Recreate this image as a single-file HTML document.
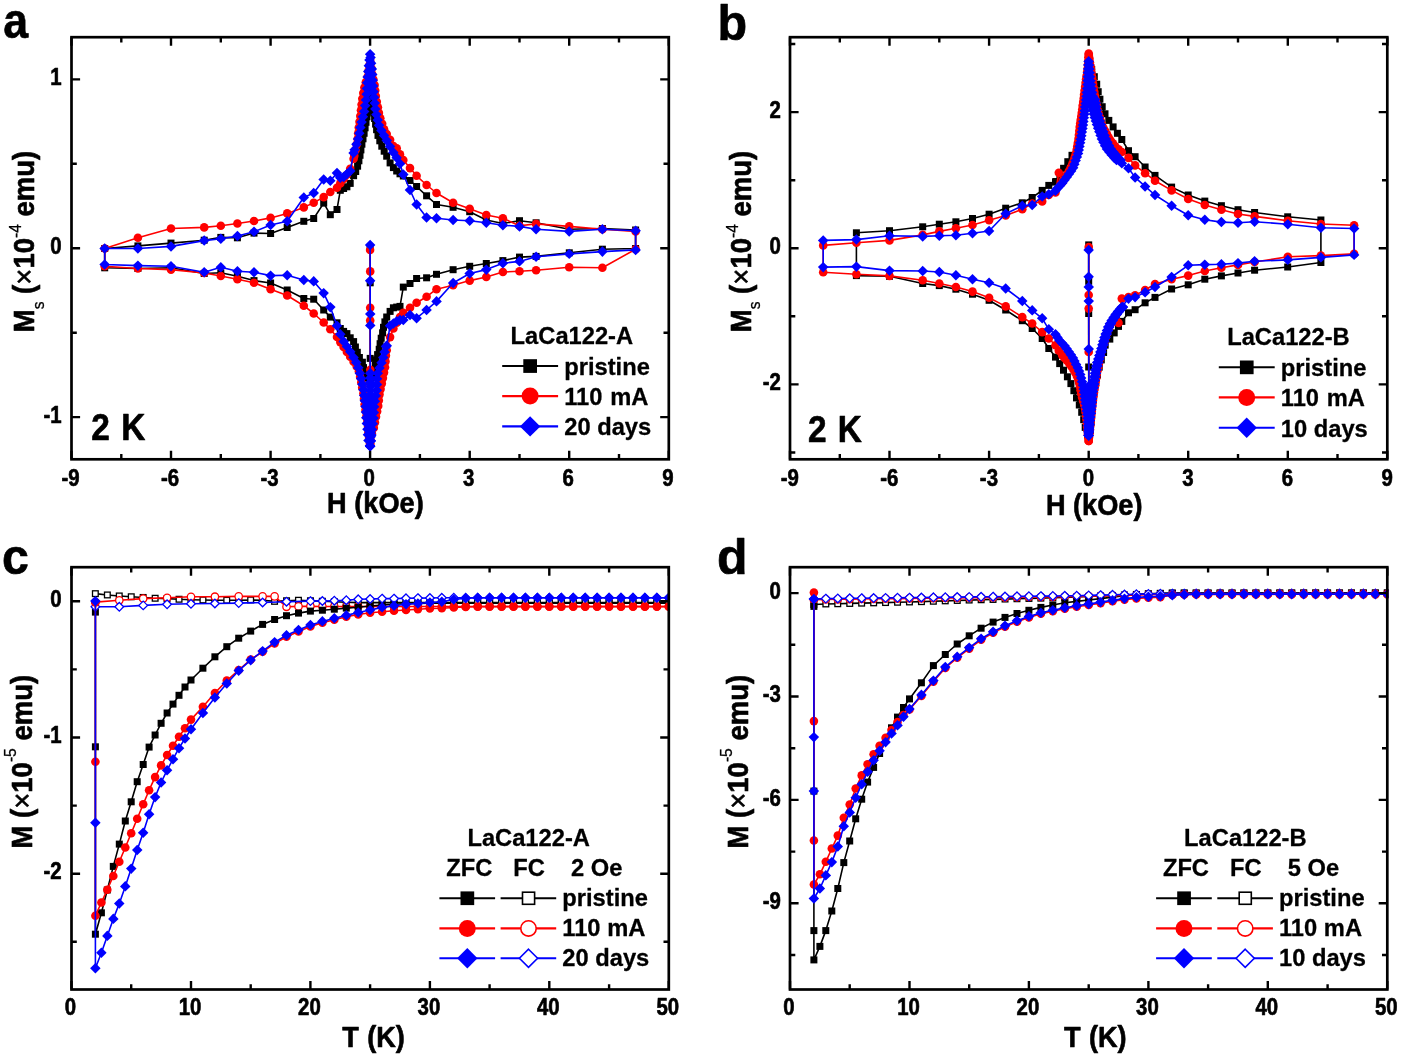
<!DOCTYPE html>
<html lang="en"><head><meta charset="utf-8"><title>Magnetization of LaCa122 samples</title>
<style>html,body{margin:0;padding:0;background:#fff}body{width:1401px;height:1056px;overflow:hidden}svg{display:block}text{font-family:'Liberation Sans', Arial, Helvetica, sans-serif;font-weight:bold;fill:#000;stroke:#000;stroke-width:0.65px;stroke-linejoin:round}tspan.n{font-weight:normal;stroke-width:0.3px}text.lt{stroke-width:0.3px}</style>
</head><body>
<svg width="1401" height="1056" viewBox="0 0 1401 1056" role="img" aria-label="Magnetization loops and temperature dependence for LaCa122-A and LaCa122-B">
<rect width="1401" height="1056" fill="#fff"/>
<g id="panel-a">
<clipPath id="clip-a"><rect x="71.5" y="37.2" width="598.5" height="422.1"/></clipPath>
<g clip-path="url(#clip-a)">
<polyline fill="none" stroke="#000000" stroke-width="1.6" stroke-linejoin="round" points="370.1,248 370.2,282.8 370.2,358.4 370.1,381.5 372.3,376.3 373.9,370.8 375.3,365.4 376.1,359.9 377.6,354.6 379.2,349.3 380.1,343.7 381.2,338.2 382.6,332.8 383.5,327.3 384.9,321.9 386.7,317 390.1,311.4 393.4,307.8 396.7,307.1 400,306.4 403.3,287.1 410,283.5 416.6,278.5 426.6,277.8 436.5,274.3 453.1,269.7 469.7,266.3 486.3,263.5 502.9,260.6 519.5,257.1 536.1,256.4 569.2,252.8 602.4,249.2 635.6,248.5 635.6,230 602.4,228.5 569.2,229.2 536.1,222.8 519.5,220.7 502.9,223.5 486.3,220 469.7,211.7 453.1,207.3 436.5,204.5 426.6,195.8 416.6,186.5 410,180.5 403.3,176 400,173.8 396.7,171 393.4,167.6 390.1,162.9 386.7,156.2 384.2,151.2 381.8,146.2 379.8,140.8 378,135.4 376.6,129.7 375.6,124.1 374.6,118.5 373.7,113 372.7,107.5 372,102 371.3,96.5 370.5,91 370.1,88 369.2,93.5 368.4,99.3 368,105.2 367.5,111 367,116.8 366,122.3 365.1,127.8 364.1,133.3 363,138.8 361.9,144.2 360.9,149.9 360,155.3 358.9,160.8 357.6,166.2 355.7,171.5 353.6,175.7 350.2,183.4 346.9,186.8 343.6,188.5 340.3,190.3 337,209.5 330.3,214.7 323.7,203.1 313.7,218.5 303.8,221.3 287.2,227.5 270.6,233.5 254,233.1 237.4,237.8 220.8,237.4 204.2,240.2 171,243.1 137.9,245.9 104.7,248.5 104.7,267.8 137.9,268.5 171,267.8 204.2,273.5 220.8,272.8 237.4,276.3 254,280.6 270.6,283 287.2,290 303.8,298.5 313.7,299.2 323.7,310 330.3,317.1 337,322.8 340.3,328.5 343.6,331.4 346.9,333.6 350.2,337.8 353.6,341.6 355.4,347 357.3,352.3 359.4,357.5 362.4,362.2 363.5,367.6 365,372.9 367,378.1 370.1,381.5"/>
<rect x="366.6" y="244.5" width="7" height="7" fill="#000000"/><rect x="366.7" y="279.3" width="7" height="7" fill="#000000"/><rect x="366.7" y="354.9" width="7" height="7" fill="#000000"/><rect x="366.6" y="378" width="7" height="7" fill="#000000"/><rect x="368.8" y="372.8" width="7" height="7" fill="#000000"/><rect x="370.4" y="367.3" width="7" height="7" fill="#000000"/><rect x="371.8" y="361.9" width="7" height="7" fill="#000000"/><rect x="372.6" y="356.4" width="7" height="7" fill="#000000"/><rect x="374.1" y="351.1" width="7" height="7" fill="#000000"/><rect x="375.7" y="345.8" width="7" height="7" fill="#000000"/><rect x="376.6" y="340.2" width="7" height="7" fill="#000000"/><rect x="377.7" y="334.7" width="7" height="7" fill="#000000"/><rect x="379.1" y="329.3" width="7" height="7" fill="#000000"/><rect x="380" y="323.8" width="7" height="7" fill="#000000"/><rect x="381.4" y="318.4" width="7" height="7" fill="#000000"/><rect x="383.2" y="313.5" width="7" height="7" fill="#000000"/><rect x="386.6" y="307.9" width="7" height="7" fill="#000000"/><rect x="389.9" y="304.3" width="7" height="7" fill="#000000"/><rect x="393.2" y="303.6" width="7" height="7" fill="#000000"/><rect x="396.5" y="302.9" width="7" height="7" fill="#000000"/><rect x="399.8" y="283.6" width="7" height="7" fill="#000000"/><rect x="406.5" y="280" width="7" height="7" fill="#000000"/><rect x="413.1" y="275" width="7" height="7" fill="#000000"/><rect x="423.1" y="274.3" width="7" height="7" fill="#000000"/><rect x="433" y="270.8" width="7" height="7" fill="#000000"/><rect x="449.6" y="266.2" width="7" height="7" fill="#000000"/><rect x="466.2" y="262.8" width="7" height="7" fill="#000000"/><rect x="482.8" y="260" width="7" height="7" fill="#000000"/><rect x="499.4" y="257.1" width="7" height="7" fill="#000000"/><rect x="516" y="253.6" width="7" height="7" fill="#000000"/><rect x="532.6" y="252.9" width="7" height="7" fill="#000000"/><rect x="565.8" y="249.3" width="7" height="7" fill="#000000"/><rect x="598.9" y="245.7" width="7" height="7" fill="#000000"/><rect x="632.1" y="245" width="7" height="7" fill="#000000"/><rect x="632.1" y="226.5" width="7" height="7" fill="#000000"/><rect x="598.9" y="225" width="7" height="7" fill="#000000"/><rect x="565.8" y="225.7" width="7" height="7" fill="#000000"/><rect x="532.6" y="219.3" width="7" height="7" fill="#000000"/><rect x="516" y="217.2" width="7" height="7" fill="#000000"/><rect x="499.4" y="220" width="7" height="7" fill="#000000"/><rect x="482.8" y="216.5" width="7" height="7" fill="#000000"/><rect x="466.2" y="208.2" width="7" height="7" fill="#000000"/><rect x="449.6" y="203.8" width="7" height="7" fill="#000000"/><rect x="433" y="201" width="7" height="7" fill="#000000"/><rect x="423.1" y="192.3" width="7" height="7" fill="#000000"/><rect x="413.1" y="183" width="7" height="7" fill="#000000"/><rect x="406.5" y="177" width="7" height="7" fill="#000000"/><rect x="399.8" y="172.5" width="7" height="7" fill="#000000"/><rect x="396.5" y="170.3" width="7" height="7" fill="#000000"/><rect x="393.2" y="167.5" width="7" height="7" fill="#000000"/><rect x="389.9" y="164.1" width="7" height="7" fill="#000000"/><rect x="386.6" y="159.4" width="7" height="7" fill="#000000"/><rect x="383.2" y="152.7" width="7" height="7" fill="#000000"/><rect x="380.7" y="147.7" width="7" height="7" fill="#000000"/><rect x="378.3" y="142.7" width="7" height="7" fill="#000000"/><rect x="376.3" y="137.3" width="7" height="7" fill="#000000"/><rect x="374.5" y="131.9" width="7" height="7" fill="#000000"/><rect x="373.1" y="126.2" width="7" height="7" fill="#000000"/><rect x="372.1" y="120.6" width="7" height="7" fill="#000000"/><rect x="371.1" y="115" width="7" height="7" fill="#000000"/><rect x="370.2" y="109.5" width="7" height="7" fill="#000000"/><rect x="369.2" y="104" width="7" height="7" fill="#000000"/><rect x="368.5" y="98.5" width="7" height="7" fill="#000000"/><rect x="367.8" y="93" width="7" height="7" fill="#000000"/><rect x="367" y="87.5" width="7" height="7" fill="#000000"/><rect x="366.6" y="84.5" width="7" height="7" fill="#000000"/><rect x="365.7" y="90" width="7" height="7" fill="#000000"/><rect x="364.9" y="95.8" width="7" height="7" fill="#000000"/><rect x="364.5" y="101.7" width="7" height="7" fill="#000000"/><rect x="364" y="107.5" width="7" height="7" fill="#000000"/><rect x="363.5" y="113.3" width="7" height="7" fill="#000000"/><rect x="362.5" y="118.8" width="7" height="7" fill="#000000"/><rect x="361.6" y="124.3" width="7" height="7" fill="#000000"/><rect x="360.6" y="129.8" width="7" height="7" fill="#000000"/><rect x="359.5" y="135.3" width="7" height="7" fill="#000000"/><rect x="358.4" y="140.7" width="7" height="7" fill="#000000"/><rect x="357.4" y="146.4" width="7" height="7" fill="#000000"/><rect x="356.5" y="151.8" width="7" height="7" fill="#000000"/><rect x="355.4" y="157.3" width="7" height="7" fill="#000000"/><rect x="354.1" y="162.7" width="7" height="7" fill="#000000"/><rect x="352.2" y="168" width="7" height="7" fill="#000000"/><rect x="350.1" y="172.2" width="7" height="7" fill="#000000"/><rect x="346.7" y="179.9" width="7" height="7" fill="#000000"/><rect x="343.4" y="183.3" width="7" height="7" fill="#000000"/><rect x="340.1" y="185" width="7" height="7" fill="#000000"/><rect x="336.8" y="186.8" width="7" height="7" fill="#000000"/><rect x="333.5" y="206" width="7" height="7" fill="#000000"/><rect x="326.8" y="211.2" width="7" height="7" fill="#000000"/><rect x="320.2" y="199.6" width="7" height="7" fill="#000000"/><rect x="310.2" y="215" width="7" height="7" fill="#000000"/><rect x="300.3" y="217.8" width="7" height="7" fill="#000000"/><rect x="283.7" y="224" width="7" height="7" fill="#000000"/><rect x="267.1" y="230" width="7" height="7" fill="#000000"/><rect x="250.5" y="229.6" width="7" height="7" fill="#000000"/><rect x="233.9" y="234.3" width="7" height="7" fill="#000000"/><rect x="217.3" y="233.9" width="7" height="7" fill="#000000"/><rect x="200.7" y="236.7" width="7" height="7" fill="#000000"/><rect x="167.5" y="239.6" width="7" height="7" fill="#000000"/><rect x="134.4" y="242.4" width="7" height="7" fill="#000000"/><rect x="101.2" y="245" width="7" height="7" fill="#000000"/><rect x="101.2" y="264.3" width="7" height="7" fill="#000000"/><rect x="134.4" y="265" width="7" height="7" fill="#000000"/><rect x="167.5" y="264.3" width="7" height="7" fill="#000000"/><rect x="200.7" y="270" width="7" height="7" fill="#000000"/><rect x="217.3" y="269.3" width="7" height="7" fill="#000000"/><rect x="233.9" y="272.8" width="7" height="7" fill="#000000"/><rect x="250.5" y="277.1" width="7" height="7" fill="#000000"/><rect x="267.1" y="279.5" width="7" height="7" fill="#000000"/><rect x="283.7" y="286.5" width="7" height="7" fill="#000000"/><rect x="300.3" y="295" width="7" height="7" fill="#000000"/><rect x="310.2" y="295.7" width="7" height="7" fill="#000000"/><rect x="320.2" y="306.5" width="7" height="7" fill="#000000"/><rect x="326.8" y="313.6" width="7" height="7" fill="#000000"/><rect x="333.5" y="319.3" width="7" height="7" fill="#000000"/><rect x="336.8" y="325" width="7" height="7" fill="#000000"/><rect x="340.1" y="327.9" width="7" height="7" fill="#000000"/><rect x="343.4" y="330.1" width="7" height="7" fill="#000000"/><rect x="346.7" y="334.3" width="7" height="7" fill="#000000"/><rect x="350.1" y="338.1" width="7" height="7" fill="#000000"/><rect x="351.9" y="343.5" width="7" height="7" fill="#000000"/><rect x="353.8" y="348.8" width="7" height="7" fill="#000000"/><rect x="355.9" y="354" width="7" height="7" fill="#000000"/><rect x="358.9" y="358.7" width="7" height="7" fill="#000000"/><rect x="360" y="364.1" width="7" height="7" fill="#000000"/><rect x="361.5" y="369.4" width="7" height="7" fill="#000000"/><rect x="363.5" y="374.6" width="7" height="7" fill="#000000"/><rect x="366.6" y="378" width="7" height="7" fill="#000000"/>
<polyline fill="none" stroke="#ff0000" stroke-width="1.6" stroke-linejoin="round" points="370.1,250 370.2,271.4 370.2,307.8 370.2,320.6 370.3,369.8 370.3,384 370.3,398 370.4,412 370.4,426 370.1,444 370.3,438.5 371.8,433.2 373.8,427.9 374.9,422.4 376,416.8 377.1,411.4 378.2,405.9 378.8,400.4 379.5,394.6 380.6,389.1 381.8,383.6 382.9,378.1 384,372.6 385,367.2 385.5,361.4 385.9,355.6 386.7,350.3 390.1,337.1 393.4,328.5 396.7,322.8 400,317 403.3,312.8 410,307.8 416.6,302.8 426.6,296.7 436.5,289.2 453.1,285.2 469.7,280.6 486.3,277 502.9,272 519.5,271.3 536.1,270.3 569.2,267.3 602.4,267.8 635.6,249.2 635.6,231.4 602.4,229.2 569.2,226.4 536.1,223.9 519.5,225.7 502.9,218.2 486.3,215 469.7,208.8 453.1,202.8 436.5,193 426.6,185 416.6,175.8 410,168.1 403.3,160 400,154.4 396.7,148.2 393.4,146.1 390.1,139.8 386.7,134.1 384.1,129.4 382.2,123.8 380.3,118.3 378.9,112.9 377.9,107.3 376.8,101.7 375.8,96 375.2,90.5 374.6,85 373.4,79.6 372.2,74.2 371.6,68.6 370.6,63 370.1,60 369.2,65.6 368.4,71.2 367.6,76.8 365.8,82.2 364.4,87.6 363.3,93.1 362.3,98.8 361.6,104.6 361,110.3 360.3,116 359.5,121.8 358.8,127.5 358.2,133.2 357.7,138.9 356.6,144.6 355.5,150.3 354.3,155.7 353.6,158.8 350.2,168.8 346.9,174.8 343.6,179 340.3,183.4 337,187.7 330.3,192 323.7,197.1 313.7,202.7 303.8,207.4 287.2,213.4 270.6,217.9 254,221 237.4,223.5 220.8,225.7 204.2,227.4 171,228.5 137.9,237.8 104.7,248.5 104.7,266.3 137.9,268.5 171,269.6 204.2,273 220.8,276 237.4,279.2 254,282.8 270.6,289.2 287.2,295.5 303.8,305.7 313.7,313.5 323.7,322.5 330.3,329.2 337,337 340.3,342.1 343.6,347 346.9,351.9 350.2,356.8 353.6,361.7 356.7,366.4 358.9,371.5 360.1,376.9 361.3,382.4 362.2,387.8 363.4,393.4 364,399 364.6,404.6 365.5,410.1 366.5,415.7 367.4,421.1 368.1,426.6 368.5,432.2 369.1,437.8 370.1,443.4 370.1,444"/>
<circle cx="370.1" cy="250" r="4.3" fill="#ff0000"/><circle cx="370.2" cy="271.4" r="4.3" fill="#ff0000"/><circle cx="370.2" cy="307.8" r="4.3" fill="#ff0000"/><circle cx="370.2" cy="320.6" r="4.3" fill="#ff0000"/><circle cx="370.3" cy="369.8" r="4.3" fill="#ff0000"/><circle cx="370.3" cy="384" r="4.3" fill="#ff0000"/><circle cx="370.3" cy="398" r="4.3" fill="#ff0000"/><circle cx="370.4" cy="412" r="4.3" fill="#ff0000"/><circle cx="370.4" cy="426" r="4.3" fill="#ff0000"/><circle cx="370.1" cy="444" r="4.3" fill="#ff0000"/><circle cx="370.3" cy="438.5" r="4.3" fill="#ff0000"/><circle cx="371.8" cy="433.2" r="4.3" fill="#ff0000"/><circle cx="373.8" cy="427.9" r="4.3" fill="#ff0000"/><circle cx="374.9" cy="422.4" r="4.3" fill="#ff0000"/><circle cx="376" cy="416.8" r="4.3" fill="#ff0000"/><circle cx="377.1" cy="411.4" r="4.3" fill="#ff0000"/><circle cx="378.2" cy="405.9" r="4.3" fill="#ff0000"/><circle cx="378.8" cy="400.4" r="4.3" fill="#ff0000"/><circle cx="379.5" cy="394.6" r="4.3" fill="#ff0000"/><circle cx="380.6" cy="389.1" r="4.3" fill="#ff0000"/><circle cx="381.8" cy="383.6" r="4.3" fill="#ff0000"/><circle cx="382.9" cy="378.1" r="4.3" fill="#ff0000"/><circle cx="384" cy="372.6" r="4.3" fill="#ff0000"/><circle cx="385" cy="367.2" r="4.3" fill="#ff0000"/><circle cx="385.5" cy="361.4" r="4.3" fill="#ff0000"/><circle cx="385.9" cy="355.6" r="4.3" fill="#ff0000"/><circle cx="386.7" cy="350.3" r="4.3" fill="#ff0000"/><circle cx="390.1" cy="337.1" r="4.3" fill="#ff0000"/><circle cx="393.4" cy="328.5" r="4.3" fill="#ff0000"/><circle cx="396.7" cy="322.8" r="4.3" fill="#ff0000"/><circle cx="400" cy="317" r="4.3" fill="#ff0000"/><circle cx="403.3" cy="312.8" r="4.3" fill="#ff0000"/><circle cx="410" cy="307.8" r="4.3" fill="#ff0000"/><circle cx="416.6" cy="302.8" r="4.3" fill="#ff0000"/><circle cx="426.6" cy="296.7" r="4.3" fill="#ff0000"/><circle cx="436.5" cy="289.2" r="4.3" fill="#ff0000"/><circle cx="453.1" cy="285.2" r="4.3" fill="#ff0000"/><circle cx="469.7" cy="280.6" r="4.3" fill="#ff0000"/><circle cx="486.3" cy="277" r="4.3" fill="#ff0000"/><circle cx="502.9" cy="272" r="4.3" fill="#ff0000"/><circle cx="519.5" cy="271.3" r="4.3" fill="#ff0000"/><circle cx="536.1" cy="270.3" r="4.3" fill="#ff0000"/><circle cx="569.2" cy="267.3" r="4.3" fill="#ff0000"/><circle cx="602.4" cy="267.8" r="4.3" fill="#ff0000"/><circle cx="635.6" cy="249.2" r="4.3" fill="#ff0000"/><circle cx="635.6" cy="231.4" r="4.3" fill="#ff0000"/><circle cx="602.4" cy="229.2" r="4.3" fill="#ff0000"/><circle cx="569.2" cy="226.4" r="4.3" fill="#ff0000"/><circle cx="536.1" cy="223.9" r="4.3" fill="#ff0000"/><circle cx="519.5" cy="225.7" r="4.3" fill="#ff0000"/><circle cx="502.9" cy="218.2" r="4.3" fill="#ff0000"/><circle cx="486.3" cy="215" r="4.3" fill="#ff0000"/><circle cx="469.7" cy="208.8" r="4.3" fill="#ff0000"/><circle cx="453.1" cy="202.8" r="4.3" fill="#ff0000"/><circle cx="436.5" cy="193" r="4.3" fill="#ff0000"/><circle cx="426.6" cy="185" r="4.3" fill="#ff0000"/><circle cx="416.6" cy="175.8" r="4.3" fill="#ff0000"/><circle cx="410" cy="168.1" r="4.3" fill="#ff0000"/><circle cx="403.3" cy="160" r="4.3" fill="#ff0000"/><circle cx="400" cy="154.4" r="4.3" fill="#ff0000"/><circle cx="396.7" cy="148.2" r="4.3" fill="#ff0000"/><circle cx="393.4" cy="146.1" r="4.3" fill="#ff0000"/><circle cx="390.1" cy="139.8" r="4.3" fill="#ff0000"/><circle cx="386.7" cy="134.1" r="4.3" fill="#ff0000"/><circle cx="384.1" cy="129.4" r="4.3" fill="#ff0000"/><circle cx="382.2" cy="123.8" r="4.3" fill="#ff0000"/><circle cx="380.3" cy="118.3" r="4.3" fill="#ff0000"/><circle cx="378.9" cy="112.9" r="4.3" fill="#ff0000"/><circle cx="377.9" cy="107.3" r="4.3" fill="#ff0000"/><circle cx="376.8" cy="101.7" r="4.3" fill="#ff0000"/><circle cx="375.8" cy="96" r="4.3" fill="#ff0000"/><circle cx="375.2" cy="90.5" r="4.3" fill="#ff0000"/><circle cx="374.6" cy="85" r="4.3" fill="#ff0000"/><circle cx="373.4" cy="79.6" r="4.3" fill="#ff0000"/><circle cx="372.2" cy="74.2" r="4.3" fill="#ff0000"/><circle cx="371.6" cy="68.6" r="4.3" fill="#ff0000"/><circle cx="370.6" cy="63" r="4.3" fill="#ff0000"/><circle cx="370.1" cy="60" r="4.3" fill="#ff0000"/><circle cx="369.2" cy="65.6" r="4.3" fill="#ff0000"/><circle cx="368.4" cy="71.2" r="4.3" fill="#ff0000"/><circle cx="367.6" cy="76.8" r="4.3" fill="#ff0000"/><circle cx="365.8" cy="82.2" r="4.3" fill="#ff0000"/><circle cx="364.4" cy="87.6" r="4.3" fill="#ff0000"/><circle cx="363.3" cy="93.1" r="4.3" fill="#ff0000"/><circle cx="362.3" cy="98.8" r="4.3" fill="#ff0000"/><circle cx="361.6" cy="104.6" r="4.3" fill="#ff0000"/><circle cx="361" cy="110.3" r="4.3" fill="#ff0000"/><circle cx="360.3" cy="116" r="4.3" fill="#ff0000"/><circle cx="359.5" cy="121.8" r="4.3" fill="#ff0000"/><circle cx="358.8" cy="127.5" r="4.3" fill="#ff0000"/><circle cx="358.2" cy="133.2" r="4.3" fill="#ff0000"/><circle cx="357.7" cy="138.9" r="4.3" fill="#ff0000"/><circle cx="356.6" cy="144.6" r="4.3" fill="#ff0000"/><circle cx="355.5" cy="150.3" r="4.3" fill="#ff0000"/><circle cx="354.3" cy="155.7" r="4.3" fill="#ff0000"/><circle cx="353.6" cy="158.8" r="4.3" fill="#ff0000"/><circle cx="350.2" cy="168.8" r="4.3" fill="#ff0000"/><circle cx="346.9" cy="174.8" r="4.3" fill="#ff0000"/><circle cx="343.6" cy="179" r="4.3" fill="#ff0000"/><circle cx="340.3" cy="183.4" r="4.3" fill="#ff0000"/><circle cx="337" cy="187.7" r="4.3" fill="#ff0000"/><circle cx="330.3" cy="192" r="4.3" fill="#ff0000"/><circle cx="323.7" cy="197.1" r="4.3" fill="#ff0000"/><circle cx="313.7" cy="202.7" r="4.3" fill="#ff0000"/><circle cx="303.8" cy="207.4" r="4.3" fill="#ff0000"/><circle cx="287.2" cy="213.4" r="4.3" fill="#ff0000"/><circle cx="270.6" cy="217.9" r="4.3" fill="#ff0000"/><circle cx="254" cy="221" r="4.3" fill="#ff0000"/><circle cx="237.4" cy="223.5" r="4.3" fill="#ff0000"/><circle cx="220.8" cy="225.7" r="4.3" fill="#ff0000"/><circle cx="204.2" cy="227.4" r="4.3" fill="#ff0000"/><circle cx="171" cy="228.5" r="4.3" fill="#ff0000"/><circle cx="137.9" cy="237.8" r="4.3" fill="#ff0000"/><circle cx="104.7" cy="248.5" r="4.3" fill="#ff0000"/><circle cx="104.7" cy="266.3" r="4.3" fill="#ff0000"/><circle cx="137.9" cy="268.5" r="4.3" fill="#ff0000"/><circle cx="171" cy="269.6" r="4.3" fill="#ff0000"/><circle cx="204.2" cy="273" r="4.3" fill="#ff0000"/><circle cx="220.8" cy="276" r="4.3" fill="#ff0000"/><circle cx="237.4" cy="279.2" r="4.3" fill="#ff0000"/><circle cx="254" cy="282.8" r="4.3" fill="#ff0000"/><circle cx="270.6" cy="289.2" r="4.3" fill="#ff0000"/><circle cx="287.2" cy="295.5" r="4.3" fill="#ff0000"/><circle cx="303.8" cy="305.7" r="4.3" fill="#ff0000"/><circle cx="313.7" cy="313.5" r="4.3" fill="#ff0000"/><circle cx="323.7" cy="322.5" r="4.3" fill="#ff0000"/><circle cx="330.3" cy="329.2" r="4.3" fill="#ff0000"/><circle cx="337" cy="337" r="4.3" fill="#ff0000"/><circle cx="340.3" cy="342.1" r="4.3" fill="#ff0000"/><circle cx="343.6" cy="347" r="4.3" fill="#ff0000"/><circle cx="346.9" cy="351.9" r="4.3" fill="#ff0000"/><circle cx="350.2" cy="356.8" r="4.3" fill="#ff0000"/><circle cx="353.6" cy="361.7" r="4.3" fill="#ff0000"/><circle cx="356.7" cy="366.4" r="4.3" fill="#ff0000"/><circle cx="358.9" cy="371.5" r="4.3" fill="#ff0000"/><circle cx="360.1" cy="376.9" r="4.3" fill="#ff0000"/><circle cx="361.3" cy="382.4" r="4.3" fill="#ff0000"/><circle cx="362.2" cy="387.8" r="4.3" fill="#ff0000"/><circle cx="363.4" cy="393.4" r="4.3" fill="#ff0000"/><circle cx="364" cy="399" r="4.3" fill="#ff0000"/><circle cx="364.6" cy="404.6" r="4.3" fill="#ff0000"/><circle cx="365.5" cy="410.1" r="4.3" fill="#ff0000"/><circle cx="366.5" cy="415.7" r="4.3" fill="#ff0000"/><circle cx="367.4" cy="421.1" r="4.3" fill="#ff0000"/><circle cx="368.1" cy="426.6" r="4.3" fill="#ff0000"/><circle cx="368.5" cy="432.2" r="4.3" fill="#ff0000"/><circle cx="369.1" cy="437.8" r="4.3" fill="#ff0000"/><circle cx="370.1" cy="443.4" r="4.3" fill="#ff0000"/><circle cx="370.1" cy="444" r="4.3" fill="#ff0000"/>
<polyline fill="none" stroke="#0000ff" stroke-width="1.6" stroke-linejoin="round" points="370.1,245 370.2,280.7 370.2,314 370.2,325.4 370.3,373.2 370.3,378 370.3,382.2 370.4,386.4 370.4,390.6 370.4,394.8 370.4,399 370.5,403.2 370.5,407.4 370.5,411.6 370.6,415.8 370.6,420 370.6,424.2 370.7,428.4 370.7,432.6 370.7,436.8 370.8,441 370.1,446.3 370.8,440.7 371.4,435.1 372,429.5 372.8,423.8 373.6,418.1 373.9,412.4 374.2,406.8 374.9,401.3 375.8,395.7 376.8,390.2 376.9,384.6 377,378.8 377.8,373.2 379.5,367.9 381.5,362.7 383.2,357.5 384.6,352 386,346.5 386.7,345.8 390.1,325.7 393.4,323.5 396.7,321.4 400,320 403.3,320 410,315 416.6,318.2 426.6,310 436.5,301.4 453.1,283 469.7,273.5 486.3,269.6 502.9,263.2 519.5,261.4 536.1,256.8 569.2,253.9 602.4,251.6 635.6,249.9 635.6,230.7 602.4,229.2 569.2,231.4 536.1,229.2 519.5,226.4 502.9,225.2 486.3,222.8 469.7,220.7 453.1,220 436.5,218.2 426.6,217.4 416.6,204.5 410,190 403.3,174.5 400,163.7 396.7,157.8 393.4,152.5 390.1,146.4 386.7,140.6 384,135.6 381.4,130.5 379,125.3 377.7,120 376.4,114.6 375.4,108.9 374.8,103.1 374.2,97.4 373.6,91.7 373.1,86 372.6,80.3 372.2,74.6 371.8,68.9 371.2,63.2 370.5,57.5 370.1,54.3 369.5,60 368.8,65.7 368.2,71.4 367.7,77.1 367.2,82.8 366.9,88.5 366.6,94.2 366,99.9 365.1,105.6 364.2,111.4 362.9,116.8 361.6,122.1 360.3,127.5 359.2,133.2 358.1,138.9 356.5,144.2 354.6,149.8 353.6,153 350.2,171 346.9,174 343.6,177 340.3,177.8 337,173.1 330.3,180.8 323.7,179.5 313.7,193 303.8,197.5 287.2,221.3 270.6,225 254,231.8 237.4,236.1 220.8,238.8 204.2,240.6 171,246.4 137.9,248.5 104.7,248.5 104.7,264.5 137.9,265.6 171,266.3 204.2,272.3 220.8,267.3 237.4,271.3 254,272.3 270.6,275.6 287.2,275.2 303.8,280 313.7,281.4 323.7,293.1 330.3,307.1 337,325.7 340.3,334.2 343.6,341.4 346.9,346.5 350.2,351.7 353.6,357.5 356.3,362.5 358.3,367.8 359.9,373.2 361.2,378.6 362.4,384.2 363.4,389.8 364.1,395.4 364.8,400.8 365.6,406.4 365.9,412.1 366.2,417.8 366.8,423.5 367.4,429.2 367.9,434.8 368.4,440.4 370,445.8 370.1,446.3"/>
<polygon points="370.1,239.8 375.4,245 370.1,250.2 364.9,245" fill="#0000ff"/><polygon points="370.2,275.4 375.4,280.7 370.2,285.9 364.9,280.7" fill="#0000ff"/><polygon points="370.2,308.8 375.5,314 370.2,319.2 365,314" fill="#0000ff"/><polygon points="370.2,320.1 375.5,325.4 370.2,330.6 365,325.4" fill="#0000ff"/><polygon points="370.3,367.9 375.5,373.2 370.3,378.4 365,373.2" fill="#0000ff"/><polygon points="370.3,372.8 375.5,378 370.3,383.2 365,378" fill="#0000ff"/><polygon points="370.3,376.9 375.6,382.2 370.3,387.4 365.1,382.2" fill="#0000ff"/><polygon points="370.4,381.1 375.6,386.4 370.4,391.6 365.1,386.4" fill="#0000ff"/><polygon points="370.4,385.4 375.6,390.6 370.4,395.9 365.1,390.6" fill="#0000ff"/><polygon points="370.4,389.6 375.7,394.8 370.4,400.1 365.2,394.8" fill="#0000ff"/><polygon points="370.4,393.8 375.7,399 370.4,404.2 365.2,399" fill="#0000ff"/><polygon points="370.5,397.9 375.7,403.2 370.5,408.4 365.2,403.2" fill="#0000ff"/><polygon points="370.5,402.1 375.8,407.4 370.5,412.6 365.3,407.4" fill="#0000ff"/><polygon points="370.5,406.4 375.8,411.6 370.5,416.9 365.3,411.6" fill="#0000ff"/><polygon points="370.6,410.6 375.8,415.8 370.6,421.1 365.3,415.8" fill="#0000ff"/><polygon points="370.6,414.8 375.8,420 370.6,425.2 365.3,420" fill="#0000ff"/><polygon points="370.6,418.9 375.9,424.2 370.6,429.4 365.4,424.2" fill="#0000ff"/><polygon points="370.7,423.1 375.9,428.4 370.7,433.6 365.4,428.4" fill="#0000ff"/><polygon points="370.7,427.4 375.9,432.6 370.7,437.9 365.4,432.6" fill="#0000ff"/><polygon points="370.7,431.6 376,436.8 370.7,442.1 365.5,436.8" fill="#0000ff"/><polygon points="370.8,435.8 376,441 370.8,446.2 365.5,441" fill="#0000ff"/><polygon points="370.1,441.1 375.4,446.3 370.1,451.6 364.9,446.3" fill="#0000ff"/><polygon points="370.8,435.5 376.1,440.7 370.8,446 365.6,440.7" fill="#0000ff"/><polygon points="371.4,429.9 376.7,435.1 371.4,440.4 366.2,435.1" fill="#0000ff"/><polygon points="372,424.3 377.2,429.5 372,434.8 366.7,429.5" fill="#0000ff"/><polygon points="372.8,418.6 378.1,423.8 372.8,429.1 367.6,423.8" fill="#0000ff"/><polygon points="373.6,412.9 378.9,418.1 373.6,423.4 368.4,418.1" fill="#0000ff"/><polygon points="373.9,407.2 379.1,412.4 373.9,417.7 368.6,412.4" fill="#0000ff"/><polygon points="374.2,401.5 379.4,406.8 374.2,412 368.9,406.8" fill="#0000ff"/><polygon points="374.9,396 380.2,401.3 374.9,406.5 369.7,401.3" fill="#0000ff"/><polygon points="375.8,390.5 381.1,395.7 375.8,401 370.6,395.7" fill="#0000ff"/><polygon points="376.8,385 382,390.2 376.8,395.5 371.5,390.2" fill="#0000ff"/><polygon points="376.9,379.3 382.2,384.6 376.9,389.8 371.7,384.6" fill="#0000ff"/><polygon points="377,373.5 382.3,378.8 377,384 371.8,378.8" fill="#0000ff"/><polygon points="377.8,368 383,373.2 377.8,378.5 372.5,373.2" fill="#0000ff"/><polygon points="379.5,362.7 384.8,367.9 379.5,373.2 374.3,367.9" fill="#0000ff"/><polygon points="381.5,357.5 386.8,362.7 381.5,368 376.3,362.7" fill="#0000ff"/><polygon points="383.2,352.2 388.5,357.5 383.2,362.7 378,357.5" fill="#0000ff"/><polygon points="384.6,346.8 389.9,352 384.6,357.3 379.4,352" fill="#0000ff"/><polygon points="386,341.2 391.3,346.5 386,351.7 380.8,346.5" fill="#0000ff"/><polygon points="386.7,340.6 392,345.8 386.7,351.1 381.5,345.8" fill="#0000ff"/><polygon points="390.1,320.4 395.3,325.7 390.1,330.9 384.8,325.7" fill="#0000ff"/><polygon points="393.4,318.2 398.6,323.5 393.4,328.8 388.1,323.5" fill="#0000ff"/><polygon points="396.7,316.1 401.9,321.4 396.7,326.6 391.4,321.4" fill="#0000ff"/><polygon points="400,314.8 405.3,320 400,325.2 394.8,320" fill="#0000ff"/><polygon points="403.3,314.8 408.6,320 403.3,325.2 398.1,320" fill="#0000ff"/><polygon points="410,309.8 415.2,315 410,320.2 404.7,315" fill="#0000ff"/><polygon points="416.6,312.9 421.9,318.2 416.6,323.4 411.4,318.2" fill="#0000ff"/><polygon points="426.6,304.8 431.8,310 426.6,315.2 421.3,310" fill="#0000ff"/><polygon points="436.5,296.1 441.8,301.4 436.5,306.6 431.3,301.4" fill="#0000ff"/><polygon points="453.1,277.8 458.4,283 453.1,288.2 447.9,283" fill="#0000ff"/><polygon points="469.7,268.2 474.9,273.5 469.7,278.8 464.4,273.5" fill="#0000ff"/><polygon points="486.3,264.4 491.5,269.6 486.3,274.9 481,269.6" fill="#0000ff"/><polygon points="502.9,257.9 508.1,263.2 502.9,268.4 497.6,263.2" fill="#0000ff"/><polygon points="519.5,256.1 524.7,261.4 519.5,266.6 514.2,261.4" fill="#0000ff"/><polygon points="536.1,251.6 541.3,256.8 536.1,262.1 530.8,256.8" fill="#0000ff"/><polygon points="569.2,248.7 574.5,253.9 569.2,259.1 564,253.9" fill="#0000ff"/><polygon points="602.4,246.3 607.7,251.6 602.4,256.9 597.2,251.6" fill="#0000ff"/><polygon points="635.6,244.7 640.9,249.9 635.6,255.2 630.4,249.9" fill="#0000ff"/><polygon points="635.6,225.4 640.9,230.7 635.6,235.9 630.4,230.7" fill="#0000ff"/><polygon points="602.4,223.9 607.7,229.2 602.4,234.4 597.2,229.2" fill="#0000ff"/><polygon points="569.2,226.2 574.5,231.4 569.2,236.7 564,231.4" fill="#0000ff"/><polygon points="536.1,223.9 541.3,229.2 536.1,234.4 530.8,229.2" fill="#0000ff"/><polygon points="519.5,221.2 524.7,226.4 519.5,231.7 514.2,226.4" fill="#0000ff"/><polygon points="502.9,219.9 508.1,225.2 502.9,230.4 497.6,225.2" fill="#0000ff"/><polygon points="486.3,217.6 491.5,222.8 486.3,228.1 481,222.8" fill="#0000ff"/><polygon points="469.7,215.4 474.9,220.7 469.7,225.9 464.4,220.7" fill="#0000ff"/><polygon points="453.1,214.8 458.4,220 453.1,225.2 447.9,220" fill="#0000ff"/><polygon points="436.5,212.9 441.8,218.2 436.5,223.4 431.3,218.2" fill="#0000ff"/><polygon points="426.6,212.2 431.8,217.4 426.6,222.7 421.3,217.4" fill="#0000ff"/><polygon points="416.6,199.2 421.9,204.5 416.6,209.8 411.4,204.5" fill="#0000ff"/><polygon points="410,184.8 415.2,190 410,195.2 404.7,190" fill="#0000ff"/><polygon points="403.3,169.2 408.6,174.5 403.3,179.8 398.1,174.5" fill="#0000ff"/><polygon points="400,158.5 405.3,163.7 400,169 394.8,163.7" fill="#0000ff"/><polygon points="396.7,152.5 401.9,157.8 396.7,163 391.4,157.8" fill="#0000ff"/><polygon points="393.4,147.2 398.6,152.5 393.4,157.8 388.1,152.5" fill="#0000ff"/><polygon points="390.1,141.2 395.3,146.4 390.1,151.7 384.8,146.4" fill="#0000ff"/><polygon points="386.7,135.3 392,140.6 386.7,145.8 381.5,140.6" fill="#0000ff"/><polygon points="384,130.3 389.3,135.6 384,140.8 378.8,135.6" fill="#0000ff"/><polygon points="381.4,125.3 386.7,130.5 381.4,135.8 376.2,130.5" fill="#0000ff"/><polygon points="379,120.1 384.3,125.3 379,130.6 373.8,125.3" fill="#0000ff"/><polygon points="377.7,114.7 383,120 377.7,125.2 372.5,120" fill="#0000ff"/><polygon points="376.4,109.4 381.7,114.6 376.4,119.9 371.2,114.6" fill="#0000ff"/><polygon points="375.4,103.6 380.6,108.9 375.4,114.1 370.1,108.9" fill="#0000ff"/><polygon points="374.8,97.9 380,103.1 374.8,108.4 369.5,103.1" fill="#0000ff"/><polygon points="374.2,92.1 379.4,97.4 374.2,102.6 368.9,97.4" fill="#0000ff"/><polygon points="373.6,86.4 378.9,91.7 373.6,96.9 368.4,91.7" fill="#0000ff"/><polygon points="373.1,80.7 378.4,86 373.1,91.2 367.9,86" fill="#0000ff"/><polygon points="372.6,75 377.9,80.3 372.6,85.5 367.4,80.3" fill="#0000ff"/><polygon points="372.2,69.3 377.5,74.6 372.2,79.8 367,74.6" fill="#0000ff"/><polygon points="371.8,63.6 377.1,68.9 371.8,74.1 366.6,68.9" fill="#0000ff"/><polygon points="371.2,57.9 376.4,63.2 371.2,68.4 365.9,63.2" fill="#0000ff"/><polygon points="370.5,52.2 375.8,57.5 370.5,62.7 365.3,57.5" fill="#0000ff"/><polygon points="370.1,49 375.4,54.3 370.1,59.5 364.9,54.3" fill="#0000ff"/><polygon points="369.5,54.7 374.7,60 369.5,65.2 364.2,60" fill="#0000ff"/><polygon points="368.8,60.4 374.1,65.7 368.8,70.9 363.6,65.7" fill="#0000ff"/><polygon points="368.2,66.1 373.5,71.4 368.2,76.6 363,71.4" fill="#0000ff"/><polygon points="367.7,71.8 372.9,77.1 367.7,82.3 362.4,77.1" fill="#0000ff"/><polygon points="367.2,77.5 372.4,82.8 367.2,88 361.9,82.8" fill="#0000ff"/><polygon points="366.9,83.2 372.1,88.5 366.9,93.7 361.6,88.5" fill="#0000ff"/><polygon points="366.6,88.9 371.9,94.2 366.6,99.4 361.4,94.2" fill="#0000ff"/><polygon points="366,94.6 371.3,99.9 366,105.1 360.8,99.9" fill="#0000ff"/><polygon points="365.1,100.4 370.4,105.6 365.1,110.9 359.9,105.6" fill="#0000ff"/><polygon points="364.2,106.2 369.4,111.4 364.2,116.7 358.9,111.4" fill="#0000ff"/><polygon points="362.9,111.5 368.1,116.8 362.9,122 357.6,116.8" fill="#0000ff"/><polygon points="361.6,116.9 366.8,122.1 361.6,127.4 356.3,122.1" fill="#0000ff"/><polygon points="360.3,122.2 365.6,127.5 360.3,132.7 355.1,127.5" fill="#0000ff"/><polygon points="359.2,128 364.5,133.2 359.2,138.5 354,133.2" fill="#0000ff"/><polygon points="358.1,133.7 363.3,138.9 358.1,144.2 352.8,138.9" fill="#0000ff"/><polygon points="356.5,139 361.7,144.2 356.5,149.5 351.2,144.2" fill="#0000ff"/><polygon points="354.6,144.5 359.9,149.8 354.6,155 349.4,149.8" fill="#0000ff"/><polygon points="353.6,147.8 358.8,153 353.6,158.2 348.3,153" fill="#0000ff"/><polygon points="350.2,165.8 355.5,171 350.2,176.2 345,171" fill="#0000ff"/><polygon points="346.9,168.8 352.2,174 346.9,179.2 341.7,174" fill="#0000ff"/><polygon points="343.6,171.8 348.9,177 343.6,182.2 338.4,177" fill="#0000ff"/><polygon points="340.3,172.6 345.5,177.8 340.3,183.1 335,177.8" fill="#0000ff"/><polygon points="337,167.8 342.2,173.1 337,178.3 331.7,173.1" fill="#0000ff"/><polygon points="330.3,175.6 335.6,180.8 330.3,186.1 325.1,180.8" fill="#0000ff"/><polygon points="323.7,174.2 328.9,179.5 323.7,184.8 318.4,179.5" fill="#0000ff"/><polygon points="313.7,187.8 319,193 313.7,198.2 308.5,193" fill="#0000ff"/><polygon points="303.8,192.2 309,197.5 303.8,202.8 298.5,197.5" fill="#0000ff"/><polygon points="287.2,216.1 292.4,221.3 287.2,226.6 281.9,221.3" fill="#0000ff"/><polygon points="270.6,219.8 275.8,225 270.6,230.2 265.3,225" fill="#0000ff"/><polygon points="254,226.6 259.3,231.8 254,237.1 248.8,231.8" fill="#0000ff"/><polygon points="237.4,230.8 242.7,236.1 237.4,241.3 232.2,236.1" fill="#0000ff"/><polygon points="220.8,233.6 226.1,238.8 220.8,244.1 215.6,238.8" fill="#0000ff"/><polygon points="204.2,235.3 209.5,240.6 204.2,245.8 199,240.6" fill="#0000ff"/><polygon points="171,241.2 176.3,246.4 171,251.7 165.8,246.4" fill="#0000ff"/><polygon points="137.9,243.2 143.1,248.5 137.9,253.8 132.6,248.5" fill="#0000ff"/><polygon points="104.7,243.2 109.9,248.5 104.7,253.8 99.4,248.5" fill="#0000ff"/><polygon points="104.7,259.2 109.9,264.5 104.7,269.8 99.4,264.5" fill="#0000ff"/><polygon points="137.9,260.4 143.1,265.6 137.9,270.9 132.6,265.6" fill="#0000ff"/><polygon points="171,261.1 176.3,266.3 171,271.6 165.8,266.3" fill="#0000ff"/><polygon points="204.2,267.1 209.5,272.3 204.2,277.6 199,272.3" fill="#0000ff"/><polygon points="220.8,262.1 226.1,267.3 220.8,272.6 215.6,267.3" fill="#0000ff"/><polygon points="237.4,266.1 242.7,271.3 237.4,276.6 232.2,271.3" fill="#0000ff"/><polygon points="254,267.1 259.3,272.3 254,277.6 248.8,272.3" fill="#0000ff"/><polygon points="270.6,270.4 275.8,275.6 270.6,280.9 265.3,275.6" fill="#0000ff"/><polygon points="287.2,269.9 292.4,275.2 287.2,280.4 281.9,275.2" fill="#0000ff"/><polygon points="303.8,274.8 309,280 303.8,285.2 298.5,280" fill="#0000ff"/><polygon points="313.7,276.1 319,281.4 313.7,286.6 308.5,281.4" fill="#0000ff"/><polygon points="323.7,287.9 328.9,293.1 323.7,298.4 318.4,293.1" fill="#0000ff"/><polygon points="330.3,301.9 335.6,307.1 330.3,312.4 325.1,307.1" fill="#0000ff"/><polygon points="337,320.4 342.2,325.7 337,330.9 331.7,325.7" fill="#0000ff"/><polygon points="340.3,328.9 345.5,334.2 340.3,339.4 335,334.2" fill="#0000ff"/><polygon points="343.6,336.1 348.9,341.4 343.6,346.6 338.4,341.4" fill="#0000ff"/><polygon points="346.9,341.2 352.2,346.5 346.9,351.8 341.7,346.5" fill="#0000ff"/><polygon points="350.2,346.4 355.5,351.7 350.2,356.9 345,351.7" fill="#0000ff"/><polygon points="353.6,352.2 358.8,357.5 353.6,362.8 348.3,357.5" fill="#0000ff"/><polygon points="356.3,357.2 361.5,362.5 356.3,367.7 351,362.5" fill="#0000ff"/><polygon points="358.3,362.6 363.5,367.8 358.3,373.1 353,367.8" fill="#0000ff"/><polygon points="359.9,368 365.1,373.2 359.9,378.5 354.6,373.2" fill="#0000ff"/><polygon points="361.2,373.4 366.4,378.6 361.2,383.9 355.9,378.6" fill="#0000ff"/><polygon points="362.4,379 367.6,384.2 362.4,389.5 357.1,384.2" fill="#0000ff"/><polygon points="363.4,384.6 368.7,389.8 363.4,395.1 358.2,389.8" fill="#0000ff"/><polygon points="364.1,390.1 369.4,395.4 364.1,400.6 358.9,395.4" fill="#0000ff"/><polygon points="364.8,395.6 370.1,400.8 364.8,406.1 359.6,400.8" fill="#0000ff"/><polygon points="365.6,401.1 370.8,406.4 365.6,411.6 360.3,406.4" fill="#0000ff"/><polygon points="365.9,406.9 371.2,412.1 365.9,417.4 360.7,412.1" fill="#0000ff"/><polygon points="366.2,412.6 371.5,417.8 366.2,423.1 361,417.8" fill="#0000ff"/><polygon points="366.8,418.3 372.1,423.5 366.8,428.8 361.6,423.5" fill="#0000ff"/><polygon points="367.4,424 372.7,429.2 367.4,434.5 362.2,429.2" fill="#0000ff"/><polygon points="367.9,429.6 373.2,434.8 367.9,440.1 362.7,434.8" fill="#0000ff"/><polygon points="368.4,435.2 373.7,440.4 368.4,445.7 363.2,440.4" fill="#0000ff"/><polygon points="370,440.5 375.2,445.8 370,451 364.7,445.8" fill="#0000ff"/><polygon points="370.1,441.1 375.4,446.3 370.1,451.6 364.9,446.3" fill="#0000ff"/>
</g>
<rect x="71.5" y="37.2" width="597.3" height="422.1" fill="none" stroke="#000" stroke-width="2.7"/>
<path d="M71.5 459.3V450.7M71.5 37.2V45.8M171 459.3V450.7M171 37.2V45.8M270.6 459.3V450.7M270.6 37.2V45.8M370.1 459.3V450.7M370.1 37.2V45.8M469.7 459.3V450.7M469.7 37.2V45.8M569.2 459.3V450.7M569.2 37.2V45.8M668.8 459.3V450.7M668.8 37.2V45.8M121.3 459.3V454M121.3 37.2V42.5M220.8 459.3V454M220.8 37.2V42.5M320.4 459.3V454M320.4 37.2V42.5M419.9 459.3V454M419.9 37.2V42.5M519.5 459.3V454M519.5 37.2V42.5M619 459.3V454M619 37.2V42.5M71.5 417.1H80.1M668.8 417.1H660.2M71.5 248.2H80.1M668.8 248.2H660.2M71.5 79.4H80.1M668.8 79.4H660.2M71.5 332.7H76.8M668.8 332.7H663.5M71.5 163.8H76.8M668.8 163.8H663.5" stroke="#000" stroke-width="2.4" fill="none" stroke-linecap="butt"/>
<text transform="translate(70.5 485.5) scale(0.875 1)" font-size="23.3" text-anchor="middle">-9</text>
<text transform="translate(170 485.5) scale(0.875 1)" font-size="23.3" text-anchor="middle">-6</text>
<text transform="translate(269.6 485.5) scale(0.875 1)" font-size="23.3" text-anchor="middle">-3</text>
<text transform="translate(369.1 485.5) scale(0.875 1)" font-size="23.3" text-anchor="middle">0</text>
<text transform="translate(468.7 485.5) scale(0.875 1)" font-size="23.3" text-anchor="middle">3</text>
<text transform="translate(568.2 485.5) scale(0.875 1)" font-size="23.3" text-anchor="middle">6</text>
<text transform="translate(667.8 485.5) scale(0.875 1)" font-size="23.3" text-anchor="middle">9</text>
<text transform="translate(61.5 422.8) scale(0.875 1)" font-size="23.3" text-anchor="end">-1</text>
<text transform="translate(61.5 253.9) scale(0.875 1)" font-size="23.3" text-anchor="end">0</text>
<text transform="translate(61.5 85.1) scale(0.875 1)" font-size="23.3" text-anchor="end">1</text>
<text transform="translate(510.6 343.8) scale(0.960 1)" font-size="24.7" text-anchor="start" class="lt">LaCa122-A</text>
<line x1="502.2" y1="366" x2="558.1" y2="366" stroke="#000000" stroke-width="2.1"/>
<rect x="523.3" y="359.2" width="13.7" height="13.7" fill="#000000"/>
<text transform="translate(564.2 374.9) scale(0.960 1)" font-size="24.7" text-anchor="start" class="lt">pristine</text>
<line x1="502.2" y1="396.1" x2="558.1" y2="396.1" stroke="#ff0000" stroke-width="2.1"/>
<circle cx="530.1" cy="396.1" r="8.5" fill="#ff0000"/>
<text transform="translate(564.2 405) scale(0.960 1)" font-size="24.7" text-anchor="start" word-spacing="1.2" class="lt">110 mA</text>
<line x1="502.2" y1="426.4" x2="558.1" y2="426.4" stroke="#0000ff" stroke-width="2.1"/>
<polygon points="530.1,416.2 540.3,426.4 530.1,436.6 519.9,426.4" fill="#0000ff"/>
<text transform="translate(564.2 435.3) scale(0.960 1)" font-size="24.7" text-anchor="start" class="lt">20 days</text>
<text transform="translate(3.2 37.6) scale(0.895 1)" font-size="50.0" text-anchor="start">a</text>
<text transform="translate(91.3 440.4) scale(0.920 1)" font-size="36.3" text-anchor="start" word-spacing="2.2">2 K</text>
<text transform="translate(375.4 513.0) scale(0.905 1)" font-size="30.0" text-anchor="middle">H (kOe)</text>
<text transform="translate(34.0 241.5) rotate(-90) scale(0.918 1)" font-size="30.0" text-anchor="middle">M<tspan font-size="17.0" class="n" dy="9.5">s</tspan><tspan dy="-9.5"> (</tspan><tspan class="n" style="stroke-width:0.6px">×</tspan>10<tspan font-size="17.0" class="n" dy="-13">-4</tspan><tspan dy="13"> emu)</tspan></text>
</g>
<g id="panel-b">
<clipPath id="clip-b"><rect x="790" y="37.2" width="598.5" height="422.1"/></clipPath>
<g clip-path="url(#clip-b)">
<polyline fill="none" stroke="#000000" stroke-width="1.6" stroke-linejoin="round" points="1088.7,244.9 1088.7,281.3 1088.7,313.5 1088.7,367 1088.8,405 1088.8,420 1088.7,438 1090.4,430.4 1091,422.5 1091.6,414.5 1092.4,406.9 1093.5,398.8 1094.5,390.6 1095.8,382.8 1097.5,375 1099.2,367.2 1101.3,359.9 1103.6,352.5 1105.2,345.1 1109.8,339.1 1114.2,332.9 1118.5,326.4 1121.8,321.4 1128.5,312.8 1135.1,309.7 1145.1,302.8 1155,297.4 1171.6,289 1188.2,284.8 1204.8,279.2 1221.4,275.9 1238,273 1254.6,270.2 1287.8,267 1320.9,262.5 1320.9,220 1287.8,216.8 1254.6,212.5 1238,209.7 1221.4,205.7 1204.8,201.1 1188.2,195 1171.6,187.1 1155,175.4 1145.1,167 1135.1,156.7 1128.5,150.7 1121.8,139.5 1117.4,133.3 1113.1,126.9 1108.8,120.4 1105,113.8 1102.2,106.7 1099.9,99.2 1098.2,91.7 1096.7,84.2 1094.3,76.7 1091.7,69.5 1088.7,64 1088.2,72 1087.8,80 1087.2,87.8 1086.5,95.6 1085.6,103.3 1084.7,111 1083.6,118.9 1082.6,126.7 1081.3,134.4 1079.6,142 1076.7,149.2 1072,155.3 1067.8,161.8 1063.6,168.2 1059.9,175.1 1055.9,181.5 1055.5,182.1 1048.8,185.4 1042.2,190.4 1032.2,197.5 1022.3,202.8 1005.7,208.2 989.1,214.2 972.5,218.5 955.9,221.8 939.3,224.2 922.7,226.8 889.5,230.7 856.4,232.8 856.4,275.6 889.5,276.3 922.7,283.5 939.3,285.6 955.9,289.2 972.5,294.2 989.1,300.3 1005.7,310 1022.3,320.7 1032.2,328.5 1042.2,338.5 1048.8,348.5 1055.5,357.1 1059.7,363.6 1063.5,370.2 1067.4,376.8 1070.9,383.6 1073.9,390.7 1076.5,397.9 1079.3,405 1081.7,412.3 1083.7,419.7 1085.2,427.4 1087.5,434.7 1088.7,438"/>
<rect x="1085.2" y="241.4" width="7" height="7" fill="#000000"/><rect x="1085.2" y="277.8" width="7" height="7" fill="#000000"/><rect x="1085.2" y="310" width="7" height="7" fill="#000000"/><rect x="1085.2" y="363.5" width="7" height="7" fill="#000000"/><rect x="1085.3" y="401.5" width="7" height="7" fill="#000000"/><rect x="1085.3" y="416.5" width="7" height="7" fill="#000000"/><rect x="1085.2" y="434.5" width="7" height="7" fill="#000000"/><rect x="1086.9" y="426.9" width="7" height="7" fill="#000000"/><rect x="1087.5" y="419" width="7" height="7" fill="#000000"/><rect x="1088.1" y="411" width="7" height="7" fill="#000000"/><rect x="1088.9" y="403.4" width="7" height="7" fill="#000000"/><rect x="1090" y="395.2" width="7" height="7" fill="#000000"/><rect x="1091" y="387.1" width="7" height="7" fill="#000000"/><rect x="1092.3" y="379.3" width="7" height="7" fill="#000000"/><rect x="1094" y="371.5" width="7" height="7" fill="#000000"/><rect x="1095.7" y="363.7" width="7" height="7" fill="#000000"/><rect x="1097.8" y="356.4" width="7" height="7" fill="#000000"/><rect x="1100.1" y="349" width="7" height="7" fill="#000000"/><rect x="1101.7" y="341.6" width="7" height="7" fill="#000000"/><rect x="1106.3" y="335.6" width="7" height="7" fill="#000000"/><rect x="1110.7" y="329.4" width="7" height="7" fill="#000000"/><rect x="1115" y="322.9" width="7" height="7" fill="#000000"/><rect x="1118.3" y="317.9" width="7" height="7" fill="#000000"/><rect x="1125" y="309.3" width="7" height="7" fill="#000000"/><rect x="1131.6" y="306.2" width="7" height="7" fill="#000000"/><rect x="1141.6" y="299.3" width="7" height="7" fill="#000000"/><rect x="1151.5" y="293.9" width="7" height="7" fill="#000000"/><rect x="1168.1" y="285.5" width="7" height="7" fill="#000000"/><rect x="1184.7" y="281.3" width="7" height="7" fill="#000000"/><rect x="1201.3" y="275.7" width="7" height="7" fill="#000000"/><rect x="1217.9" y="272.4" width="7" height="7" fill="#000000"/><rect x="1234.5" y="269.5" width="7" height="7" fill="#000000"/><rect x="1251.1" y="266.7" width="7" height="7" fill="#000000"/><rect x="1284.2" y="263.5" width="7" height="7" fill="#000000"/><rect x="1317.4" y="259" width="7" height="7" fill="#000000"/><rect x="1317.4" y="216.5" width="7" height="7" fill="#000000"/><rect x="1284.2" y="213.3" width="7" height="7" fill="#000000"/><rect x="1251.1" y="209" width="7" height="7" fill="#000000"/><rect x="1234.5" y="206.2" width="7" height="7" fill="#000000"/><rect x="1217.9" y="202.2" width="7" height="7" fill="#000000"/><rect x="1201.3" y="197.6" width="7" height="7" fill="#000000"/><rect x="1184.7" y="191.5" width="7" height="7" fill="#000000"/><rect x="1168.1" y="183.6" width="7" height="7" fill="#000000"/><rect x="1151.5" y="171.9" width="7" height="7" fill="#000000"/><rect x="1141.6" y="163.5" width="7" height="7" fill="#000000"/><rect x="1131.6" y="153.2" width="7" height="7" fill="#000000"/><rect x="1125" y="147.2" width="7" height="7" fill="#000000"/><rect x="1118.3" y="136" width="7" height="7" fill="#000000"/><rect x="1113.9" y="129.8" width="7" height="7" fill="#000000"/><rect x="1109.6" y="123.4" width="7" height="7" fill="#000000"/><rect x="1105.3" y="116.9" width="7" height="7" fill="#000000"/><rect x="1101.5" y="110.3" width="7" height="7" fill="#000000"/><rect x="1098.7" y="103.2" width="7" height="7" fill="#000000"/><rect x="1096.4" y="95.7" width="7" height="7" fill="#000000"/><rect x="1094.7" y="88.2" width="7" height="7" fill="#000000"/><rect x="1093.2" y="80.7" width="7" height="7" fill="#000000"/><rect x="1090.8" y="73.2" width="7" height="7" fill="#000000"/><rect x="1088.2" y="66" width="7" height="7" fill="#000000"/><rect x="1085.2" y="60.5" width="7" height="7" fill="#000000"/><rect x="1084.7" y="68.5" width="7" height="7" fill="#000000"/><rect x="1084.3" y="76.5" width="7" height="7" fill="#000000"/><rect x="1083.7" y="84.3" width="7" height="7" fill="#000000"/><rect x="1083" y="92.1" width="7" height="7" fill="#000000"/><rect x="1082.1" y="99.8" width="7" height="7" fill="#000000"/><rect x="1081.2" y="107.5" width="7" height="7" fill="#000000"/><rect x="1080.1" y="115.4" width="7" height="7" fill="#000000"/><rect x="1079.1" y="123.2" width="7" height="7" fill="#000000"/><rect x="1077.8" y="130.9" width="7" height="7" fill="#000000"/><rect x="1076.1" y="138.5" width="7" height="7" fill="#000000"/><rect x="1073.2" y="145.8" width="7" height="7" fill="#000000"/><rect x="1068.5" y="151.8" width="7" height="7" fill="#000000"/><rect x="1064.3" y="158.2" width="7" height="7" fill="#000000"/><rect x="1060.1" y="164.8" width="7" height="7" fill="#000000"/><rect x="1056.4" y="171.6" width="7" height="7" fill="#000000"/><rect x="1052.4" y="178" width="7" height="7" fill="#000000"/><rect x="1052" y="178.6" width="7" height="7" fill="#000000"/><rect x="1045.3" y="181.9" width="7" height="7" fill="#000000"/><rect x="1038.7" y="186.9" width="7" height="7" fill="#000000"/><rect x="1028.7" y="194" width="7" height="7" fill="#000000"/><rect x="1018.8" y="199.3" width="7" height="7" fill="#000000"/><rect x="1002.2" y="204.7" width="7" height="7" fill="#000000"/><rect x="985.6" y="210.7" width="7" height="7" fill="#000000"/><rect x="969" y="215" width="7" height="7" fill="#000000"/><rect x="952.4" y="218.3" width="7" height="7" fill="#000000"/><rect x="935.8" y="220.7" width="7" height="7" fill="#000000"/><rect x="919.2" y="223.3" width="7" height="7" fill="#000000"/><rect x="886" y="227.2" width="7" height="7" fill="#000000"/><rect x="852.9" y="229.3" width="7" height="7" fill="#000000"/><rect x="852.9" y="272.1" width="7" height="7" fill="#000000"/><rect x="886" y="272.8" width="7" height="7" fill="#000000"/><rect x="919.2" y="280" width="7" height="7" fill="#000000"/><rect x="935.8" y="282.1" width="7" height="7" fill="#000000"/><rect x="952.4" y="285.7" width="7" height="7" fill="#000000"/><rect x="969" y="290.7" width="7" height="7" fill="#000000"/><rect x="985.6" y="296.8" width="7" height="7" fill="#000000"/><rect x="1002.2" y="306.5" width="7" height="7" fill="#000000"/><rect x="1018.8" y="317.2" width="7" height="7" fill="#000000"/><rect x="1028.7" y="325" width="7" height="7" fill="#000000"/><rect x="1038.7" y="335" width="7" height="7" fill="#000000"/><rect x="1045.3" y="345" width="7" height="7" fill="#000000"/><rect x="1052" y="353.6" width="7" height="7" fill="#000000"/><rect x="1056.2" y="360.1" width="7" height="7" fill="#000000"/><rect x="1060" y="366.7" width="7" height="7" fill="#000000"/><rect x="1063.9" y="373.3" width="7" height="7" fill="#000000"/><rect x="1067.4" y="380.1" width="7" height="7" fill="#000000"/><rect x="1070.4" y="387.2" width="7" height="7" fill="#000000"/><rect x="1073" y="394.4" width="7" height="7" fill="#000000"/><rect x="1075.8" y="401.5" width="7" height="7" fill="#000000"/><rect x="1078.2" y="408.8" width="7" height="7" fill="#000000"/><rect x="1080.2" y="416.2" width="7" height="7" fill="#000000"/><rect x="1081.7" y="423.9" width="7" height="7" fill="#000000"/><rect x="1084" y="431.2" width="7" height="7" fill="#000000"/><rect x="1085.2" y="434.5" width="7" height="7" fill="#000000"/>
<polyline fill="none" stroke="#ff0000" stroke-width="1.6" stroke-linejoin="round" points="1088.7,247 1088.7,295 1088.7,308.6 1088.7,352 1088.8,390 1088.8,396 1088.8,402 1088.9,408 1088.9,414 1088.9,420 1089,426 1089,432 1088.7,441 1089.1,437.1 1089.5,433.3 1089.9,429.4 1090.3,425.7 1090.7,422 1091,418.3 1091.4,414.6 1091.8,410.9 1092.1,407.2 1092.6,403.5 1093,399.9 1093.5,396.2 1094,392.6 1094.6,388.9 1095.1,385.2 1095.7,381.5 1096.3,377.8 1096.8,374.1 1097.6,370.4 1098.3,366.7 1099,363 1099.7,359.3 1100.5,355.6 1101.2,352 1102.3,348.3 1103.4,344.6 1104.6,341 1105.7,337.4 1106.8,333.9 1107.9,330.3 1109.2,326.8 1111,323.5 1113,320.4 1114.9,317.4 1115.2,317 1118.5,322.9 1121.8,298.6 1128.5,297 1135.1,295.4 1145.1,290 1155,284 1171.6,279.2 1188.2,275.6 1204.8,271 1221.4,267.8 1238,264.9 1254.6,262 1287.8,256.8 1320.9,255.6 1354.1,253.9 1354.1,225.2 1320.9,224 1287.8,220.7 1254.6,216.4 1238,214 1221.4,209.7 1204.8,205 1188.2,199 1171.6,190.4 1155,180.7 1145.1,173.2 1135.1,165.4 1128.5,157.9 1121.8,152 1118.5,149.2 1115.2,146.2 1112.9,143.4 1110.6,140.6 1108.7,137.5 1107,134.3 1105.2,131.1 1103.4,127.8 1101.8,124.3 1100.7,120.7 1099.7,117.1 1098.6,113.5 1097.7,110 1097,106.4 1096.2,102.8 1095.5,99.2 1094.9,95.6 1094.3,91.7 1093.7,87.8 1093.1,83.9 1092.6,80.3 1092.1,76.7 1091.5,73.1 1091,69.6 1090.5,65.9 1089.9,62.2 1089.4,58.4 1088.8,54.7 1088.7,53.6 1088.4,57.3 1088.2,61 1087.9,64.8 1087.7,68.5 1087.1,72.1 1086.6,75.7 1086.1,79.2 1085.6,82.8 1085.1,86.7 1084.6,90.6 1084.1,94.5 1083.7,98.4 1083.2,102 1082.7,105.6 1082.3,109.2 1081.8,112.8 1081.3,116.4 1080.7,120 1080.2,123.6 1079.7,127.1 1079.3,131.1 1078.9,135 1078.5,138.9 1077.9,142.7 1077.3,146.3 1076.7,149.9 1075.8,153.7 1074.7,157.2 1073.6,160.8 1072.2,164.3 1070.6,167.7 1068.9,171.1 1067.2,174.3 1065.3,177.6 1063.3,180.6 1062.1,182.5 1058.8,172.8 1055.5,192.5 1048.8,195 1042.2,201.4 1032.2,203.5 1022.3,209.2 1005.7,215.5 989.1,220.2 972.5,225 955.9,228.2 939.3,231.4 922.7,234.9 889.5,240.4 856.4,242.8 823.2,245.4 823.2,272.3 856.4,274.2 889.5,275.9 922.7,280.2 939.3,283.5 955.9,287 972.5,291.6 989.1,297.8 1005.7,306.4 1022.3,317.1 1032.2,323.5 1042.2,332.1 1048.8,338.5 1055.5,345.2 1058.8,350.8 1062.1,355.1 1064.5,358 1066.9,360.7 1069.3,363.6 1071.4,366.5 1073.5,369.7 1075.3,372.8 1076.9,376.1 1078.3,379.5 1079.2,383.1 1080,386.6 1080.6,390.3 1081.2,393.8 1082.1,397.5 1083.1,401.1 1084.2,404.7 1085,408.4 1085.5,412 1086.1,415.7 1086.5,419.4 1086.8,423.1 1087.1,426.8 1087.5,430.6 1087.9,434.5 1088.4,438.3 1088.7,441"/>
<circle cx="1088.7" cy="247" r="4.3" fill="#ff0000"/><circle cx="1088.7" cy="295" r="4.3" fill="#ff0000"/><circle cx="1088.7" cy="308.6" r="4.3" fill="#ff0000"/><circle cx="1088.7" cy="352" r="4.3" fill="#ff0000"/><circle cx="1088.8" cy="390" r="4.3" fill="#ff0000"/><circle cx="1088.8" cy="396" r="4.3" fill="#ff0000"/><circle cx="1088.8" cy="402" r="4.3" fill="#ff0000"/><circle cx="1088.9" cy="408" r="4.3" fill="#ff0000"/><circle cx="1088.9" cy="414" r="4.3" fill="#ff0000"/><circle cx="1088.9" cy="420" r="4.3" fill="#ff0000"/><circle cx="1089" cy="426" r="4.3" fill="#ff0000"/><circle cx="1089" cy="432" r="4.3" fill="#ff0000"/><circle cx="1088.7" cy="441" r="4.3" fill="#ff0000"/><circle cx="1089.1" cy="437.1" r="4.3" fill="#ff0000"/><circle cx="1089.5" cy="433.3" r="4.3" fill="#ff0000"/><circle cx="1089.9" cy="429.4" r="4.3" fill="#ff0000"/><circle cx="1090.3" cy="425.7" r="4.3" fill="#ff0000"/><circle cx="1090.7" cy="422" r="4.3" fill="#ff0000"/><circle cx="1091" cy="418.3" r="4.3" fill="#ff0000"/><circle cx="1091.4" cy="414.6" r="4.3" fill="#ff0000"/><circle cx="1091.8" cy="410.9" r="4.3" fill="#ff0000"/><circle cx="1092.1" cy="407.2" r="4.3" fill="#ff0000"/><circle cx="1092.6" cy="403.5" r="4.3" fill="#ff0000"/><circle cx="1093" cy="399.9" r="4.3" fill="#ff0000"/><circle cx="1093.5" cy="396.2" r="4.3" fill="#ff0000"/><circle cx="1094" cy="392.6" r="4.3" fill="#ff0000"/><circle cx="1094.6" cy="388.9" r="4.3" fill="#ff0000"/><circle cx="1095.1" cy="385.2" r="4.3" fill="#ff0000"/><circle cx="1095.7" cy="381.5" r="4.3" fill="#ff0000"/><circle cx="1096.3" cy="377.8" r="4.3" fill="#ff0000"/><circle cx="1096.8" cy="374.1" r="4.3" fill="#ff0000"/><circle cx="1097.6" cy="370.4" r="4.3" fill="#ff0000"/><circle cx="1098.3" cy="366.7" r="4.3" fill="#ff0000"/><circle cx="1099" cy="363" r="4.3" fill="#ff0000"/><circle cx="1099.7" cy="359.3" r="4.3" fill="#ff0000"/><circle cx="1100.5" cy="355.6" r="4.3" fill="#ff0000"/><circle cx="1101.2" cy="352" r="4.3" fill="#ff0000"/><circle cx="1102.3" cy="348.3" r="4.3" fill="#ff0000"/><circle cx="1103.4" cy="344.6" r="4.3" fill="#ff0000"/><circle cx="1104.6" cy="341" r="4.3" fill="#ff0000"/><circle cx="1105.7" cy="337.4" r="4.3" fill="#ff0000"/><circle cx="1106.8" cy="333.9" r="4.3" fill="#ff0000"/><circle cx="1107.9" cy="330.3" r="4.3" fill="#ff0000"/><circle cx="1109.2" cy="326.8" r="4.3" fill="#ff0000"/><circle cx="1111" cy="323.5" r="4.3" fill="#ff0000"/><circle cx="1113" cy="320.4" r="4.3" fill="#ff0000"/><circle cx="1114.9" cy="317.4" r="4.3" fill="#ff0000"/><circle cx="1115.2" cy="317" r="4.3" fill="#ff0000"/><circle cx="1118.5" cy="322.9" r="4.3" fill="#ff0000"/><circle cx="1121.8" cy="298.6" r="4.3" fill="#ff0000"/><circle cx="1128.5" cy="297" r="4.3" fill="#ff0000"/><circle cx="1135.1" cy="295.4" r="4.3" fill="#ff0000"/><circle cx="1145.1" cy="290" r="4.3" fill="#ff0000"/><circle cx="1155" cy="284" r="4.3" fill="#ff0000"/><circle cx="1171.6" cy="279.2" r="4.3" fill="#ff0000"/><circle cx="1188.2" cy="275.6" r="4.3" fill="#ff0000"/><circle cx="1204.8" cy="271" r="4.3" fill="#ff0000"/><circle cx="1221.4" cy="267.8" r="4.3" fill="#ff0000"/><circle cx="1238" cy="264.9" r="4.3" fill="#ff0000"/><circle cx="1254.6" cy="262" r="4.3" fill="#ff0000"/><circle cx="1287.8" cy="256.8" r="4.3" fill="#ff0000"/><circle cx="1320.9" cy="255.6" r="4.3" fill="#ff0000"/><circle cx="1354.1" cy="253.9" r="4.3" fill="#ff0000"/><circle cx="1354.1" cy="225.2" r="4.3" fill="#ff0000"/><circle cx="1320.9" cy="224" r="4.3" fill="#ff0000"/><circle cx="1287.8" cy="220.7" r="4.3" fill="#ff0000"/><circle cx="1254.6" cy="216.4" r="4.3" fill="#ff0000"/><circle cx="1238" cy="214" r="4.3" fill="#ff0000"/><circle cx="1221.4" cy="209.7" r="4.3" fill="#ff0000"/><circle cx="1204.8" cy="205" r="4.3" fill="#ff0000"/><circle cx="1188.2" cy="199" r="4.3" fill="#ff0000"/><circle cx="1171.6" cy="190.4" r="4.3" fill="#ff0000"/><circle cx="1155" cy="180.7" r="4.3" fill="#ff0000"/><circle cx="1145.1" cy="173.2" r="4.3" fill="#ff0000"/><circle cx="1135.1" cy="165.4" r="4.3" fill="#ff0000"/><circle cx="1128.5" cy="157.9" r="4.3" fill="#ff0000"/><circle cx="1121.8" cy="152" r="4.3" fill="#ff0000"/><circle cx="1118.5" cy="149.2" r="4.3" fill="#ff0000"/><circle cx="1115.2" cy="146.2" r="4.3" fill="#ff0000"/><circle cx="1112.9" cy="143.4" r="4.3" fill="#ff0000"/><circle cx="1110.6" cy="140.6" r="4.3" fill="#ff0000"/><circle cx="1108.7" cy="137.5" r="4.3" fill="#ff0000"/><circle cx="1107" cy="134.3" r="4.3" fill="#ff0000"/><circle cx="1105.2" cy="131.1" r="4.3" fill="#ff0000"/><circle cx="1103.4" cy="127.8" r="4.3" fill="#ff0000"/><circle cx="1101.8" cy="124.3" r="4.3" fill="#ff0000"/><circle cx="1100.7" cy="120.7" r="4.3" fill="#ff0000"/><circle cx="1099.7" cy="117.1" r="4.3" fill="#ff0000"/><circle cx="1098.6" cy="113.5" r="4.3" fill="#ff0000"/><circle cx="1097.7" cy="110" r="4.3" fill="#ff0000"/><circle cx="1097" cy="106.4" r="4.3" fill="#ff0000"/><circle cx="1096.2" cy="102.8" r="4.3" fill="#ff0000"/><circle cx="1095.5" cy="99.2" r="4.3" fill="#ff0000"/><circle cx="1094.9" cy="95.6" r="4.3" fill="#ff0000"/><circle cx="1094.3" cy="91.7" r="4.3" fill="#ff0000"/><circle cx="1093.7" cy="87.8" r="4.3" fill="#ff0000"/><circle cx="1093.1" cy="83.9" r="4.3" fill="#ff0000"/><circle cx="1092.6" cy="80.3" r="4.3" fill="#ff0000"/><circle cx="1092.1" cy="76.7" r="4.3" fill="#ff0000"/><circle cx="1091.5" cy="73.1" r="4.3" fill="#ff0000"/><circle cx="1091" cy="69.6" r="4.3" fill="#ff0000"/><circle cx="1090.5" cy="65.9" r="4.3" fill="#ff0000"/><circle cx="1089.9" cy="62.2" r="4.3" fill="#ff0000"/><circle cx="1089.4" cy="58.4" r="4.3" fill="#ff0000"/><circle cx="1088.8" cy="54.7" r="4.3" fill="#ff0000"/><circle cx="1088.7" cy="53.6" r="4.3" fill="#ff0000"/><circle cx="1088.4" cy="57.3" r="4.3" fill="#ff0000"/><circle cx="1088.2" cy="61" r="4.3" fill="#ff0000"/><circle cx="1087.9" cy="64.8" r="4.3" fill="#ff0000"/><circle cx="1087.7" cy="68.5" r="4.3" fill="#ff0000"/><circle cx="1087.1" cy="72.1" r="4.3" fill="#ff0000"/><circle cx="1086.6" cy="75.7" r="4.3" fill="#ff0000"/><circle cx="1086.1" cy="79.2" r="4.3" fill="#ff0000"/><circle cx="1085.6" cy="82.8" r="4.3" fill="#ff0000"/><circle cx="1085.1" cy="86.7" r="4.3" fill="#ff0000"/><circle cx="1084.6" cy="90.6" r="4.3" fill="#ff0000"/><circle cx="1084.1" cy="94.5" r="4.3" fill="#ff0000"/><circle cx="1083.7" cy="98.4" r="4.3" fill="#ff0000"/><circle cx="1083.2" cy="102" r="4.3" fill="#ff0000"/><circle cx="1082.7" cy="105.6" r="4.3" fill="#ff0000"/><circle cx="1082.3" cy="109.2" r="4.3" fill="#ff0000"/><circle cx="1081.8" cy="112.8" r="4.3" fill="#ff0000"/><circle cx="1081.3" cy="116.4" r="4.3" fill="#ff0000"/><circle cx="1080.7" cy="120" r="4.3" fill="#ff0000"/><circle cx="1080.2" cy="123.6" r="4.3" fill="#ff0000"/><circle cx="1079.7" cy="127.1" r="4.3" fill="#ff0000"/><circle cx="1079.3" cy="131.1" r="4.3" fill="#ff0000"/><circle cx="1078.9" cy="135" r="4.3" fill="#ff0000"/><circle cx="1078.5" cy="138.9" r="4.3" fill="#ff0000"/><circle cx="1077.9" cy="142.7" r="4.3" fill="#ff0000"/><circle cx="1077.3" cy="146.3" r="4.3" fill="#ff0000"/><circle cx="1076.7" cy="149.9" r="4.3" fill="#ff0000"/><circle cx="1075.8" cy="153.7" r="4.3" fill="#ff0000"/><circle cx="1074.7" cy="157.2" r="4.3" fill="#ff0000"/><circle cx="1073.6" cy="160.8" r="4.3" fill="#ff0000"/><circle cx="1072.2" cy="164.3" r="4.3" fill="#ff0000"/><circle cx="1070.6" cy="167.7" r="4.3" fill="#ff0000"/><circle cx="1068.9" cy="171.1" r="4.3" fill="#ff0000"/><circle cx="1067.2" cy="174.3" r="4.3" fill="#ff0000"/><circle cx="1065.3" cy="177.6" r="4.3" fill="#ff0000"/><circle cx="1063.3" cy="180.6" r="4.3" fill="#ff0000"/><circle cx="1062.1" cy="182.5" r="4.3" fill="#ff0000"/><circle cx="1058.8" cy="172.8" r="4.3" fill="#ff0000"/><circle cx="1055.5" cy="192.5" r="4.3" fill="#ff0000"/><circle cx="1048.8" cy="195" r="4.3" fill="#ff0000"/><circle cx="1042.2" cy="201.4" r="4.3" fill="#ff0000"/><circle cx="1032.2" cy="203.5" r="4.3" fill="#ff0000"/><circle cx="1022.3" cy="209.2" r="4.3" fill="#ff0000"/><circle cx="1005.7" cy="215.5" r="4.3" fill="#ff0000"/><circle cx="989.1" cy="220.2" r="4.3" fill="#ff0000"/><circle cx="972.5" cy="225" r="4.3" fill="#ff0000"/><circle cx="955.9" cy="228.2" r="4.3" fill="#ff0000"/><circle cx="939.3" cy="231.4" r="4.3" fill="#ff0000"/><circle cx="922.7" cy="234.9" r="4.3" fill="#ff0000"/><circle cx="889.5" cy="240.4" r="4.3" fill="#ff0000"/><circle cx="856.4" cy="242.8" r="4.3" fill="#ff0000"/><circle cx="823.2" cy="245.4" r="4.3" fill="#ff0000"/><circle cx="823.2" cy="272.3" r="4.3" fill="#ff0000"/><circle cx="856.4" cy="274.2" r="4.3" fill="#ff0000"/><circle cx="889.5" cy="275.9" r="4.3" fill="#ff0000"/><circle cx="922.7" cy="280.2" r="4.3" fill="#ff0000"/><circle cx="939.3" cy="283.5" r="4.3" fill="#ff0000"/><circle cx="955.9" cy="287" r="4.3" fill="#ff0000"/><circle cx="972.5" cy="291.6" r="4.3" fill="#ff0000"/><circle cx="989.1" cy="297.8" r="4.3" fill="#ff0000"/><circle cx="1005.7" cy="306.4" r="4.3" fill="#ff0000"/><circle cx="1022.3" cy="317.1" r="4.3" fill="#ff0000"/><circle cx="1032.2" cy="323.5" r="4.3" fill="#ff0000"/><circle cx="1042.2" cy="332.1" r="4.3" fill="#ff0000"/><circle cx="1048.8" cy="338.5" r="4.3" fill="#ff0000"/><circle cx="1055.5" cy="345.2" r="4.3" fill="#ff0000"/><circle cx="1058.8" cy="350.8" r="4.3" fill="#ff0000"/><circle cx="1062.1" cy="355.1" r="4.3" fill="#ff0000"/><circle cx="1064.5" cy="358" r="4.3" fill="#ff0000"/><circle cx="1066.9" cy="360.7" r="4.3" fill="#ff0000"/><circle cx="1069.3" cy="363.6" r="4.3" fill="#ff0000"/><circle cx="1071.4" cy="366.5" r="4.3" fill="#ff0000"/><circle cx="1073.5" cy="369.7" r="4.3" fill="#ff0000"/><circle cx="1075.3" cy="372.8" r="4.3" fill="#ff0000"/><circle cx="1076.9" cy="376.1" r="4.3" fill="#ff0000"/><circle cx="1078.3" cy="379.5" r="4.3" fill="#ff0000"/><circle cx="1079.2" cy="383.1" r="4.3" fill="#ff0000"/><circle cx="1080" cy="386.6" r="4.3" fill="#ff0000"/><circle cx="1080.6" cy="390.3" r="4.3" fill="#ff0000"/><circle cx="1081.2" cy="393.8" r="4.3" fill="#ff0000"/><circle cx="1082.1" cy="397.5" r="4.3" fill="#ff0000"/><circle cx="1083.1" cy="401.1" r="4.3" fill="#ff0000"/><circle cx="1084.2" cy="404.7" r="4.3" fill="#ff0000"/><circle cx="1085" cy="408.4" r="4.3" fill="#ff0000"/><circle cx="1085.5" cy="412" r="4.3" fill="#ff0000"/><circle cx="1086.1" cy="415.7" r="4.3" fill="#ff0000"/><circle cx="1086.5" cy="419.4" r="4.3" fill="#ff0000"/><circle cx="1086.8" cy="423.1" r="4.3" fill="#ff0000"/><circle cx="1087.1" cy="426.8" r="4.3" fill="#ff0000"/><circle cx="1087.5" cy="430.6" r="4.3" fill="#ff0000"/><circle cx="1087.9" cy="434.5" r="4.3" fill="#ff0000"/><circle cx="1088.4" cy="438.3" r="4.3" fill="#ff0000"/><circle cx="1088.7" cy="441" r="4.3" fill="#ff0000"/>
<polygon points="1091.2,94.3 1096.5,99.5 1091.2,104.8 1086,99.5" fill="#0000ff"/><polygon points="1091.7,97.9 1097,103.1 1091.7,108.4 1086.5,103.1" fill="#0000ff"/><polygon points="1092.3,101.5 1097.5,106.7 1092.3,112 1087,106.7" fill="#0000ff"/><polygon points="1092.8,105.1 1098.1,110.3 1092.8,115.6 1087.6,110.3" fill="#0000ff"/><polygon points="1093.7,108.7 1099,113.9 1093.7,119.2 1088.5,113.9" fill="#0000ff"/><polygon points="1094.8,112.2 1100,117.5 1094.8,122.7 1089.5,117.5" fill="#0000ff"/><polygon points="1095.9,115.8 1101.1,121.1 1095.9,126.3 1090.6,121.1" fill="#0000ff"/><polygon points="1097,119.4 1102.2,124.6 1097,129.9 1091.7,124.6" fill="#0000ff"/><polygon points="1098.1,123 1103.4,128.2 1098.1,133.5 1092.9,128.2" fill="#0000ff"/><polygon points="1099.4,126.5 1104.6,131.8 1099.4,137 1094.1,131.8" fill="#0000ff"/><polygon points="1100.6,130.1 1105.9,135.4 1100.6,140.6 1095.4,135.4" fill="#0000ff"/><polygon points="1101.9,133.7 1107.1,138.9 1101.9,144.2 1096.6,138.9" fill="#0000ff"/><polygon points="1103.4,137.1 1108.7,142.3 1103.4,147.6 1098.2,142.3" fill="#0000ff"/><polygon points="1105.2,140.5 1110.4,145.7 1105.2,151 1099.9,145.7" fill="#0000ff"/><polygon points="1106.9,143.7 1112.2,148.9 1106.9,154.2 1101.7,148.9" fill="#0000ff"/><polygon points="1109.4,146.7 1114.6,151.9 1109.4,157.2 1104.1,151.9" fill="#0000ff"/><polygon points="1111.8,149.6 1117,154.9 1111.8,160.1 1106.5,154.9" fill="#0000ff"/><polygon points="1114.2,152.4 1119.5,157.7 1114.2,162.9 1109,157.7" fill="#0000ff"/><polygon points="1116.5,154.7 1121.8,159.9 1116.5,165.2 1111.3,159.9" fill="#0000ff"/>
<polygon points="1095.2,94.3 1100.4,99.5 1095.2,104.8 1089.9,99.5" fill="#0000ff"/><polygon points="1095.7,97.9 1101,103.1 1095.7,108.4 1090.5,103.1" fill="#0000ff"/><polygon points="1096.3,101.5 1101.5,106.7 1096.3,112 1091,106.7" fill="#0000ff"/><polygon points="1096.8,105.1 1102,110.3 1096.8,115.6 1091.5,110.3" fill="#0000ff"/><polygon points="1097.7,108.7 1103,113.9 1097.7,119.2 1092.5,113.9" fill="#0000ff"/><polygon points="1098.8,112.2 1104,117.5 1098.8,122.7 1093.5,117.5" fill="#0000ff"/><polygon points="1099.9,115.8 1105.1,121.1 1099.9,126.3 1094.6,121.1" fill="#0000ff"/><polygon points="1100.9,119.4 1106.2,124.6 1100.9,129.9 1095.7,124.6" fill="#0000ff"/><polygon points="1102.1,123 1107.4,128.2 1102.1,133.5 1096.9,128.2" fill="#0000ff"/><polygon points="1103.4,126.5 1108.6,131.8 1103.4,137 1098.1,131.8" fill="#0000ff"/><polygon points="1104.6,130.1 1109.9,135.4 1104.6,140.6 1099.4,135.4" fill="#0000ff"/><polygon points="1105.9,133.7 1111.1,138.9 1105.9,144.2 1100.6,138.9" fill="#0000ff"/><polygon points="1107.4,137.1 1112.7,142.3 1107.4,147.6 1102.2,142.3" fill="#0000ff"/><polygon points="1109.1,140.5 1114.4,145.7 1109.1,151 1103.9,145.7" fill="#0000ff"/><polygon points="1110.9,143.7 1116.1,148.9 1110.9,154.2 1105.6,148.9" fill="#0000ff"/><polygon points="1113.3,146.7 1118.6,151.9 1113.3,157.2 1108.1,151.9" fill="#0000ff"/><polygon points="1115.8,149.6 1121,154.9 1115.8,160.1 1110.5,154.9" fill="#0000ff"/><polygon points="1118.2,152.4 1123.4,157.7 1118.2,162.9 1112.9,157.7" fill="#0000ff"/><polygon points="1120.5,154.7 1125.8,159.9 1120.5,165.2 1115.3,159.9" fill="#0000ff"/>
<polyline fill="none" stroke="#0000ff" stroke-width="1.6" stroke-linejoin="round" points="1088.7,249.9 1088.7,276.8 1088.7,287 1088.7,301.1 1088.8,349 1088.8,386 1088.8,390 1088.9,394 1088.9,398 1088.9,402 1089,406 1089,410 1089,414 1089,418 1089.1,422 1089.1,426 1089.1,430 1088.7,435.5 1088.8,431.8 1089,428 1089.4,424.3 1089.8,420.6 1090.3,416.9 1090.7,413.2 1091.1,409.5 1091.6,405.9 1091.8,402.3 1092.1,398.7 1092.4,395.1 1092.9,391.4 1093.6,387.7 1094.2,384.1 1094.6,380.4 1095.3,376.8 1095.9,373.2 1096.4,369.7 1097.2,366.1 1098.1,362.6 1099.2,359 1100.3,355.5 1101.3,352 1102.4,348.4 1103.4,344.8 1104.3,341.3 1105.4,337.6 1106.7,334.1 1107.9,330.6 1109.2,327.1 1110.8,323.8 1112.6,320.4 1114.6,317.4 1116.7,314.4 1118.9,311.5 1121.3,308.7 1122.8,307.1 1122.8,307.1 1121.3,308.7 1118.9,311.5 1116.7,314.4 1114.6,317.4 1112.6,320.4 1110.8,323.8 1109.2,327.1 1107.9,330.6 1106.7,334.1 1105.4,337.6 1104.3,341.3 1103.4,344.8 1102.4,348.4 1101.3,352 1100.3,355.5 1099.2,359 1098.1,362.6 1097.2,366.1 1096.4,369.7 1095.9,373.2 1095.3,376.8 1094.6,380.4 1094.2,384.1 1093.6,387.7 1092.9,391.4 1092.4,395.1 1092.1,398.7 1091.8,402.3 1091.6,405.9 1091.1,409.5 1090.7,413.2 1090.3,416.9 1089.8,420.6 1089.4,424.3 1089,428 1088.8,431.8 1088.7,435.5 1088.7,431.8 1088.9,428 1089.3,424.3 1089.6,420.6 1090,416.9 1090.4,413.2 1090.7,409.5 1091.1,405.9 1091.3,402.3 1091.5,398.7 1091.8,395.1 1092.2,391.4 1092.7,387.7 1093.2,384.1 1093.6,380.4 1094.3,376.8 1094.9,373.2 1095.4,369.7 1096.2,366.1 1097.2,362.6 1098.2,359 1099.3,355.5 1100.3,352 1101.4,348.4 1102.4,344.8 1103.3,341.3 1104.5,337.6 1105.7,334.1 1106.9,330.6 1108.2,327.1 1109.8,323.8 1111.6,320.4 1113.6,317.4 1115.7,314.4 1117.9,311.5 1120.3,308.7 1121.8,307.1 1128.5,298.6 1135.1,297.1 1145.1,292.4 1155,287 1171.6,277 1188.2,265.3 1204.8,264.6 1221.4,264.2 1238,263.1 1254.6,261.3 1287.8,259.9 1320.9,257.4 1354.1,254.9 1354.1,228.5 1320.9,227.8 1287.8,224.2 1254.6,221.8 1238,222.8 1221.4,222.1 1204.8,219.7 1188.2,215.2 1171.6,205.7 1155,195 1145.1,186.4 1135.1,177.4 1128.5,168.2 1121.8,163.2 1119.2,160.6 1116.5,157.9 1114,155.1 1111.5,152.1 1109.1,149.1 1107.3,145.9 1105.5,142.6 1104,139.3 1102.8,135.7 1101.5,132.1 1100.3,128.6 1099.1,125 1098,121.4 1096.9,117.8 1095.8,114.3 1094.8,110.7 1094.3,107.1 1093.8,103.5 1093.3,99.9 1092.7,96.3 1092.1,92.4 1091.5,88.5 1090.9,84.6 1090.4,80.7 1090.1,76.7 1089.7,72.8 1089.3,68.9 1089,65.1 1088.7,61.4 1088.4,65.1 1088.1,68.9 1088,72.8 1087.8,76.7 1087.6,80.7 1087.4,84.6 1087.1,88.5 1086.8,92.4 1086.5,96.3 1086.1,99.9 1085.6,103.5 1085.2,107.1 1084.8,110.7 1084.3,114.3 1083.8,117.8 1083.4,121.4 1082.9,125 1082.4,128.6 1081.9,132.1 1081.3,135.7 1080.8,139.3 1080.1,142.8 1079.4,146.4 1078.7,149.9 1078,153.5 1076.9,157.1 1075.6,160.6 1074.4,164.2 1073.1,167.8 1071.1,171 1069,174 1066.7,177.1 1064.5,180.1 1062.2,183.1 1059.8,185.8 1057.2,188.4 1055.5,190.7 1048.8,194.3 1042.2,196.4 1032.2,205 1022.3,205.7 1005.7,213.8 989.1,231 972.5,233.2 955.9,235.2 939.3,235.7 922.7,236.4 889.5,235.7 856.4,239.6 823.2,240.4 823.2,267.1 856.4,266.6 889.5,270.6 922.7,271 939.3,272 955.9,275.2 972.5,279.2 989.1,282.8 1005.7,288.5 1022.3,301 1032.2,310.4 1042.2,318.3 1048.8,329.3 1055.5,334.2 1057.4,337.4 1059.4,340.4 1062,343.1 1064.5,345.8 1066.6,348.8 1068.7,351.8 1070.9,354.8 1072.9,357.9 1074.5,361.1 1076.1,364.4 1077.7,367.7 1079,371.1 1080.2,374.5 1081.2,378.1 1082.1,381.7 1082.9,385.2 1083.6,388.9 1084.2,392.5 1084.6,396.2 1085.1,399.9 1085.7,403.5 1086.2,407.2 1086.7,410.9 1087.2,414.6 1087.7,418.3 1087.9,422 1088.2,425.7 1088.4,429.4 1088.6,433.1 1088.7,435.5"/>
<polygon points="1088.7,244.7 1093.9,249.9 1088.7,255.2 1083.4,249.9" fill="#0000ff"/><polygon points="1088.7,271.6 1093.9,276.8 1088.7,282.1 1083.4,276.8" fill="#0000ff"/><polygon points="1088.7,281.8 1094,287 1088.7,292.2 1083.5,287" fill="#0000ff"/><polygon points="1088.7,295.9 1094,301.1 1088.7,306.4 1083.5,301.1" fill="#0000ff"/><polygon points="1088.8,343.8 1094,349 1088.8,354.2 1083.5,349" fill="#0000ff"/><polygon points="1088.8,380.8 1094.1,386 1088.8,391.2 1083.6,386" fill="#0000ff"/><polygon points="1088.8,384.8 1094.1,390 1088.8,395.2 1083.6,390" fill="#0000ff"/><polygon points="1088.9,388.8 1094.1,394 1088.9,399.2 1083.6,394" fill="#0000ff"/><polygon points="1088.9,392.8 1094.1,398 1088.9,403.2 1083.6,398" fill="#0000ff"/><polygon points="1088.9,396.8 1094.2,402 1088.9,407.2 1083.7,402" fill="#0000ff"/><polygon points="1089,400.8 1094.2,406 1089,411.2 1083.7,406" fill="#0000ff"/><polygon points="1089,404.8 1094.2,410 1089,415.2 1083.7,410" fill="#0000ff"/><polygon points="1089,408.8 1094.3,414 1089,419.2 1083.8,414" fill="#0000ff"/><polygon points="1089,412.8 1094.3,418 1089,423.2 1083.8,418" fill="#0000ff"/><polygon points="1089.1,416.8 1094.3,422 1089.1,427.2 1083.8,422" fill="#0000ff"/><polygon points="1089.1,420.8 1094.4,426 1089.1,431.2 1083.9,426" fill="#0000ff"/><polygon points="1089.1,424.8 1094.4,430 1089.1,435.2 1083.9,430" fill="#0000ff"/><polygon points="1088.7,430.2 1093.9,435.5 1088.7,440.8 1083.4,435.5" fill="#0000ff"/><polygon points="1088.8,426.6 1094,431.8 1088.8,437.1 1083.5,431.8" fill="#0000ff"/><polygon points="1089,422.7 1094.2,428 1089,433.2 1083.7,428" fill="#0000ff"/><polygon points="1089.4,419 1094.7,424.3 1089.4,429.5 1084.2,424.3" fill="#0000ff"/><polygon points="1089.8,415.3 1095.1,420.6 1089.8,425.8 1084.6,420.6" fill="#0000ff"/><polygon points="1090.3,411.6 1095.5,416.9 1090.3,422.1 1085,416.9" fill="#0000ff"/><polygon points="1090.7,407.9 1096,413.2 1090.7,418.4 1085.5,413.2" fill="#0000ff"/><polygon points="1091.1,404.3 1096.4,409.5 1091.1,414.8 1085.9,409.5" fill="#0000ff"/><polygon points="1091.6,400.7 1096.8,405.9 1091.6,411.2 1086.3,405.9" fill="#0000ff"/><polygon points="1091.8,397.1 1097.1,402.3 1091.8,407.6 1086.6,402.3" fill="#0000ff"/><polygon points="1092.1,393.5 1097.3,398.7 1092.1,404 1086.8,398.7" fill="#0000ff"/><polygon points="1092.4,389.8 1097.7,395.1 1092.4,400.3 1087.2,395.1" fill="#0000ff"/><polygon points="1092.9,386.1 1098.1,391.4 1092.9,396.6 1087.6,391.4" fill="#0000ff"/><polygon points="1093.6,382.5 1098.8,387.7 1093.6,393 1088.3,387.7" fill="#0000ff"/><polygon points="1094.2,378.8 1099.4,384.1 1094.2,389.3 1088.9,384.1" fill="#0000ff"/><polygon points="1094.6,375.1 1099.9,380.4 1094.6,385.6 1089.4,380.4" fill="#0000ff"/><polygon points="1095.3,371.6 1100.5,376.8 1095.3,382.1 1090,376.8" fill="#0000ff"/><polygon points="1095.9,368 1101.2,373.2 1095.9,378.5 1090.7,373.2" fill="#0000ff"/><polygon points="1096.4,364.4 1101.7,369.7 1096.4,374.9 1091.2,369.7" fill="#0000ff"/><polygon points="1097.2,360.9 1102.5,366.1 1097.2,371.4 1092,366.1" fill="#0000ff"/><polygon points="1098.1,357.3 1103.4,362.6 1098.1,367.8 1092.9,362.6" fill="#0000ff"/><polygon points="1099.2,353.7 1104.5,359 1099.2,364.2 1094,359" fill="#0000ff"/><polygon points="1100.3,350.2 1105.5,355.5 1100.3,360.7 1095,355.5" fill="#0000ff"/><polygon points="1101.3,346.7 1106.6,352 1101.3,357.2 1096.1,352" fill="#0000ff"/><polygon points="1102.4,343.2 1107.6,348.4 1102.4,353.7 1097.1,348.4" fill="#0000ff"/><polygon points="1103.4,339.6 1108.6,344.8 1103.4,350.1 1098.1,344.8" fill="#0000ff"/><polygon points="1104.3,336 1109.5,341.3 1104.3,346.5 1099,341.3" fill="#0000ff"/><polygon points="1105.4,332.3 1110.7,337.6 1105.4,342.8 1100.2,337.6" fill="#0000ff"/><polygon points="1106.7,328.8 1111.9,334.1 1106.7,339.3 1101.4,334.1" fill="#0000ff"/><polygon points="1107.9,325.3 1113.2,330.6 1107.9,335.8 1102.7,330.6" fill="#0000ff"/><polygon points="1109.2,321.8 1114.4,327.1 1109.2,332.3 1103.9,327.1" fill="#0000ff"/><polygon points="1110.8,318.5 1116,323.8 1110.8,329 1105.5,323.8" fill="#0000ff"/><polygon points="1112.6,315.2 1117.9,320.4 1112.6,325.7 1107.4,320.4" fill="#0000ff"/><polygon points="1114.6,312.1 1119.9,317.4 1114.6,322.6 1109.4,317.4" fill="#0000ff"/><polygon points="1116.7,309.1 1121.9,314.4 1116.7,319.6 1111.4,314.4" fill="#0000ff"/><polygon points="1118.9,306.2 1124.2,311.5 1118.9,316.7 1113.7,311.5" fill="#0000ff"/><polygon points="1121.3,303.5 1126.6,308.7 1121.3,314 1116.1,308.7" fill="#0000ff"/><polygon points="1122.8,301.9 1128.1,307.1 1122.8,312.4 1117.6,307.1" fill="#0000ff"/><polygon points="1122.8,301.9 1128.1,307.1 1122.8,312.4 1117.6,307.1" fill="#0000ff"/><polygon points="1121.3,303.5 1126.6,308.7 1121.3,314 1116.1,308.7" fill="#0000ff"/><polygon points="1118.9,306.2 1124.2,311.5 1118.9,316.7 1113.7,311.5" fill="#0000ff"/><polygon points="1116.7,309.1 1121.9,314.4 1116.7,319.6 1111.4,314.4" fill="#0000ff"/><polygon points="1114.6,312.1 1119.9,317.4 1114.6,322.6 1109.4,317.4" fill="#0000ff"/><polygon points="1112.6,315.2 1117.9,320.4 1112.6,325.7 1107.4,320.4" fill="#0000ff"/><polygon points="1110.8,318.5 1116,323.8 1110.8,329 1105.5,323.8" fill="#0000ff"/><polygon points="1109.2,321.8 1114.4,327.1 1109.2,332.3 1103.9,327.1" fill="#0000ff"/><polygon points="1107.9,325.3 1113.2,330.6 1107.9,335.8 1102.7,330.6" fill="#0000ff"/><polygon points="1106.7,328.8 1111.9,334.1 1106.7,339.3 1101.4,334.1" fill="#0000ff"/><polygon points="1105.4,332.3 1110.7,337.6 1105.4,342.8 1100.2,337.6" fill="#0000ff"/><polygon points="1104.3,336 1109.5,341.3 1104.3,346.5 1099,341.3" fill="#0000ff"/><polygon points="1103.4,339.6 1108.6,344.8 1103.4,350.1 1098.1,344.8" fill="#0000ff"/><polygon points="1102.4,343.2 1107.6,348.4 1102.4,353.7 1097.1,348.4" fill="#0000ff"/><polygon points="1101.3,346.7 1106.6,352 1101.3,357.2 1096.1,352" fill="#0000ff"/><polygon points="1100.3,350.2 1105.5,355.5 1100.3,360.7 1095,355.5" fill="#0000ff"/><polygon points="1099.2,353.7 1104.5,359 1099.2,364.2 1094,359" fill="#0000ff"/><polygon points="1098.1,357.3 1103.4,362.6 1098.1,367.8 1092.9,362.6" fill="#0000ff"/><polygon points="1097.2,360.9 1102.5,366.1 1097.2,371.4 1092,366.1" fill="#0000ff"/><polygon points="1096.4,364.4 1101.7,369.7 1096.4,374.9 1091.2,369.7" fill="#0000ff"/><polygon points="1095.9,368 1101.2,373.2 1095.9,378.5 1090.7,373.2" fill="#0000ff"/><polygon points="1095.3,371.6 1100.5,376.8 1095.3,382.1 1090,376.8" fill="#0000ff"/><polygon points="1094.6,375.1 1099.9,380.4 1094.6,385.6 1089.4,380.4" fill="#0000ff"/><polygon points="1094.2,378.8 1099.4,384.1 1094.2,389.3 1088.9,384.1" fill="#0000ff"/><polygon points="1093.6,382.5 1098.8,387.7 1093.6,393 1088.3,387.7" fill="#0000ff"/><polygon points="1092.9,386.1 1098.1,391.4 1092.9,396.6 1087.6,391.4" fill="#0000ff"/><polygon points="1092.4,389.8 1097.7,395.1 1092.4,400.3 1087.2,395.1" fill="#0000ff"/><polygon points="1092.1,393.5 1097.3,398.7 1092.1,404 1086.8,398.7" fill="#0000ff"/><polygon points="1091.8,397.1 1097.1,402.3 1091.8,407.6 1086.6,402.3" fill="#0000ff"/><polygon points="1091.6,400.7 1096.8,405.9 1091.6,411.2 1086.3,405.9" fill="#0000ff"/><polygon points="1091.1,404.3 1096.4,409.5 1091.1,414.8 1085.9,409.5" fill="#0000ff"/><polygon points="1090.7,407.9 1096,413.2 1090.7,418.4 1085.5,413.2" fill="#0000ff"/><polygon points="1090.3,411.6 1095.5,416.9 1090.3,422.1 1085,416.9" fill="#0000ff"/><polygon points="1089.8,415.3 1095.1,420.6 1089.8,425.8 1084.6,420.6" fill="#0000ff"/><polygon points="1089.4,419 1094.7,424.3 1089.4,429.5 1084.2,424.3" fill="#0000ff"/><polygon points="1089,422.7 1094.2,428 1089,433.2 1083.7,428" fill="#0000ff"/><polygon points="1088.8,426.6 1094,431.8 1088.8,437.1 1083.5,431.8" fill="#0000ff"/><polygon points="1088.7,430.2 1093.9,435.5 1088.7,440.8 1083.4,435.5" fill="#0000ff"/><polygon points="1088.7,426.6 1094,431.8 1088.7,437.1 1083.5,431.8" fill="#0000ff"/><polygon points="1088.9,422.7 1094.2,428 1088.9,433.2 1083.7,428" fill="#0000ff"/><polygon points="1089.3,419 1094.5,424.3 1089.3,429.5 1084,424.3" fill="#0000ff"/><polygon points="1089.6,415.3 1094.9,420.6 1089.6,425.8 1084.4,420.6" fill="#0000ff"/><polygon points="1090,411.6 1095.2,416.9 1090,422.1 1084.7,416.9" fill="#0000ff"/><polygon points="1090.4,407.9 1095.6,413.2 1090.4,418.4 1085.1,413.2" fill="#0000ff"/><polygon points="1090.7,404.3 1096,409.5 1090.7,414.8 1085.5,409.5" fill="#0000ff"/><polygon points="1091.1,400.7 1096.3,405.9 1091.1,411.2 1085.8,405.9" fill="#0000ff"/><polygon points="1091.3,397.1 1096.5,402.3 1091.3,407.6 1086,402.3" fill="#0000ff"/><polygon points="1091.5,393.5 1096.8,398.7 1091.5,404 1086.3,398.7" fill="#0000ff"/><polygon points="1091.8,389.8 1097.1,395.1 1091.8,400.3 1086.6,395.1" fill="#0000ff"/><polygon points="1092.2,386.1 1097.4,391.4 1092.2,396.6 1086.9,391.4" fill="#0000ff"/><polygon points="1092.7,382.5 1098,387.7 1092.7,393 1087.5,387.7" fill="#0000ff"/><polygon points="1093.2,378.8 1098.5,384.1 1093.2,389.3 1088,384.1" fill="#0000ff"/><polygon points="1093.6,375.1 1098.9,380.4 1093.6,385.6 1088.4,380.4" fill="#0000ff"/><polygon points="1094.3,371.6 1099.5,376.8 1094.3,382.1 1089,376.8" fill="#0000ff"/><polygon points="1094.9,368 1100.2,373.2 1094.9,378.5 1089.7,373.2" fill="#0000ff"/><polygon points="1095.4,364.4 1100.7,369.7 1095.4,374.9 1090.2,369.7" fill="#0000ff"/><polygon points="1096.2,360.9 1101.5,366.1 1096.2,371.4 1091,366.1" fill="#0000ff"/><polygon points="1097.2,357.3 1102.4,362.6 1097.2,367.8 1091.9,362.6" fill="#0000ff"/><polygon points="1098.2,353.7 1103.5,359 1098.2,364.2 1093,359" fill="#0000ff"/><polygon points="1099.3,350.2 1104.5,355.5 1099.3,360.7 1094,355.5" fill="#0000ff"/><polygon points="1100.3,346.7 1105.6,352 1100.3,357.2 1095.1,352" fill="#0000ff"/><polygon points="1101.4,343.2 1106.6,348.4 1101.4,353.7 1096.1,348.4" fill="#0000ff"/><polygon points="1102.4,339.6 1107.6,344.8 1102.4,350.1 1097.1,344.8" fill="#0000ff"/><polygon points="1103.3,336 1108.5,341.3 1103.3,346.5 1098,341.3" fill="#0000ff"/><polygon points="1104.5,332.3 1109.7,337.6 1104.5,342.8 1099.2,337.6" fill="#0000ff"/><polygon points="1105.7,328.8 1110.9,334.1 1105.7,339.3 1100.4,334.1" fill="#0000ff"/><polygon points="1106.9,325.3 1112.2,330.6 1106.9,335.8 1101.7,330.6" fill="#0000ff"/><polygon points="1108.2,321.8 1113.4,327.1 1108.2,332.3 1102.9,327.1" fill="#0000ff"/><polygon points="1109.8,318.5 1115.1,323.8 1109.8,329 1104.6,323.8" fill="#0000ff"/><polygon points="1111.6,315.2 1116.9,320.4 1111.6,325.7 1106.4,320.4" fill="#0000ff"/><polygon points="1113.6,312.1 1118.9,317.4 1113.6,322.6 1108.4,317.4" fill="#0000ff"/><polygon points="1115.7,309.1 1120.9,314.4 1115.7,319.6 1110.4,314.4" fill="#0000ff"/><polygon points="1117.9,306.2 1123.2,311.5 1117.9,316.7 1112.7,311.5" fill="#0000ff"/><polygon points="1120.3,303.5 1125.6,308.7 1120.3,314 1115.1,308.7" fill="#0000ff"/><polygon points="1121.8,301.9 1127.1,307.1 1121.8,312.4 1116.6,307.1" fill="#0000ff"/><polygon points="1128.5,293.4 1133.7,298.6 1128.5,303.9 1123.2,298.6" fill="#0000ff"/><polygon points="1135.1,291.9 1140.4,297.1 1135.1,302.4 1129.9,297.1" fill="#0000ff"/><polygon points="1145.1,287.1 1150.3,292.4 1145.1,297.6 1139.8,292.4" fill="#0000ff"/><polygon points="1155,281.8 1160.3,287 1155,292.2 1149.8,287" fill="#0000ff"/><polygon points="1171.6,271.8 1176.9,277 1171.6,282.2 1166.4,277" fill="#0000ff"/><polygon points="1188.2,260.1 1193.4,265.3 1188.2,270.6 1182.9,265.3" fill="#0000ff"/><polygon points="1204.8,259.4 1210,264.6 1204.8,269.9 1199.5,264.6" fill="#0000ff"/><polygon points="1221.4,258.9 1226.6,264.2 1221.4,269.4 1216.1,264.2" fill="#0000ff"/><polygon points="1238,257.9 1243.2,263.1 1238,268.4 1232.7,263.1" fill="#0000ff"/><polygon points="1254.6,256.1 1259.8,261.3 1254.6,266.6 1249.3,261.3" fill="#0000ff"/><polygon points="1287.8,254.6 1293,259.9 1287.8,265.1 1282.5,259.9" fill="#0000ff"/><polygon points="1320.9,252.1 1326.2,257.4 1320.9,262.6 1315.7,257.4" fill="#0000ff"/><polygon points="1354.1,249.7 1359.4,254.9 1354.1,260.1 1348.9,254.9" fill="#0000ff"/><polygon points="1354.1,223.2 1359.4,228.5 1354.1,233.8 1348.9,228.5" fill="#0000ff"/><polygon points="1320.9,222.6 1326.2,227.8 1320.9,233.1 1315.7,227.8" fill="#0000ff"/><polygon points="1287.8,218.9 1293,224.2 1287.8,229.4 1282.5,224.2" fill="#0000ff"/><polygon points="1254.6,216.6 1259.8,221.8 1254.6,227.1 1249.3,221.8" fill="#0000ff"/><polygon points="1238,217.6 1243.2,222.8 1238,228.1 1232.7,222.8" fill="#0000ff"/><polygon points="1221.4,216.8 1226.6,222.1 1221.4,227.3 1216.1,222.1" fill="#0000ff"/><polygon points="1204.8,214.4 1210,219.7 1204.8,224.9 1199.5,219.7" fill="#0000ff"/><polygon points="1188.2,209.9 1193.4,215.2 1188.2,220.4 1182.9,215.2" fill="#0000ff"/><polygon points="1171.6,200.4 1176.9,205.7 1171.6,210.9 1166.4,205.7" fill="#0000ff"/><polygon points="1155,189.8 1160.3,195 1155,200.2 1149.8,195" fill="#0000ff"/><polygon points="1145.1,181.2 1150.3,186.4 1145.1,191.7 1139.8,186.4" fill="#0000ff"/><polygon points="1135.1,172.2 1140.4,177.4 1135.1,182.7 1129.9,177.4" fill="#0000ff"/><polygon points="1128.5,162.9 1133.7,168.2 1128.5,173.4 1123.2,168.2" fill="#0000ff"/><polygon points="1121.8,158 1127.1,163.2 1121.8,168.5 1116.6,163.2" fill="#0000ff"/><polygon points="1119.2,155.3 1124.4,160.6 1119.2,165.8 1113.9,160.6" fill="#0000ff"/><polygon points="1116.5,152.7 1121.7,157.9 1116.5,163.2 1111.2,157.9" fill="#0000ff"/><polygon points="1114,149.8 1119.2,155.1 1114,160.3 1108.7,155.1" fill="#0000ff"/><polygon points="1111.5,146.9 1116.8,152.1 1111.5,157.4 1106.3,152.1" fill="#0000ff"/><polygon points="1109.1,143.9 1114.3,149.1 1109.1,154.4 1103.8,149.1" fill="#0000ff"/><polygon points="1107.3,140.7 1112.5,145.9 1107.3,151.2 1102,145.9" fill="#0000ff"/><polygon points="1105.5,137.3 1110.8,142.6 1105.5,147.8 1100.3,142.6" fill="#0000ff"/><polygon points="1104,134 1109.2,139.3 1104,144.5 1098.7,139.3" fill="#0000ff"/><polygon points="1102.8,130.5 1108,135.7 1102.8,141 1097.5,135.7" fill="#0000ff"/><polygon points="1101.5,126.9 1106.8,132.1 1101.5,137.4 1096.3,132.1" fill="#0000ff"/><polygon points="1100.3,123.3 1105.5,128.6 1100.3,133.8 1095,128.6" fill="#0000ff"/><polygon points="1099.1,119.7 1104.3,125 1099.1,130.2 1093.8,125" fill="#0000ff"/><polygon points="1098,116.2 1103.2,121.4 1098,126.7 1092.7,121.4" fill="#0000ff"/><polygon points="1096.9,112.6 1102.1,117.8 1096.9,123.1 1091.6,117.8" fill="#0000ff"/><polygon points="1095.8,109 1101.1,114.3 1095.8,119.5 1090.6,114.3" fill="#0000ff"/><polygon points="1094.8,105.4 1100.1,110.7 1094.8,115.9 1089.6,110.7" fill="#0000ff"/><polygon points="1094.3,101.8 1099.6,107.1 1094.3,112.3 1089.1,107.1" fill="#0000ff"/><polygon points="1093.8,98.2 1099,103.5 1093.8,108.7 1088.5,103.5" fill="#0000ff"/><polygon points="1093.3,94.6 1098.5,99.9 1093.3,105.1 1088,99.9" fill="#0000ff"/><polygon points="1092.7,91 1098,96.3 1092.7,101.5 1087.5,96.3" fill="#0000ff"/><polygon points="1092.1,87.1 1097.4,92.4 1092.1,97.6 1086.9,92.4" fill="#0000ff"/><polygon points="1091.5,83.2 1096.8,88.5 1091.5,93.7 1086.3,88.5" fill="#0000ff"/><polygon points="1090.9,79.3 1096.2,84.6 1090.9,89.8 1085.7,84.6" fill="#0000ff"/><polygon points="1090.4,75.4 1095.7,80.7 1090.4,85.9 1085.2,80.7" fill="#0000ff"/><polygon points="1090.1,71.5 1095.3,76.7 1090.1,82 1084.8,76.7" fill="#0000ff"/><polygon points="1089.7,67.5 1095,72.8 1089.7,78 1084.5,72.8" fill="#0000ff"/><polygon points="1089.3,63.6 1094.6,68.9 1089.3,74.1 1084.1,68.9" fill="#0000ff"/><polygon points="1089,59.9 1094.2,65.1 1089,70.4 1083.7,65.1" fill="#0000ff"/><polygon points="1088.7,56.1 1093.9,61.4 1088.7,66.7 1083.4,61.4" fill="#0000ff"/><polygon points="1088.4,59.9 1093.6,65.1 1088.4,70.4 1083.1,65.1" fill="#0000ff"/><polygon points="1088.1,63.6 1093.4,68.9 1088.1,74.1 1082.9,68.9" fill="#0000ff"/><polygon points="1088,67.5 1093.2,72.8 1088,78 1082.7,72.8" fill="#0000ff"/><polygon points="1087.8,71.5 1093.1,76.7 1087.8,82 1082.6,76.7" fill="#0000ff"/><polygon points="1087.6,75.4 1092.9,80.7 1087.6,85.9 1082.4,80.7" fill="#0000ff"/><polygon points="1087.4,79.3 1092.7,84.6 1087.4,89.8 1082.2,84.6" fill="#0000ff"/><polygon points="1087.1,83.2 1092.4,88.5 1087.1,93.7 1081.9,88.5" fill="#0000ff"/><polygon points="1086.8,87.1 1092,92.4 1086.8,97.6 1081.5,92.4" fill="#0000ff"/><polygon points="1086.5,91 1091.7,96.3 1086.5,101.5 1081.2,96.3" fill="#0000ff"/><polygon points="1086.1,94.6 1091.3,99.9 1086.1,105.1 1080.8,99.9" fill="#0000ff"/><polygon points="1085.6,98.2 1090.9,103.5 1085.6,108.7 1080.4,103.5" fill="#0000ff"/><polygon points="1085.2,101.8 1090.4,107.1 1085.2,112.3 1079.9,107.1" fill="#0000ff"/><polygon points="1084.8,105.4 1090,110.7 1084.8,115.9 1079.5,110.7" fill="#0000ff"/><polygon points="1084.3,109 1089.6,114.3 1084.3,119.5 1079.1,114.3" fill="#0000ff"/><polygon points="1083.8,112.6 1089.1,117.8 1083.8,123.1 1078.6,117.8" fill="#0000ff"/><polygon points="1083.4,116.2 1088.6,121.4 1083.4,126.7 1078.1,121.4" fill="#0000ff"/><polygon points="1082.9,119.7 1088.2,125 1082.9,130.2 1077.7,125" fill="#0000ff"/><polygon points="1082.4,123.3 1087.7,128.6 1082.4,133.8 1077.2,128.6" fill="#0000ff"/><polygon points="1081.9,126.9 1087.1,132.1 1081.9,137.4 1076.6,132.1" fill="#0000ff"/><polygon points="1081.3,130.5 1086.6,135.7 1081.3,141 1076.1,135.7" fill="#0000ff"/><polygon points="1080.8,134 1086,139.3 1080.8,144.5 1075.5,139.3" fill="#0000ff"/><polygon points="1080.1,137.6 1085.4,142.8 1080.1,148.1 1074.9,142.8" fill="#0000ff"/><polygon points="1079.4,141.1 1084.7,146.4 1079.4,151.6 1074.2,146.4" fill="#0000ff"/><polygon points="1078.7,144.7 1084,149.9 1078.7,155.2 1073.5,149.9" fill="#0000ff"/><polygon points="1078,148.2 1083.3,153.5 1078,158.7 1072.8,153.5" fill="#0000ff"/><polygon points="1076.9,151.8 1082.1,157.1 1076.9,162.3 1071.6,157.1" fill="#0000ff"/><polygon points="1075.6,155.4 1080.9,160.6 1075.6,165.9 1070.4,160.6" fill="#0000ff"/><polygon points="1074.4,159 1079.6,164.2 1074.4,169.5 1069.1,164.2" fill="#0000ff"/><polygon points="1073.1,162.5 1078.4,167.8 1073.1,173 1067.9,167.8" fill="#0000ff"/><polygon points="1071.1,165.7 1076.4,171 1071.1,176.2 1065.9,171" fill="#0000ff"/><polygon points="1069,168.8 1074.2,174 1069,179.3 1063.7,174" fill="#0000ff"/><polygon points="1066.7,171.9 1072,177.1 1066.7,182.4 1061.5,177.1" fill="#0000ff"/><polygon points="1064.5,174.9 1069.7,180.1 1064.5,185.4 1059.2,180.1" fill="#0000ff"/><polygon points="1062.2,177.9 1067.5,183.1 1062.2,188.4 1057,183.1" fill="#0000ff"/><polygon points="1059.8,180.6 1065.1,185.8 1059.8,191.1 1054.6,185.8" fill="#0000ff"/><polygon points="1057.2,183.1 1062.5,188.4 1057.2,193.6 1052,188.4" fill="#0000ff"/><polygon points="1055.5,185.4 1060.7,190.7 1055.5,195.9 1050.2,190.7" fill="#0000ff"/><polygon points="1048.8,189.1 1054.1,194.3 1048.8,199.6 1043.6,194.3" fill="#0000ff"/><polygon points="1042.2,191.2 1047.4,196.4 1042.2,201.7 1036.9,196.4" fill="#0000ff"/><polygon points="1032.2,199.8 1037.5,205 1032.2,210.2 1027,205" fill="#0000ff"/><polygon points="1022.3,200.4 1027.5,205.7 1022.3,210.9 1017,205.7" fill="#0000ff"/><polygon points="1005.7,208.6 1010.9,213.8 1005.7,219.1 1000.4,213.8" fill="#0000ff"/><polygon points="989.1,225.8 994.3,231 989.1,236.2 983.8,231" fill="#0000ff"/><polygon points="972.5,227.9 977.8,233.2 972.5,238.4 967.3,233.2" fill="#0000ff"/><polygon points="955.9,229.9 961.2,235.2 955.9,240.4 950.7,235.2" fill="#0000ff"/><polygon points="939.3,230.4 944.6,235.7 939.3,240.9 934.1,235.7" fill="#0000ff"/><polygon points="922.7,231.2 928,236.4 922.7,241.7 917.5,236.4" fill="#0000ff"/><polygon points="889.5,230.4 894.8,235.7 889.5,240.9 884.3,235.7" fill="#0000ff"/><polygon points="856.4,234.3 861.6,239.6 856.4,244.8 851.1,239.6" fill="#0000ff"/><polygon points="823.2,235.2 828.4,240.4 823.2,245.7 817.9,240.4" fill="#0000ff"/><polygon points="823.2,261.9 828.4,267.1 823.2,272.4 817.9,267.1" fill="#0000ff"/><polygon points="856.4,261.4 861.6,266.6 856.4,271.9 851.1,266.6" fill="#0000ff"/><polygon points="889.5,265.4 894.8,270.6 889.5,275.9 884.3,270.6" fill="#0000ff"/><polygon points="922.7,265.8 928,271 922.7,276.2 917.5,271" fill="#0000ff"/><polygon points="939.3,266.8 944.6,272 939.3,277.2 934.1,272" fill="#0000ff"/><polygon points="955.9,269.9 961.2,275.2 955.9,280.4 950.7,275.2" fill="#0000ff"/><polygon points="972.5,273.9 977.8,279.2 972.5,284.4 967.3,279.2" fill="#0000ff"/><polygon points="989.1,277.6 994.3,282.8 989.1,288.1 983.8,282.8" fill="#0000ff"/><polygon points="1005.7,283.2 1010.9,288.5 1005.7,293.8 1000.4,288.5" fill="#0000ff"/><polygon points="1022.3,295.8 1027.5,301 1022.3,306.2 1017,301" fill="#0000ff"/><polygon points="1032.2,305.1 1037.5,310.4 1032.2,315.6 1027,310.4" fill="#0000ff"/><polygon points="1042.2,313.1 1047.4,318.3 1042.2,323.6 1036.9,318.3" fill="#0000ff"/><polygon points="1048.8,324.1 1054.1,329.3 1048.8,334.6 1043.6,329.3" fill="#0000ff"/><polygon points="1055.5,328.9 1060.7,334.2 1055.5,339.4 1050.2,334.2" fill="#0000ff"/><polygon points="1057.4,332.1 1062.7,337.4 1057.4,342.6 1052.2,337.4" fill="#0000ff"/><polygon points="1059.4,335.2 1064.7,340.4 1059.4,345.7 1054.2,340.4" fill="#0000ff"/><polygon points="1062,337.9 1067.2,343.1 1062,348.4 1056.7,343.1" fill="#0000ff"/><polygon points="1064.5,340.6 1069.8,345.8 1064.5,351.1 1059.3,345.8" fill="#0000ff"/><polygon points="1066.6,343.6 1071.9,348.8 1066.6,354.1 1061.4,348.8" fill="#0000ff"/><polygon points="1068.7,346.6 1074,351.8 1068.7,357.1 1063.5,351.8" fill="#0000ff"/><polygon points="1070.9,349.5 1076.1,354.8 1070.9,360 1065.6,354.8" fill="#0000ff"/><polygon points="1072.9,352.6 1078.2,357.9 1072.9,363.1 1067.7,357.9" fill="#0000ff"/><polygon points="1074.5,355.9 1079.7,361.1 1074.5,366.4 1069.2,361.1" fill="#0000ff"/><polygon points="1076.1,359.2 1081.3,364.4 1076.1,369.7 1070.8,364.4" fill="#0000ff"/><polygon points="1077.7,362.4 1083,367.7 1077.7,372.9 1072.5,367.7" fill="#0000ff"/><polygon points="1079,365.9 1084.3,371.1 1079,376.4 1073.8,371.1" fill="#0000ff"/><polygon points="1080.2,369.3 1085.5,374.5 1080.2,379.8 1075,374.5" fill="#0000ff"/><polygon points="1081.2,372.8 1086.4,378.1 1081.2,383.3 1075.9,378.1" fill="#0000ff"/><polygon points="1082.1,376.4 1087.3,381.7 1082.1,386.9 1076.8,381.7" fill="#0000ff"/><polygon points="1082.9,380 1088.2,385.2 1082.9,390.5 1077.7,385.2" fill="#0000ff"/><polygon points="1083.6,383.6 1088.9,388.9 1083.6,394.1 1078.4,388.9" fill="#0000ff"/><polygon points="1084.2,387.3 1089.4,392.5 1084.2,397.8 1078.9,392.5" fill="#0000ff"/><polygon points="1084.6,391 1089.9,396.2 1084.6,401.5 1079.4,396.2" fill="#0000ff"/><polygon points="1085.1,394.7 1090.4,399.9 1085.1,405.2 1079.9,399.9" fill="#0000ff"/><polygon points="1085.7,398.3 1090.9,403.5 1085.7,408.8 1080.4,403.5" fill="#0000ff"/><polygon points="1086.2,402 1091.5,407.2 1086.2,412.5 1081,407.2" fill="#0000ff"/><polygon points="1086.7,405.7 1092,410.9 1086.7,416.2 1081.5,410.9" fill="#0000ff"/><polygon points="1087.2,409.3 1092.5,414.6 1087.2,419.8 1082,414.6" fill="#0000ff"/><polygon points="1087.7,413 1092.9,418.3 1087.7,423.5 1082.4,418.3" fill="#0000ff"/><polygon points="1087.9,416.7 1093.2,422 1087.9,427.2 1082.7,422" fill="#0000ff"/><polygon points="1088.2,420.4 1093.4,425.7 1088.2,430.9 1082.9,425.7" fill="#0000ff"/><polygon points="1088.4,424.2 1093.6,429.4 1088.4,434.7 1083.1,429.4" fill="#0000ff"/><polygon points="1088.6,427.9 1093.8,433.1 1088.6,438.4 1083.3,433.1" fill="#0000ff"/><polygon points="1088.7,430.2 1093.9,435.5 1088.7,440.8 1083.4,435.5" fill="#0000ff"/>
</g>
<rect x="790" y="37.2" width="597.3" height="422.1" fill="none" stroke="#000" stroke-width="2.7"/>
<path d="M790 459.3V450.7M790 37.2V45.8M889.5 459.3V450.7M889.5 37.2V45.8M989.1 459.3V450.7M989.1 37.2V45.8M1088.7 459.3V450.7M1088.7 37.2V45.8M1188.2 459.3V450.7M1188.2 37.2V45.8M1287.8 459.3V450.7M1287.8 37.2V45.8M1387.3 459.3V450.7M1387.3 37.2V45.8M839.8 459.3V454M839.8 37.2V42.5M939.3 459.3V454M939.3 37.2V42.5M1038.9 459.3V454M1038.9 37.2V42.5M1138.4 459.3V454M1138.4 37.2V42.5M1238 459.3V454M1238 37.2V42.5M1337.5 459.3V454M1337.5 37.2V42.5M790 384.4H798.6M1387.3 384.4H1378.7M790 248.2H798.6M1387.3 248.2H1378.7M790 112.1H798.6M1387.3 112.1H1378.7M790 452.5H795.3M1387.3 452.5H1382M790 316.3H795.3M1387.3 316.3H1382M790 180.2H795.3M1387.3 180.2H1382M790 44H795.3M1387.3 44H1382" stroke="#000" stroke-width="2.4" fill="none" stroke-linecap="butt"/>
<text transform="translate(789.8 485.5) scale(0.875 1)" font-size="23.3" text-anchor="middle">-9</text>
<text transform="translate(889.3 485.5) scale(0.875 1)" font-size="23.3" text-anchor="middle">-6</text>
<text transform="translate(988.9 485.5) scale(0.875 1)" font-size="23.3" text-anchor="middle">-3</text>
<text transform="translate(1088.5 485.5) scale(0.875 1)" font-size="23.3" text-anchor="middle">0</text>
<text transform="translate(1188 485.5) scale(0.875 1)" font-size="23.3" text-anchor="middle">3</text>
<text transform="translate(1287.5 485.5) scale(0.875 1)" font-size="23.3" text-anchor="middle">6</text>
<text transform="translate(1387.1 485.5) scale(0.875 1)" font-size="23.3" text-anchor="middle">9</text>
<text transform="translate(780.9 390.1) scale(0.875 1)" font-size="23.3" text-anchor="end">-2</text>
<text transform="translate(780.9 253.9) scale(0.875 1)" font-size="23.3" text-anchor="end">0</text>
<text transform="translate(780.9 117.8) scale(0.875 1)" font-size="23.3" text-anchor="end">2</text>
<text transform="translate(1227.2 345.1) scale(0.960 1)" font-size="24.7" text-anchor="start" class="lt">LaCa122-B</text>
<line x1="1218.8" y1="367.3" x2="1274.7" y2="367.3" stroke="#000000" stroke-width="2.1"/>
<rect x="1239.9" y="360.5" width="13.7" height="13.7" fill="#000000"/>
<text transform="translate(1280.8 376.2) scale(0.960 1)" font-size="24.7" text-anchor="start" class="lt">pristine</text>
<line x1="1218.8" y1="397.4" x2="1274.7" y2="397.4" stroke="#ff0000" stroke-width="2.1"/>
<circle cx="1246.7" cy="397.4" r="8.5" fill="#ff0000"/>
<text transform="translate(1280.8 406.3) scale(0.960 1)" font-size="24.7" text-anchor="start" word-spacing="1.2" class="lt">110 mA</text>
<line x1="1218.8" y1="427.7" x2="1274.7" y2="427.7" stroke="#0000ff" stroke-width="2.1"/>
<polygon points="1246.7,417.5 1256.9,427.7 1246.7,437.9 1236.5,427.7" fill="#0000ff"/>
<text transform="translate(1280.8 436.6) scale(0.960 1)" font-size="24.7" text-anchor="start" class="lt">10 days</text>
<text transform="translate(717.6 39.6) scale(0.970 1)" font-size="50.0" text-anchor="start">b</text>
<text transform="translate(807.9 441.6) scale(0.920 1)" font-size="36.3" text-anchor="start" word-spacing="2.2">2 K</text>
<text transform="translate(1094.2 515.0) scale(0.905 1)" font-size="30.0" text-anchor="middle">H (kOe)</text>
<text transform="translate(750.5 241.5) rotate(-90) scale(0.918 1)" font-size="30.0" text-anchor="middle">M<tspan font-size="17.0" class="n" dy="9.5">s</tspan><tspan dy="-9.5"> (</tspan><tspan class="n" style="stroke-width:0.6px">×</tspan>10<tspan font-size="17.0" class="n" dy="-13">-4</tspan><tspan dy="13"> emu)</tspan></text>
</g>
<g id="panel-c">
<clipPath id="clip-c"><rect x="71.5" y="567.2" width="598.5" height="422.3"/></clipPath>
<g clip-path="url(#clip-c)">
<polyline fill="none" stroke="#000000" stroke-width="1.6" stroke-linejoin="round" points="394,604.2 406,603.7 417.9,603.4 429.9,603.3 441.8,603.3 453.8,603.3 465.7,603.3 477.7,603.3 489.6,603.3 501.6,603.3 513.5,603.3 525.4,603.3 537.4,603.3 549.3,603.3 561.3,603.3 573.2,603.3 585.2,603.3 597.1,603.3 609.1,603.3 621,603.3 633,603.3 644.9,603.3 656.9,603.3 668.8,603.3"/>
<rect x="390.5" y="600.7" width="7" height="7" fill="#000000"/><rect x="402.5" y="600.2" width="7" height="7" fill="#000000"/><rect x="414.4" y="599.9" width="7" height="7" fill="#000000"/><rect x="426.4" y="599.8" width="7" height="7" fill="#000000"/><rect x="438.3" y="599.8" width="7" height="7" fill="#000000"/><rect x="450.3" y="599.8" width="7" height="7" fill="#000000"/><rect x="462.2" y="599.8" width="7" height="7" fill="#000000"/><rect x="474.2" y="599.8" width="7" height="7" fill="#000000"/><rect x="486.1" y="599.8" width="7" height="7" fill="#000000"/><rect x="498.1" y="599.8" width="7" height="7" fill="#000000"/><rect x="510" y="599.8" width="7" height="7" fill="#000000"/><rect x="521.9" y="599.8" width="7" height="7" fill="#000000"/><rect x="533.9" y="599.8" width="7" height="7" fill="#000000"/><rect x="545.8" y="599.8" width="7" height="7" fill="#000000"/><rect x="557.8" y="599.8" width="7" height="7" fill="#000000"/><rect x="569.7" y="599.8" width="7" height="7" fill="#000000"/><rect x="581.7" y="599.8" width="7" height="7" fill="#000000"/><rect x="593.6" y="599.8" width="7" height="7" fill="#000000"/><rect x="605.6" y="599.8" width="7" height="7" fill="#000000"/><rect x="617.5" y="599.8" width="7" height="7" fill="#000000"/><rect x="629.5" y="599.8" width="7" height="7" fill="#000000"/><rect x="641.4" y="599.8" width="7" height="7" fill="#000000"/><rect x="653.4" y="599.8" width="7" height="7" fill="#000000"/><rect x="665.3" y="599.8" width="7" height="7" fill="#000000"/>
<polyline fill="none" stroke="#000000" stroke-width="1.6" stroke-linejoin="round" points="95.4,593.6 107.3,595 119.3,596 131.2,596.8 143.2,597.5 155.1,598.3 167.1,598.6 179,599.3 191,599.7 202.9,600 214.9,600.3 226.8,600.3 238.7,600.2 250.7,600 262.6,600.3 274.6,601.4 286.5,600.7 298.5,600.3 310.4,600.7 322.4,601.3 334.3,601.8 346.3,602.2 358.2,602.6 370.1,602.6 382.1,602.6 394,602.6 406,602.6 417.9,602.6 429.9,602.6 441.8,602.6 453.8,602.6 465.7,602.6 477.7,602.6 489.6,602.6 501.6,602.6 513.5,602.6 525.4,602.6 537.4,602.6 549.3,602.6 561.3,602.6 573.2,602.6 585.2,602.6 597.1,602.6 609.1,602.6 621,602.6 633,602.6 644.9,602.6 656.9,602.6 668.8,602.6"/>
<rect x="92.5" y="590.8" width="5.7" height="5.7" fill="#ffffff" stroke="#000000" stroke-width="1.3"/><rect x="104.5" y="592.1" width="5.7" height="5.7" fill="#ffffff" stroke="#000000" stroke-width="1.3"/><rect x="116.4" y="593.1" width="5.7" height="5.7" fill="#ffffff" stroke="#000000" stroke-width="1.3"/><rect x="128.4" y="593.9" width="5.7" height="5.7" fill="#ffffff" stroke="#000000" stroke-width="1.3"/><rect x="140.3" y="594.6" width="5.7" height="5.7" fill="#ffffff" stroke="#000000" stroke-width="1.3"/><rect x="152.3" y="595.4" width="5.7" height="5.7" fill="#ffffff" stroke="#000000" stroke-width="1.3"/><rect x="164.2" y="595.8" width="5.7" height="5.7" fill="#ffffff" stroke="#000000" stroke-width="1.3"/><rect x="176.2" y="596.4" width="5.7" height="5.7" fill="#ffffff" stroke="#000000" stroke-width="1.3"/><rect x="188.1" y="596.9" width="5.7" height="5.7" fill="#ffffff" stroke="#000000" stroke-width="1.3"/><rect x="200.1" y="597.1" width="5.7" height="5.7" fill="#ffffff" stroke="#000000" stroke-width="1.3"/><rect x="212" y="597.4" width="5.7" height="5.7" fill="#ffffff" stroke="#000000" stroke-width="1.3"/><rect x="223.9" y="597.4" width="5.7" height="5.7" fill="#ffffff" stroke="#000000" stroke-width="1.3"/><rect x="235.9" y="597.4" width="5.7" height="5.7" fill="#ffffff" stroke="#000000" stroke-width="1.3"/><rect x="247.8" y="597.1" width="5.7" height="5.7" fill="#ffffff" stroke="#000000" stroke-width="1.3"/><rect x="259.8" y="597.4" width="5.7" height="5.7" fill="#ffffff" stroke="#000000" stroke-width="1.3"/><rect x="271.7" y="598.5" width="5.7" height="5.7" fill="#ffffff" stroke="#000000" stroke-width="1.3"/><rect x="283.7" y="597.9" width="5.7" height="5.7" fill="#ffffff" stroke="#000000" stroke-width="1.3"/><rect x="295.6" y="597.4" width="5.7" height="5.7" fill="#ffffff" stroke="#000000" stroke-width="1.3"/><rect x="307.6" y="597.9" width="5.7" height="5.7" fill="#ffffff" stroke="#000000" stroke-width="1.3"/><rect x="319.5" y="598.4" width="5.7" height="5.7" fill="#ffffff" stroke="#000000" stroke-width="1.3"/><rect x="331.5" y="598.9" width="5.7" height="5.7" fill="#ffffff" stroke="#000000" stroke-width="1.3"/><rect x="343.4" y="599.4" width="5.7" height="5.7" fill="#ffffff" stroke="#000000" stroke-width="1.3"/><rect x="355.4" y="599.8" width="5.7" height="5.7" fill="#ffffff" stroke="#000000" stroke-width="1.3"/><rect x="367.3" y="599.8" width="5.7" height="5.7" fill="#ffffff" stroke="#000000" stroke-width="1.3"/><rect x="379.2" y="599.8" width="5.7" height="5.7" fill="#ffffff" stroke="#000000" stroke-width="1.3"/><rect x="391.2" y="599.8" width="5.7" height="5.7" fill="#ffffff" stroke="#000000" stroke-width="1.3"/><rect x="403.1" y="599.8" width="5.7" height="5.7" fill="#ffffff" stroke="#000000" stroke-width="1.3"/><rect x="415.1" y="599.8" width="5.7" height="5.7" fill="#ffffff" stroke="#000000" stroke-width="1.3"/><rect x="427" y="599.8" width="5.7" height="5.7" fill="#ffffff" stroke="#000000" stroke-width="1.3"/><rect x="439" y="599.8" width="5.7" height="5.7" fill="#ffffff" stroke="#000000" stroke-width="1.3"/><rect x="450.9" y="599.8" width="5.7" height="5.7" fill="#ffffff" stroke="#000000" stroke-width="1.3"/><rect x="462.9" y="599.8" width="5.7" height="5.7" fill="#ffffff" stroke="#000000" stroke-width="1.3"/><rect x="474.8" y="599.8" width="5.7" height="5.7" fill="#ffffff" stroke="#000000" stroke-width="1.3"/><rect x="486.8" y="599.8" width="5.7" height="5.7" fill="#ffffff" stroke="#000000" stroke-width="1.3"/><rect x="498.7" y="599.8" width="5.7" height="5.7" fill="#ffffff" stroke="#000000" stroke-width="1.3"/><rect x="510.7" y="599.8" width="5.7" height="5.7" fill="#ffffff" stroke="#000000" stroke-width="1.3"/><rect x="522.6" y="599.8" width="5.7" height="5.7" fill="#ffffff" stroke="#000000" stroke-width="1.3"/><rect x="534.5" y="599.8" width="5.7" height="5.7" fill="#ffffff" stroke="#000000" stroke-width="1.3"/><rect x="546.5" y="599.8" width="5.7" height="5.7" fill="#ffffff" stroke="#000000" stroke-width="1.3"/><rect x="558.4" y="599.8" width="5.7" height="5.7" fill="#ffffff" stroke="#000000" stroke-width="1.3"/><rect x="570.4" y="599.8" width="5.7" height="5.7" fill="#ffffff" stroke="#000000" stroke-width="1.3"/><rect x="582.3" y="599.8" width="5.7" height="5.7" fill="#ffffff" stroke="#000000" stroke-width="1.3"/><rect x="594.3" y="599.8" width="5.7" height="5.7" fill="#ffffff" stroke="#000000" stroke-width="1.3"/><rect x="606.2" y="599.8" width="5.7" height="5.7" fill="#ffffff" stroke="#000000" stroke-width="1.3"/><rect x="618.2" y="599.8" width="5.7" height="5.7" fill="#ffffff" stroke="#000000" stroke-width="1.3"/><rect x="630.1" y="599.8" width="5.7" height="5.7" fill="#ffffff" stroke="#000000" stroke-width="1.3"/><rect x="642.1" y="599.8" width="5.7" height="5.7" fill="#ffffff" stroke="#000000" stroke-width="1.3"/><rect x="654" y="599.8" width="5.7" height="5.7" fill="#ffffff" stroke="#000000" stroke-width="1.3"/><rect x="665.9" y="599.8" width="5.7" height="5.7" fill="#ffffff" stroke="#000000" stroke-width="1.3"/>
<polyline fill="none" stroke="#ff0000" stroke-width="1.6" stroke-linejoin="round" points="95.4,602.1 119.3,600.3 143.2,598.6 167.1,597.8 191,596.8 214.9,596.7 238.7,596.4 262.6,596.4 274.6,596.4 286.5,606.8 298.5,606.4 310.4,606.2 322.4,606.5 334.3,606.5 346.3,606.5 358.2,606.5 370.1,606.5 382.1,606.5 394,606.5 406,606.5 417.9,606.5 429.9,606.5 441.8,606.5 453.8,606.5 465.7,606.5 477.7,606.5 489.6,606.5 501.6,606.5 513.5,606.5 525.4,606.5 537.4,606.5 549.3,606.5 561.3,606.5 573.2,606.5 585.2,606.5 597.1,606.5 609.1,606.5 621,606.5 633,606.5 644.9,606.5 656.9,606.5 668.8,606.5"/>
<circle cx="95.4" cy="602.1" r="3.7" fill="#ffffff" stroke="#ff0000" stroke-width="1.3"/><circle cx="119.3" cy="600.3" r="3.7" fill="#ffffff" stroke="#ff0000" stroke-width="1.3"/><circle cx="143.2" cy="598.6" r="3.7" fill="#ffffff" stroke="#ff0000" stroke-width="1.3"/><circle cx="167.1" cy="597.8" r="3.7" fill="#ffffff" stroke="#ff0000" stroke-width="1.3"/><circle cx="191" cy="596.8" r="3.7" fill="#ffffff" stroke="#ff0000" stroke-width="1.3"/><circle cx="214.9" cy="596.7" r="3.7" fill="#ffffff" stroke="#ff0000" stroke-width="1.3"/><circle cx="238.7" cy="596.4" r="3.7" fill="#ffffff" stroke="#ff0000" stroke-width="1.3"/><circle cx="262.6" cy="596.4" r="3.7" fill="#ffffff" stroke="#ff0000" stroke-width="1.3"/><circle cx="274.6" cy="596.4" r="3.7" fill="#ffffff" stroke="#ff0000" stroke-width="1.3"/><circle cx="286.5" cy="606.8" r="3.7" fill="#ffffff" stroke="#ff0000" stroke-width="1.3"/><circle cx="298.5" cy="606.4" r="3.7" fill="#ffffff" stroke="#ff0000" stroke-width="1.3"/><circle cx="310.4" cy="606.2" r="3.7" fill="#ffffff" stroke="#ff0000" stroke-width="1.3"/><circle cx="322.4" cy="606.5" r="3.7" fill="#ffffff" stroke="#ff0000" stroke-width="1.3"/><circle cx="334.3" cy="606.5" r="3.7" fill="#ffffff" stroke="#ff0000" stroke-width="1.3"/><circle cx="346.3" cy="606.5" r="3.7" fill="#ffffff" stroke="#ff0000" stroke-width="1.3"/><circle cx="358.2" cy="606.5" r="3.7" fill="#ffffff" stroke="#ff0000" stroke-width="1.3"/><circle cx="370.1" cy="606.5" r="3.7" fill="#ffffff" stroke="#ff0000" stroke-width="1.3"/><circle cx="382.1" cy="606.5" r="3.7" fill="#ffffff" stroke="#ff0000" stroke-width="1.3"/><circle cx="394" cy="606.5" r="3.7" fill="#ffffff" stroke="#ff0000" stroke-width="1.3"/><circle cx="406" cy="606.5" r="3.7" fill="#ffffff" stroke="#ff0000" stroke-width="1.3"/><circle cx="417.9" cy="606.5" r="3.7" fill="#ffffff" stroke="#ff0000" stroke-width="1.3"/><circle cx="429.9" cy="606.5" r="3.7" fill="#ffffff" stroke="#ff0000" stroke-width="1.3"/><circle cx="441.8" cy="606.5" r="3.7" fill="#ffffff" stroke="#ff0000" stroke-width="1.3"/><circle cx="453.8" cy="606.5" r="3.7" fill="#ffffff" stroke="#ff0000" stroke-width="1.3"/><circle cx="465.7" cy="606.5" r="3.7" fill="#ffffff" stroke="#ff0000" stroke-width="1.3"/><circle cx="477.7" cy="606.5" r="3.7" fill="#ffffff" stroke="#ff0000" stroke-width="1.3"/><circle cx="489.6" cy="606.5" r="3.7" fill="#ffffff" stroke="#ff0000" stroke-width="1.3"/><circle cx="501.6" cy="606.5" r="3.7" fill="#ffffff" stroke="#ff0000" stroke-width="1.3"/><circle cx="513.5" cy="606.5" r="3.7" fill="#ffffff" stroke="#ff0000" stroke-width="1.3"/><circle cx="525.4" cy="606.5" r="3.7" fill="#ffffff" stroke="#ff0000" stroke-width="1.3"/><circle cx="537.4" cy="606.5" r="3.7" fill="#ffffff" stroke="#ff0000" stroke-width="1.3"/><circle cx="549.3" cy="606.5" r="3.7" fill="#ffffff" stroke="#ff0000" stroke-width="1.3"/><circle cx="561.3" cy="606.5" r="3.7" fill="#ffffff" stroke="#ff0000" stroke-width="1.3"/><circle cx="573.2" cy="606.5" r="3.7" fill="#ffffff" stroke="#ff0000" stroke-width="1.3"/><circle cx="585.2" cy="606.5" r="3.7" fill="#ffffff" stroke="#ff0000" stroke-width="1.3"/><circle cx="597.1" cy="606.5" r="3.7" fill="#ffffff" stroke="#ff0000" stroke-width="1.3"/><circle cx="609.1" cy="606.5" r="3.7" fill="#ffffff" stroke="#ff0000" stroke-width="1.3"/><circle cx="621" cy="606.5" r="3.7" fill="#ffffff" stroke="#ff0000" stroke-width="1.3"/><circle cx="633" cy="606.5" r="3.7" fill="#ffffff" stroke="#ff0000" stroke-width="1.3"/><circle cx="644.9" cy="606.5" r="3.7" fill="#ffffff" stroke="#ff0000" stroke-width="1.3"/><circle cx="656.9" cy="606.5" r="3.7" fill="#ffffff" stroke="#ff0000" stroke-width="1.3"/><circle cx="668.8" cy="606.5" r="3.7" fill="#ffffff" stroke="#ff0000" stroke-width="1.3"/>
<polyline fill="none" stroke="#000000" stroke-width="1.6" stroke-linejoin="round" points="95.4,612.1 95.4,746.8 95.4,934.2 101.4,912.8 107.3,890 113.3,866.4 119.3,844.1 125.3,821 131.2,801.8 137.2,781.7 143.2,764.5 149.1,747.1 155.1,735 161.1,723.3 167.1,713 173,704.1 179,695.3 185,687 191,680 202.9,668.2 214.9,656.8 226.8,646.7 238.7,638.2 250.7,631.1 262.6,624.4 274.6,619.5 286.5,615.7 298.5,613.1 310.4,611.1 322.4,610.2 334.3,609.2 346.3,608.1 358.2,607.3 370.1,606 382.1,605 394,604.2"/>
<rect x="91.9" y="608.6" width="7" height="7" fill="#000000"/><rect x="91.9" y="743.3" width="7" height="7" fill="#000000"/><rect x="91.9" y="930.7" width="7" height="7" fill="#000000"/><rect x="97.9" y="909.3" width="7" height="7" fill="#000000"/><rect x="103.8" y="886.5" width="7" height="7" fill="#000000"/><rect x="109.8" y="862.9" width="7" height="7" fill="#000000"/><rect x="115.8" y="840.6" width="7" height="7" fill="#000000"/><rect x="121.8" y="817.5" width="7" height="7" fill="#000000"/><rect x="127.7" y="798.3" width="7" height="7" fill="#000000"/><rect x="133.7" y="778.2" width="7" height="7" fill="#000000"/><rect x="139.7" y="761" width="7" height="7" fill="#000000"/><rect x="145.6" y="743.6" width="7" height="7" fill="#000000"/><rect x="151.6" y="731.5" width="7" height="7" fill="#000000"/><rect x="157.6" y="719.8" width="7" height="7" fill="#000000"/><rect x="163.6" y="709.5" width="7" height="7" fill="#000000"/><rect x="169.5" y="700.6" width="7" height="7" fill="#000000"/><rect x="175.5" y="691.8" width="7" height="7" fill="#000000"/><rect x="181.5" y="683.5" width="7" height="7" fill="#000000"/><rect x="187.5" y="676.5" width="7" height="7" fill="#000000"/><rect x="199.4" y="664.7" width="7" height="7" fill="#000000"/><rect x="211.4" y="653.3" width="7" height="7" fill="#000000"/><rect x="223.3" y="643.2" width="7" height="7" fill="#000000"/><rect x="235.2" y="634.7" width="7" height="7" fill="#000000"/><rect x="247.2" y="627.6" width="7" height="7" fill="#000000"/><rect x="259.1" y="620.9" width="7" height="7" fill="#000000"/><rect x="271.1" y="616" width="7" height="7" fill="#000000"/><rect x="283" y="612.2" width="7" height="7" fill="#000000"/><rect x="295" y="609.6" width="7" height="7" fill="#000000"/><rect x="306.9" y="607.6" width="7" height="7" fill="#000000"/><rect x="318.9" y="606.7" width="7" height="7" fill="#000000"/><rect x="330.8" y="605.7" width="7" height="7" fill="#000000"/><rect x="342.8" y="604.6" width="7" height="7" fill="#000000"/><rect x="354.7" y="603.8" width="7" height="7" fill="#000000"/><rect x="366.6" y="602.5" width="7" height="7" fill="#000000"/><rect x="378.6" y="601.5" width="7" height="7" fill="#000000"/><rect x="390.5" y="600.7" width="7" height="7" fill="#000000"/>
<polyline fill="none" stroke="#0000ff" stroke-width="1.6" stroke-linejoin="round" points="95.4,606.8 119.3,606.8 143.2,605.4 167.1,604.3 191,603.8 214.9,603.5 238.7,603.1 262.6,602.5 286.5,601.7 310.4,601.1 322.4,601 334.3,600.7 346.3,600.2 358.2,599.3 370.1,599 382.1,598.6 394,598.6 406,598.3 417.9,598.1 429.9,598 441.8,597.8 453.8,597.7 465.7,597.7 477.7,597.7 489.6,597.7 501.6,597.7 513.5,597.7 525.4,597.7 537.4,597.7 549.3,597.7 561.3,597.7 573.2,597.7 585.2,597.7 597.1,597.7 609.1,597.7 621,597.7 633,597.7 644.9,597.7 656.9,597.7 668.8,597.7"/>
<polygon points="95.4,602.5 99.7,606.8 95.4,611.1 91.1,606.8" fill="#ffffff" stroke="#0000ff" stroke-width="1.3"/><polygon points="119.3,602.5 123.6,606.8 119.3,611.1 114.9,606.8" fill="#ffffff" stroke="#0000ff" stroke-width="1.3"/><polygon points="143.2,601.1 147.5,605.4 143.2,609.7 138.8,605.4" fill="#ffffff" stroke="#0000ff" stroke-width="1.3"/><polygon points="167.1,600 171.4,604.3 167.1,608.6 162.7,604.3" fill="#ffffff" stroke="#0000ff" stroke-width="1.3"/><polygon points="191,599.5 195.3,603.8 191,608.1 186.6,603.8" fill="#ffffff" stroke="#0000ff" stroke-width="1.3"/><polygon points="214.9,599.2 219.2,603.5 214.9,607.8 210.5,603.5" fill="#ffffff" stroke="#0000ff" stroke-width="1.3"/><polygon points="238.7,598.8 243.1,603.1 238.7,607.4 234.4,603.1" fill="#ffffff" stroke="#0000ff" stroke-width="1.3"/><polygon points="262.6,598.2 267,602.5 262.6,606.8 258.3,602.5" fill="#ffffff" stroke="#0000ff" stroke-width="1.3"/><polygon points="286.5,597.4 290.9,601.7 286.5,606 282.2,601.7" fill="#ffffff" stroke="#0000ff" stroke-width="1.3"/><polygon points="310.4,596.8 314.8,601.1 310.4,605.4 306.1,601.1" fill="#ffffff" stroke="#0000ff" stroke-width="1.3"/><polygon points="322.4,596.7 326.7,601 322.4,605.3 318,601" fill="#ffffff" stroke="#0000ff" stroke-width="1.3"/><polygon points="334.3,596.4 338.7,600.7 334.3,605 330,600.7" fill="#ffffff" stroke="#0000ff" stroke-width="1.3"/><polygon points="346.3,595.9 350.6,600.2 346.3,604.5 341.9,600.2" fill="#ffffff" stroke="#0000ff" stroke-width="1.3"/><polygon points="358.2,595 362.5,599.3 358.2,603.6 353.9,599.3" fill="#ffffff" stroke="#0000ff" stroke-width="1.3"/><polygon points="370.1,594.7 374.5,599 370.1,603.3 365.8,599" fill="#ffffff" stroke="#0000ff" stroke-width="1.3"/><polygon points="382.1,594.3 386.4,598.6 382.1,602.9 377.8,598.6" fill="#ffffff" stroke="#0000ff" stroke-width="1.3"/><polygon points="394,594.3 398.4,598.6 394,602.9 389.7,598.6" fill="#ffffff" stroke="#0000ff" stroke-width="1.3"/><polygon points="406,594 410.3,598.3 406,602.6 401.6,598.3" fill="#ffffff" stroke="#0000ff" stroke-width="1.3"/><polygon points="417.9,593.8 422.3,598.1 417.9,602.4 413.6,598.1" fill="#ffffff" stroke="#0000ff" stroke-width="1.3"/><polygon points="429.9,593.7 434.2,598 429.9,602.3 425.5,598" fill="#ffffff" stroke="#0000ff" stroke-width="1.3"/><polygon points="441.8,593.5 446.2,597.8 441.8,602.1 437.5,597.8" fill="#ffffff" stroke="#0000ff" stroke-width="1.3"/><polygon points="453.8,593.4 458.1,597.7 453.8,602 449.4,597.7" fill="#ffffff" stroke="#0000ff" stroke-width="1.3"/><polygon points="465.7,593.4 470.1,597.7 465.7,602 461.4,597.7" fill="#ffffff" stroke="#0000ff" stroke-width="1.3"/><polygon points="477.7,593.4 482,597.7 477.7,602 473.3,597.7" fill="#ffffff" stroke="#0000ff" stroke-width="1.3"/><polygon points="489.6,593.4 493.9,597.7 489.6,602 485.3,597.7" fill="#ffffff" stroke="#0000ff" stroke-width="1.3"/><polygon points="501.6,593.4 505.9,597.7 501.6,602 497.2,597.7" fill="#ffffff" stroke="#0000ff" stroke-width="1.3"/><polygon points="513.5,593.4 517.8,597.7 513.5,602 509.2,597.7" fill="#ffffff" stroke="#0000ff" stroke-width="1.3"/><polygon points="525.4,593.4 529.8,597.7 525.4,602 521.1,597.7" fill="#ffffff" stroke="#0000ff" stroke-width="1.3"/><polygon points="537.4,593.4 541.7,597.7 537.4,602 533.1,597.7" fill="#ffffff" stroke="#0000ff" stroke-width="1.3"/><polygon points="549.3,593.4 553.7,597.7 549.3,602 545,597.7" fill="#ffffff" stroke="#0000ff" stroke-width="1.3"/><polygon points="561.3,593.4 565.6,597.7 561.3,602 556.9,597.7" fill="#ffffff" stroke="#0000ff" stroke-width="1.3"/><polygon points="573.2,593.4 577.6,597.7 573.2,602 568.9,597.7" fill="#ffffff" stroke="#0000ff" stroke-width="1.3"/><polygon points="585.2,593.4 589.5,597.7 585.2,602 580.8,597.7" fill="#ffffff" stroke="#0000ff" stroke-width="1.3"/><polygon points="597.1,593.4 601.5,597.7 597.1,602 592.8,597.7" fill="#ffffff" stroke="#0000ff" stroke-width="1.3"/><polygon points="609.1,593.4 613.4,597.7 609.1,602 604.7,597.7" fill="#ffffff" stroke="#0000ff" stroke-width="1.3"/><polygon points="621,593.4 625.4,597.7 621,602 616.7,597.7" fill="#ffffff" stroke="#0000ff" stroke-width="1.3"/><polygon points="633,593.4 637.3,597.7 633,602 628.6,597.7" fill="#ffffff" stroke="#0000ff" stroke-width="1.3"/><polygon points="644.9,593.4 649.2,597.7 644.9,602 640.6,597.7" fill="#ffffff" stroke="#0000ff" stroke-width="1.3"/><polygon points="656.9,593.4 661.2,597.7 656.9,602 652.5,597.7" fill="#ffffff" stroke="#0000ff" stroke-width="1.3"/><polygon points="668.8,593.4 673.1,597.7 668.8,602 664.5,597.7" fill="#ffffff" stroke="#0000ff" stroke-width="1.3"/>
<polyline fill="none" stroke="#ff0000" stroke-width="1.6" stroke-linejoin="round" points="95.4,602.5 95.4,761.7 95.4,915.7 101.4,902.5 107.3,889.7 113.3,876 119.3,861.7 125.3,847.5 131.2,833.2 137.2,818.8 143.2,804.2 149.1,790.2 155.1,777.1 161.1,765.4 167.1,755 173,745.7 179,736.8 185,728.3 191,719.6 202.9,706.8 214.9,693 226.8,680.6 238.7,670 250.7,659.6 262.6,651.8 274.6,643.5 286.5,636.8 298.5,631.4 310.4,626.4 322.4,622.8 334.3,619.7 346.3,616.8 358.2,614.5 370.1,612.8 382.1,611.7 394,610.7 406,610 417.9,609.3 429.9,608.5 441.8,608.3 453.8,607.5 465.7,607 477.7,606.6 489.6,606.6 501.6,606.6 513.5,606.6 525.4,606.6 537.4,606.6 549.3,606.6 561.3,606.6 573.2,606.6 585.2,606.6 597.1,606.6 609.1,606.6 621,606.6 633,606.6 644.9,606.6 656.9,606.6 668.8,606.6"/>
<circle cx="95.4" cy="602.5" r="4.3" fill="#ff0000"/><circle cx="95.4" cy="761.7" r="4.3" fill="#ff0000"/><circle cx="95.4" cy="915.7" r="4.3" fill="#ff0000"/><circle cx="101.4" cy="902.5" r="4.3" fill="#ff0000"/><circle cx="107.3" cy="889.7" r="4.3" fill="#ff0000"/><circle cx="113.3" cy="876" r="4.3" fill="#ff0000"/><circle cx="119.3" cy="861.7" r="4.3" fill="#ff0000"/><circle cx="125.3" cy="847.5" r="4.3" fill="#ff0000"/><circle cx="131.2" cy="833.2" r="4.3" fill="#ff0000"/><circle cx="137.2" cy="818.8" r="4.3" fill="#ff0000"/><circle cx="143.2" cy="804.2" r="4.3" fill="#ff0000"/><circle cx="149.1" cy="790.2" r="4.3" fill="#ff0000"/><circle cx="155.1" cy="777.1" r="4.3" fill="#ff0000"/><circle cx="161.1" cy="765.4" r="4.3" fill="#ff0000"/><circle cx="167.1" cy="755" r="4.3" fill="#ff0000"/><circle cx="173" cy="745.7" r="4.3" fill="#ff0000"/><circle cx="179" cy="736.8" r="4.3" fill="#ff0000"/><circle cx="185" cy="728.3" r="4.3" fill="#ff0000"/><circle cx="191" cy="719.6" r="4.3" fill="#ff0000"/><circle cx="202.9" cy="706.8" r="4.3" fill="#ff0000"/><circle cx="214.9" cy="693" r="4.3" fill="#ff0000"/><circle cx="226.8" cy="680.6" r="4.3" fill="#ff0000"/><circle cx="238.7" cy="670" r="4.3" fill="#ff0000"/><circle cx="250.7" cy="659.6" r="4.3" fill="#ff0000"/><circle cx="262.6" cy="651.8" r="4.3" fill="#ff0000"/><circle cx="274.6" cy="643.5" r="4.3" fill="#ff0000"/><circle cx="286.5" cy="636.8" r="4.3" fill="#ff0000"/><circle cx="298.5" cy="631.4" r="4.3" fill="#ff0000"/><circle cx="310.4" cy="626.4" r="4.3" fill="#ff0000"/><circle cx="322.4" cy="622.8" r="4.3" fill="#ff0000"/><circle cx="334.3" cy="619.7" r="4.3" fill="#ff0000"/><circle cx="346.3" cy="616.8" r="4.3" fill="#ff0000"/><circle cx="358.2" cy="614.5" r="4.3" fill="#ff0000"/><circle cx="370.1" cy="612.8" r="4.3" fill="#ff0000"/><circle cx="382.1" cy="611.7" r="4.3" fill="#ff0000"/><circle cx="394" cy="610.7" r="4.3" fill="#ff0000"/><circle cx="406" cy="610" r="4.3" fill="#ff0000"/><circle cx="417.9" cy="609.3" r="4.3" fill="#ff0000"/><circle cx="429.9" cy="608.5" r="4.3" fill="#ff0000"/><circle cx="441.8" cy="608.3" r="4.3" fill="#ff0000"/><circle cx="453.8" cy="607.5" r="4.3" fill="#ff0000"/><circle cx="465.7" cy="607" r="4.3" fill="#ff0000"/><circle cx="477.7" cy="606.6" r="4.3" fill="#ff0000"/><circle cx="489.6" cy="606.6" r="4.3" fill="#ff0000"/><circle cx="501.6" cy="606.6" r="4.3" fill="#ff0000"/><circle cx="513.5" cy="606.6" r="4.3" fill="#ff0000"/><circle cx="525.4" cy="606.6" r="4.3" fill="#ff0000"/><circle cx="537.4" cy="606.6" r="4.3" fill="#ff0000"/><circle cx="549.3" cy="606.6" r="4.3" fill="#ff0000"/><circle cx="561.3" cy="606.6" r="4.3" fill="#ff0000"/><circle cx="573.2" cy="606.6" r="4.3" fill="#ff0000"/><circle cx="585.2" cy="606.6" r="4.3" fill="#ff0000"/><circle cx="597.1" cy="606.6" r="4.3" fill="#ff0000"/><circle cx="609.1" cy="606.6" r="4.3" fill="#ff0000"/><circle cx="621" cy="606.6" r="4.3" fill="#ff0000"/><circle cx="633" cy="606.6" r="4.3" fill="#ff0000"/><circle cx="644.9" cy="606.6" r="4.3" fill="#ff0000"/><circle cx="656.9" cy="606.6" r="4.3" fill="#ff0000"/><circle cx="668.8" cy="606.6" r="4.3" fill="#ff0000"/>
<polyline fill="none" stroke="#0000ff" stroke-width="1.6" stroke-linejoin="round" points="95.4,601.1 95.4,822.8 95.4,968.2 101.4,952.8 107.3,935.9 113.3,918.9 119.3,903.5 125.3,886.4 131.2,868.6 137.2,850 143.2,832.8 149.1,814.2 155.1,797.1 161.1,782.5 167.1,770.2 173,759.2 179,748.2 185,738.5 191,729.3 202.9,713 214.9,697.5 226.8,683.5 238.7,670.6 250.7,660.1 262.6,651.1 274.6,642.1 286.5,635.2 298.5,630 310.4,625 322.4,621.4 334.3,618.3 346.3,615.4 358.2,612.5 370.1,610 382.1,607.4 394,605.7 406,604.3 417.9,603.5 429.9,602.5 441.8,601.7 453.8,599.5 465.7,598.3 477.7,597.7 489.6,597.7 501.6,597.7 513.5,597.7 525.4,597.7 537.4,597.7 549.3,597.7 561.3,597.7 573.2,597.7 585.2,597.7 597.1,597.7 609.1,597.7 621,597.7 633,597.7 644.9,597.7 656.9,597.7 668.8,597.7"/>
<polygon points="95.4,595.9 100.6,601.1 95.4,606.4 90.1,601.1" fill="#0000ff"/><polygon points="95.4,817.5 100.6,822.8 95.4,828 90.1,822.8" fill="#0000ff"/><polygon points="95.4,963 100.6,968.2 95.4,973.5 90.1,968.2" fill="#0000ff"/><polygon points="101.4,947.5 106.6,952.8 101.4,958 96.1,952.8" fill="#0000ff"/><polygon points="107.3,930.6 112.6,935.9 107.3,941.1 102.1,935.9" fill="#0000ff"/><polygon points="113.3,913.6 118.6,918.9 113.3,924.1 108.1,918.9" fill="#0000ff"/><polygon points="119.3,898.2 124.5,903.5 119.3,908.8 114,903.5" fill="#0000ff"/><polygon points="125.3,881.1 130.5,886.4 125.3,891.6 120,886.4" fill="#0000ff"/><polygon points="131.2,863.4 136.5,868.6 131.2,873.9 126,868.6" fill="#0000ff"/><polygon points="137.2,844.8 142.5,850 137.2,855.2 132,850" fill="#0000ff"/><polygon points="143.2,827.5 148.4,832.8 143.2,838 137.9,832.8" fill="#0000ff"/><polygon points="149.1,809 154.4,814.2 149.1,819.5 143.9,814.2" fill="#0000ff"/><polygon points="155.1,791.9 160.4,797.1 155.1,802.4 149.9,797.1" fill="#0000ff"/><polygon points="161.1,777.2 166.3,782.5 161.1,787.8 155.8,782.5" fill="#0000ff"/><polygon points="167.1,765 172.3,770.2 167.1,775.5 161.8,770.2" fill="#0000ff"/><polygon points="173,754 178.3,759.2 173,764.5 167.8,759.2" fill="#0000ff"/><polygon points="179,743 184.3,748.2 179,753.5 173.8,748.2" fill="#0000ff"/><polygon points="185,733.2 190.2,738.5 185,743.8 179.7,738.5" fill="#0000ff"/><polygon points="191,724 196.2,729.3 191,734.5 185.7,729.3" fill="#0000ff"/><polygon points="202.9,707.8 208.2,713 202.9,718.2 197.7,713" fill="#0000ff"/><polygon points="214.9,692.2 220.1,697.5 214.9,702.8 209.6,697.5" fill="#0000ff"/><polygon points="226.8,678.2 232,683.5 226.8,688.8 221.5,683.5" fill="#0000ff"/><polygon points="238.7,665.4 244,670.6 238.7,675.9 233.5,670.6" fill="#0000ff"/><polygon points="250.7,654.9 255.9,660.1 250.7,665.4 245.4,660.1" fill="#0000ff"/><polygon points="262.6,645.9 267.9,651.1 262.6,656.4 257.4,651.1" fill="#0000ff"/><polygon points="274.6,636.9 279.8,642.1 274.6,647.4 269.3,642.1" fill="#0000ff"/><polygon points="286.5,630 291.8,635.2 286.5,640.5 281.3,635.2" fill="#0000ff"/><polygon points="298.5,624.8 303.7,630 298.5,635.2 293.2,630" fill="#0000ff"/><polygon points="310.4,619.8 315.7,625 310.4,630.2 305.2,625" fill="#0000ff"/><polygon points="322.4,616.1 327.6,621.4 322.4,626.6 317.1,621.4" fill="#0000ff"/><polygon points="334.3,613 339.6,618.3 334.3,623.5 329.1,618.3" fill="#0000ff"/><polygon points="346.3,610.1 351.5,615.4 346.3,620.6 341,615.4" fill="#0000ff"/><polygon points="358.2,607.2 363.5,612.5 358.2,617.8 353,612.5" fill="#0000ff"/><polygon points="370.1,604.8 375.4,610 370.1,615.2 364.9,610" fill="#0000ff"/><polygon points="382.1,602.1 387.3,607.4 382.1,612.6 376.8,607.4" fill="#0000ff"/><polygon points="394,600.5 399.3,605.7 394,611 388.8,605.7" fill="#0000ff"/><polygon points="406,599 411.2,604.3 406,609.5 400.7,604.3" fill="#0000ff"/><polygon points="417.9,598.2 423.2,603.5 417.9,608.8 412.7,603.5" fill="#0000ff"/><polygon points="429.9,597.2 435.1,602.5 429.9,607.8 424.6,602.5" fill="#0000ff"/><polygon points="441.8,596.5 447.1,601.7 441.8,607 436.6,601.7" fill="#0000ff"/><polygon points="453.8,594.2 459,599.5 453.8,604.8 448.5,599.5" fill="#0000ff"/><polygon points="465.7,593 471,598.3 465.7,603.5 460.5,598.3" fill="#0000ff"/><polygon points="477.7,592.5 482.9,597.7 477.7,603 472.4,597.7" fill="#0000ff"/><polygon points="489.6,592.5 494.9,597.7 489.6,603 484.4,597.7" fill="#0000ff"/><polygon points="501.6,592.5 506.8,597.7 501.6,603 496.3,597.7" fill="#0000ff"/><polygon points="513.5,592.5 518.8,597.7 513.5,603 508.3,597.7" fill="#0000ff"/><polygon points="525.4,592.5 530.7,597.7 525.4,603 520.2,597.7" fill="#0000ff"/><polygon points="537.4,592.5 542.6,597.7 537.4,603 532.1,597.7" fill="#0000ff"/><polygon points="549.3,592.5 554.6,597.7 549.3,603 544.1,597.7" fill="#0000ff"/><polygon points="561.3,592.5 566.5,597.7 561.3,603 556,597.7" fill="#0000ff"/><polygon points="573.2,592.5 578.5,597.7 573.2,603 568,597.7" fill="#0000ff"/><polygon points="585.2,592.5 590.4,597.7 585.2,603 579.9,597.7" fill="#0000ff"/><polygon points="597.1,592.5 602.4,597.7 597.1,603 591.9,597.7" fill="#0000ff"/><polygon points="609.1,592.5 614.3,597.7 609.1,603 603.8,597.7" fill="#0000ff"/><polygon points="621,592.5 626.3,597.7 621,603 615.8,597.7" fill="#0000ff"/><polygon points="633,592.5 638.2,597.7 633,603 627.7,597.7" fill="#0000ff"/><polygon points="644.9,592.5 650.2,597.7 644.9,603 639.7,597.7" fill="#0000ff"/><polygon points="656.9,592.5 662.1,597.7 656.9,603 651.6,597.7" fill="#0000ff"/><polygon points="668.8,592.5 674,597.7 668.8,603 663.5,597.7" fill="#0000ff"/>
</g>
<rect x="71.5" y="567.2" width="597.3" height="422.3" fill="none" stroke="#000" stroke-width="2.7"/>
<path d="M71.5 989.5V980.9M71.5 567.2V575.8M191 989.5V980.9M191 567.2V575.8M310.4 989.5V980.9M310.4 567.2V575.8M429.9 989.5V980.9M429.9 567.2V575.8M549.3 989.5V980.9M549.3 567.2V575.8M668.8 989.5V980.9M668.8 567.2V575.8M131.2 989.5V984.2M131.2 567.2V572.5M250.7 989.5V984.2M250.7 567.2V572.5M370.1 989.5V984.2M370.1 567.2V572.5M489.6 989.5V984.2M489.6 567.2V572.5M609.1 989.5V984.2M609.1 567.2V572.5M71.5 601.3H80.1M668.8 601.3H660.2M71.5 737.5H80.1M668.8 737.5H660.2M71.5 873.7H80.1M668.8 873.7H660.2M71.5 669.4H76.8M668.8 669.4H663.5M71.5 805.6H76.8M668.8 805.6H663.5M71.5 941.8H76.8M668.8 941.8H663.5" stroke="#000" stroke-width="2.4" fill="none" stroke-linecap="butt"/>
<text transform="translate(70.5 1015.3) scale(0.875 1)" font-size="23.3" text-anchor="middle">0</text>
<text transform="translate(190 1015.3) scale(0.875 1)" font-size="23.3" text-anchor="middle">10</text>
<text transform="translate(309.4 1015.3) scale(0.875 1)" font-size="23.3" text-anchor="middle">20</text>
<text transform="translate(428.9 1015.3) scale(0.875 1)" font-size="23.3" text-anchor="middle">30</text>
<text transform="translate(548.3 1015.3) scale(0.875 1)" font-size="23.3" text-anchor="middle">40</text>
<text transform="translate(667.8 1015.3) scale(0.875 1)" font-size="23.3" text-anchor="middle">50</text>
<text transform="translate(61.5 607) scale(0.875 1)" font-size="23.3" text-anchor="end">0</text>
<text transform="translate(61.5 743.2) scale(0.875 1)" font-size="23.3" text-anchor="end">-1</text>
<text transform="translate(61.5 879.4) scale(0.875 1)" font-size="23.3" text-anchor="end">-2</text>
<text transform="translate(467.4 845.8) scale(0.960 1)" font-size="24.7" text-anchor="start" class="lt">LaCa122-A</text>
<text transform="translate(446.2 875.8) scale(0.960 1)" font-size="24.7" text-anchor="start" class="lt">ZFC</text>
<text transform="translate(513.2 875.8) scale(0.960 1)" font-size="24.7" text-anchor="start" class="lt">FC</text>
<text transform="translate(571 875.8) scale(0.960 1)" font-size="24.7" text-anchor="start" class="lt">2 Oe</text>
<line x1="439.4" y1="898.2" x2="495.1" y2="898.2" stroke="#000000" stroke-width="2.1"/>
<rect x="460.5" y="891.4" width="13.7" height="13.7" fill="#000000"/>
<line x1="500.6" y1="898.2" x2="556.2" y2="898.2" stroke="#000000" stroke-width="2.1"/>
<rect x="522.5" y="892.2" width="12.1" height="12.1" fill="#ffffff" stroke="#000000" stroke-width="1.6"/>
<text transform="translate(562.3 905.8) scale(0.960 1)" font-size="24.7" text-anchor="start" class="lt">pristine</text>
<line x1="439.4" y1="928.4" x2="495.1" y2="928.4" stroke="#ff0000" stroke-width="2.1"/>
<circle cx="467.3" cy="928.4" r="8.5" fill="#ff0000"/>
<line x1="500.6" y1="928.4" x2="556.2" y2="928.4" stroke="#ff0000" stroke-width="2.1"/>
<circle cx="528.5" cy="928.4" r="7.7" fill="#ffffff" stroke="#ff0000" stroke-width="1.6"/>
<text transform="translate(562.3 936) scale(0.960 1)" font-size="24.7" text-anchor="start" class="lt">110 mA</text>
<line x1="439.4" y1="958.3" x2="495.1" y2="958.3" stroke="#0000ff" stroke-width="2.1"/>
<polygon points="467.3,948.1 477.5,958.3 467.3,968.5 457.1,958.3" fill="#0000ff"/>
<line x1="500.6" y1="958.3" x2="556.2" y2="958.3" stroke="#0000ff" stroke-width="2.1"/>
<polygon points="528.5,949.2 537.6,958.3 528.5,967.4 519.4,958.3" fill="#ffffff" stroke="#0000ff" stroke-width="1.6"/>
<text transform="translate(562.3 965.9) scale(0.960 1)" font-size="24.7" text-anchor="start" class="lt">20 days</text>
<text transform="translate(2.0 573.8) scale(0.966 1)" font-size="50.0" text-anchor="start">c</text>
<text transform="translate(373.5 1047.4) scale(0.905 1)" font-size="30.0" text-anchor="middle" word-spacing="1">T (K)</text>
<text transform="translate(32.4 761.7) rotate(-90) scale(0.918 1)" font-size="30.0" text-anchor="middle">M (<tspan class="n" style="stroke-width:0.6px">×</tspan>10<tspan font-size="17.0" class="n" dy="-16.5">-5</tspan><tspan dy="16.5"> emu)</tspan></text>
</g>
<g id="panel-d">
<clipPath id="clip-d"><rect x="790" y="567.2" width="598.5" height="422.3"/></clipPath>
<g clip-path="url(#clip-d)">
<polyline fill="none" stroke="#000000" stroke-width="1.6" stroke-linejoin="round" points="1112.5,597.1 1124.5,595.7 1136.4,594.6 1148.4,593.8 1160.3,593.3 1172.3,593 1184.2,593 1196.2,593 1208.1,593 1220.1,593 1232,593 1243.9,593 1255.9,593 1267.8,593 1279.8,593 1291.7,593 1303.7,593 1315.6,593 1327.6,593 1339.5,593 1351.5,593 1363.4,593 1375.4,593 1387.3,593"/>
<rect x="1109" y="593.6" width="7" height="7" fill="#000000"/><rect x="1121" y="592.2" width="7" height="7" fill="#000000"/><rect x="1132.9" y="591.1" width="7" height="7" fill="#000000"/><rect x="1144.9" y="590.3" width="7" height="7" fill="#000000"/><rect x="1156.8" y="589.8" width="7" height="7" fill="#000000"/><rect x="1168.8" y="589.5" width="7" height="7" fill="#000000"/><rect x="1180.7" y="589.5" width="7" height="7" fill="#000000"/><rect x="1192.7" y="589.5" width="7" height="7" fill="#000000"/><rect x="1204.6" y="589.5" width="7" height="7" fill="#000000"/><rect x="1216.6" y="589.5" width="7" height="7" fill="#000000"/><rect x="1228.5" y="589.5" width="7" height="7" fill="#000000"/><rect x="1240.4" y="589.5" width="7" height="7" fill="#000000"/><rect x="1252.4" y="589.5" width="7" height="7" fill="#000000"/><rect x="1264.3" y="589.5" width="7" height="7" fill="#000000"/><rect x="1276.3" y="589.5" width="7" height="7" fill="#000000"/><rect x="1288.2" y="589.5" width="7" height="7" fill="#000000"/><rect x="1300.2" y="589.5" width="7" height="7" fill="#000000"/><rect x="1312.1" y="589.5" width="7" height="7" fill="#000000"/><rect x="1324.1" y="589.5" width="7" height="7" fill="#000000"/><rect x="1336" y="589.5" width="7" height="7" fill="#000000"/><rect x="1348" y="589.5" width="7" height="7" fill="#000000"/><rect x="1359.9" y="589.5" width="7" height="7" fill="#000000"/><rect x="1371.9" y="589.5" width="7" height="7" fill="#000000"/><rect x="1383.8" y="589.5" width="7" height="7" fill="#000000"/>
<polyline fill="none" stroke="#000000" stroke-width="1.6" stroke-linejoin="round" points="813.9,604.5 825.8,604 837.8,603.7 849.7,603.4 861.7,603.1 873.6,602.9 885.6,602.6 897.5,602.3 909.5,602 921.4,601.6 933.4,601.2 945.3,600.9 957.2,600.5 969.2,600.1 981.1,599.7 993.1,599.4 1005,599.1 1017,598.8 1028.9,598.5 1040.9,598.1 1052.8,597.8 1064.8,597.4 1076.7,597 1088.7,596.5 1100.6,596 1112.5,595.5 1124.5,595 1136.4,594.5 1148.4,594 1160.3,593.6 1172.3,593.2 1184.2,593.2 1196.2,593.2 1208.1,593.2 1220.1,593.2 1232,593.1 1243.9,593.1 1255.9,593.1 1267.8,593.1 1279.8,593.1 1291.7,593.1 1303.7,593.1 1315.6,593.1 1327.6,593.1 1339.5,593 1351.5,593 1363.4,593 1375.4,593 1387.3,593"/>
<rect x="811" y="601.6" width="5.7" height="5.7" fill="#ffffff" stroke="#000000" stroke-width="1.3"/><rect x="823" y="601.1" width="5.7" height="5.7" fill="#ffffff" stroke="#000000" stroke-width="1.3"/><rect x="834.9" y="600.9" width="5.7" height="5.7" fill="#ffffff" stroke="#000000" stroke-width="1.3"/><rect x="846.9" y="600.6" width="5.7" height="5.7" fill="#ffffff" stroke="#000000" stroke-width="1.3"/><rect x="858.8" y="600.3" width="5.7" height="5.7" fill="#ffffff" stroke="#000000" stroke-width="1.3"/><rect x="870.8" y="600" width="5.7" height="5.7" fill="#ffffff" stroke="#000000" stroke-width="1.3"/><rect x="882.7" y="599.7" width="5.7" height="5.7" fill="#ffffff" stroke="#000000" stroke-width="1.3"/><rect x="894.7" y="599.4" width="5.7" height="5.7" fill="#ffffff" stroke="#000000" stroke-width="1.3"/><rect x="906.6" y="599.1" width="5.7" height="5.7" fill="#ffffff" stroke="#000000" stroke-width="1.3"/><rect x="918.6" y="598.8" width="5.7" height="5.7" fill="#ffffff" stroke="#000000" stroke-width="1.3"/><rect x="930.5" y="598.4" width="5.7" height="5.7" fill="#ffffff" stroke="#000000" stroke-width="1.3"/><rect x="942.4" y="598" width="5.7" height="5.7" fill="#ffffff" stroke="#000000" stroke-width="1.3"/><rect x="954.4" y="597.6" width="5.7" height="5.7" fill="#ffffff" stroke="#000000" stroke-width="1.3"/><rect x="966.3" y="597.2" width="5.7" height="5.7" fill="#ffffff" stroke="#000000" stroke-width="1.3"/><rect x="978.3" y="596.9" width="5.7" height="5.7" fill="#ffffff" stroke="#000000" stroke-width="1.3"/><rect x="990.2" y="596.6" width="5.7" height="5.7" fill="#ffffff" stroke="#000000" stroke-width="1.3"/><rect x="1002.2" y="596.2" width="5.7" height="5.7" fill="#ffffff" stroke="#000000" stroke-width="1.3"/><rect x="1014.1" y="595.9" width="5.7" height="5.7" fill="#ffffff" stroke="#000000" stroke-width="1.3"/><rect x="1026.1" y="595.6" width="5.7" height="5.7" fill="#ffffff" stroke="#000000" stroke-width="1.3"/><rect x="1038" y="595.3" width="5.7" height="5.7" fill="#ffffff" stroke="#000000" stroke-width="1.3"/><rect x="1050" y="594.9" width="5.7" height="5.7" fill="#ffffff" stroke="#000000" stroke-width="1.3"/><rect x="1061.9" y="594.5" width="5.7" height="5.7" fill="#ffffff" stroke="#000000" stroke-width="1.3"/><rect x="1073.9" y="594.1" width="5.7" height="5.7" fill="#ffffff" stroke="#000000" stroke-width="1.3"/><rect x="1085.8" y="593.6" width="5.7" height="5.7" fill="#ffffff" stroke="#000000" stroke-width="1.3"/><rect x="1097.7" y="593.1" width="5.7" height="5.7" fill="#ffffff" stroke="#000000" stroke-width="1.3"/><rect x="1109.7" y="592.6" width="5.7" height="5.7" fill="#ffffff" stroke="#000000" stroke-width="1.3"/><rect x="1121.6" y="592.1" width="5.7" height="5.7" fill="#ffffff" stroke="#000000" stroke-width="1.3"/><rect x="1133.6" y="591.6" width="5.7" height="5.7" fill="#ffffff" stroke="#000000" stroke-width="1.3"/><rect x="1145.5" y="591.1" width="5.7" height="5.7" fill="#ffffff" stroke="#000000" stroke-width="1.3"/><rect x="1157.5" y="590.8" width="5.7" height="5.7" fill="#ffffff" stroke="#000000" stroke-width="1.3"/><rect x="1169.4" y="590.4" width="5.7" height="5.7" fill="#ffffff" stroke="#000000" stroke-width="1.3"/><rect x="1181.4" y="590.3" width="5.7" height="5.7" fill="#ffffff" stroke="#000000" stroke-width="1.3"/><rect x="1193.3" y="590.3" width="5.7" height="5.7" fill="#ffffff" stroke="#000000" stroke-width="1.3"/><rect x="1205.3" y="590.3" width="5.7" height="5.7" fill="#ffffff" stroke="#000000" stroke-width="1.3"/><rect x="1217.2" y="590.3" width="5.7" height="5.7" fill="#ffffff" stroke="#000000" stroke-width="1.3"/><rect x="1229.2" y="590.3" width="5.7" height="5.7" fill="#ffffff" stroke="#000000" stroke-width="1.3"/><rect x="1241.1" y="590.3" width="5.7" height="5.7" fill="#ffffff" stroke="#000000" stroke-width="1.3"/><rect x="1253" y="590.3" width="5.7" height="5.7" fill="#ffffff" stroke="#000000" stroke-width="1.3"/><rect x="1265" y="590.3" width="5.7" height="5.7" fill="#ffffff" stroke="#000000" stroke-width="1.3"/><rect x="1276.9" y="590.2" width="5.7" height="5.7" fill="#ffffff" stroke="#000000" stroke-width="1.3"/><rect x="1288.9" y="590.2" width="5.7" height="5.7" fill="#ffffff" stroke="#000000" stroke-width="1.3"/><rect x="1300.8" y="590.2" width="5.7" height="5.7" fill="#ffffff" stroke="#000000" stroke-width="1.3"/><rect x="1312.8" y="590.2" width="5.7" height="5.7" fill="#ffffff" stroke="#000000" stroke-width="1.3"/><rect x="1324.7" y="590.2" width="5.7" height="5.7" fill="#ffffff" stroke="#000000" stroke-width="1.3"/><rect x="1336.7" y="590.2" width="5.7" height="5.7" fill="#ffffff" stroke="#000000" stroke-width="1.3"/><rect x="1348.6" y="590.2" width="5.7" height="5.7" fill="#ffffff" stroke="#000000" stroke-width="1.3"/><rect x="1360.6" y="590.2" width="5.7" height="5.7" fill="#ffffff" stroke="#000000" stroke-width="1.3"/><rect x="1372.5" y="590.2" width="5.7" height="5.7" fill="#ffffff" stroke="#000000" stroke-width="1.3"/><rect x="1384.5" y="590.1" width="5.7" height="5.7" fill="#ffffff" stroke="#000000" stroke-width="1.3"/>
<polyline fill="none" stroke="#ff0000" stroke-width="1.6" stroke-linejoin="round" points="813.9,599.8 825.8,599.4 837.8,599.3 849.7,599.1 861.7,599 873.6,598.8 885.6,598.7 897.5,598.6 909.5,598.4 921.4,598.3 933.4,598.2 945.3,598 957.2,597.9 969.2,597.7 981.1,597.6 993.1,597.5 1005,597.3 1017,597.2 1028.9,597 1040.9,596.9 1052.8,596.8 1064.8,596.6 1076.7,596.5 1088.7,596.2 1100.6,595.9 1112.5,595.6 1124.5,595.3 1136.4,595 1148.4,594.7 1160.3,594.5 1172.3,594.4 1184.2,594.4 1196.2,594.4 1208.1,594.4 1220.1,594.4 1232,594.4 1243.9,594.4 1255.9,594.4 1267.8,594.4 1279.8,594.3 1291.7,594.3 1303.7,594.3 1315.6,594.3 1327.6,594.3 1339.5,594.3 1351.5,594.3 1363.4,594.3 1375.4,594.3 1387.3,594.3"/>
<circle cx="813.9" cy="599.8" r="3.7" fill="#ffffff" stroke="#ff0000" stroke-width="1.3"/><circle cx="825.8" cy="599.4" r="3.7" fill="#ffffff" stroke="#ff0000" stroke-width="1.3"/><circle cx="837.8" cy="599.3" r="3.7" fill="#ffffff" stroke="#ff0000" stroke-width="1.3"/><circle cx="849.7" cy="599.1" r="3.7" fill="#ffffff" stroke="#ff0000" stroke-width="1.3"/><circle cx="861.7" cy="599" r="3.7" fill="#ffffff" stroke="#ff0000" stroke-width="1.3"/><circle cx="873.6" cy="598.8" r="3.7" fill="#ffffff" stroke="#ff0000" stroke-width="1.3"/><circle cx="885.6" cy="598.7" r="3.7" fill="#ffffff" stroke="#ff0000" stroke-width="1.3"/><circle cx="897.5" cy="598.6" r="3.7" fill="#ffffff" stroke="#ff0000" stroke-width="1.3"/><circle cx="909.5" cy="598.4" r="3.7" fill="#ffffff" stroke="#ff0000" stroke-width="1.3"/><circle cx="921.4" cy="598.3" r="3.7" fill="#ffffff" stroke="#ff0000" stroke-width="1.3"/><circle cx="933.4" cy="598.2" r="3.7" fill="#ffffff" stroke="#ff0000" stroke-width="1.3"/><circle cx="945.3" cy="598" r="3.7" fill="#ffffff" stroke="#ff0000" stroke-width="1.3"/><circle cx="957.2" cy="597.9" r="3.7" fill="#ffffff" stroke="#ff0000" stroke-width="1.3"/><circle cx="969.2" cy="597.7" r="3.7" fill="#ffffff" stroke="#ff0000" stroke-width="1.3"/><circle cx="981.1" cy="597.6" r="3.7" fill="#ffffff" stroke="#ff0000" stroke-width="1.3"/><circle cx="993.1" cy="597.5" r="3.7" fill="#ffffff" stroke="#ff0000" stroke-width="1.3"/><circle cx="1005" cy="597.3" r="3.7" fill="#ffffff" stroke="#ff0000" stroke-width="1.3"/><circle cx="1017" cy="597.2" r="3.7" fill="#ffffff" stroke="#ff0000" stroke-width="1.3"/><circle cx="1028.9" cy="597" r="3.7" fill="#ffffff" stroke="#ff0000" stroke-width="1.3"/><circle cx="1040.9" cy="596.9" r="3.7" fill="#ffffff" stroke="#ff0000" stroke-width="1.3"/><circle cx="1052.8" cy="596.8" r="3.7" fill="#ffffff" stroke="#ff0000" stroke-width="1.3"/><circle cx="1064.8" cy="596.6" r="3.7" fill="#ffffff" stroke="#ff0000" stroke-width="1.3"/><circle cx="1076.7" cy="596.5" r="3.7" fill="#ffffff" stroke="#ff0000" stroke-width="1.3"/><circle cx="1088.7" cy="596.2" r="3.7" fill="#ffffff" stroke="#ff0000" stroke-width="1.3"/><circle cx="1100.6" cy="595.9" r="3.7" fill="#ffffff" stroke="#ff0000" stroke-width="1.3"/><circle cx="1112.5" cy="595.6" r="3.7" fill="#ffffff" stroke="#ff0000" stroke-width="1.3"/><circle cx="1124.5" cy="595.3" r="3.7" fill="#ffffff" stroke="#ff0000" stroke-width="1.3"/><circle cx="1136.4" cy="595" r="3.7" fill="#ffffff" stroke="#ff0000" stroke-width="1.3"/><circle cx="1148.4" cy="594.7" r="3.7" fill="#ffffff" stroke="#ff0000" stroke-width="1.3"/><circle cx="1160.3" cy="594.5" r="3.7" fill="#ffffff" stroke="#ff0000" stroke-width="1.3"/><circle cx="1172.3" cy="594.4" r="3.7" fill="#ffffff" stroke="#ff0000" stroke-width="1.3"/><circle cx="1184.2" cy="594.4" r="3.7" fill="#ffffff" stroke="#ff0000" stroke-width="1.3"/><circle cx="1196.2" cy="594.4" r="3.7" fill="#ffffff" stroke="#ff0000" stroke-width="1.3"/><circle cx="1208.1" cy="594.4" r="3.7" fill="#ffffff" stroke="#ff0000" stroke-width="1.3"/><circle cx="1220.1" cy="594.4" r="3.7" fill="#ffffff" stroke="#ff0000" stroke-width="1.3"/><circle cx="1232" cy="594.4" r="3.7" fill="#ffffff" stroke="#ff0000" stroke-width="1.3"/><circle cx="1243.9" cy="594.4" r="3.7" fill="#ffffff" stroke="#ff0000" stroke-width="1.3"/><circle cx="1255.9" cy="594.4" r="3.7" fill="#ffffff" stroke="#ff0000" stroke-width="1.3"/><circle cx="1267.8" cy="594.4" r="3.7" fill="#ffffff" stroke="#ff0000" stroke-width="1.3"/><circle cx="1279.8" cy="594.3" r="3.7" fill="#ffffff" stroke="#ff0000" stroke-width="1.3"/><circle cx="1291.7" cy="594.3" r="3.7" fill="#ffffff" stroke="#ff0000" stroke-width="1.3"/><circle cx="1303.7" cy="594.3" r="3.7" fill="#ffffff" stroke="#ff0000" stroke-width="1.3"/><circle cx="1315.6" cy="594.3" r="3.7" fill="#ffffff" stroke="#ff0000" stroke-width="1.3"/><circle cx="1327.6" cy="594.3" r="3.7" fill="#ffffff" stroke="#ff0000" stroke-width="1.3"/><circle cx="1339.5" cy="594.3" r="3.7" fill="#ffffff" stroke="#ff0000" stroke-width="1.3"/><circle cx="1351.5" cy="594.3" r="3.7" fill="#ffffff" stroke="#ff0000" stroke-width="1.3"/><circle cx="1363.4" cy="594.3" r="3.7" fill="#ffffff" stroke="#ff0000" stroke-width="1.3"/><circle cx="1375.4" cy="594.3" r="3.7" fill="#ffffff" stroke="#ff0000" stroke-width="1.3"/><circle cx="1387.3" cy="594.3" r="3.7" fill="#ffffff" stroke="#ff0000" stroke-width="1.3"/>
<polyline fill="none" stroke="#000000" stroke-width="1.6" stroke-linejoin="round" points="813.9,606.4 813.9,791.1 813.9,930.6 813.9,959.9 819.9,946.4 825.8,930.6 831.8,911 837.8,888.5 843.8,862.6 849.7,841 855.7,818.8 861.7,799.2 867.6,782.1 873.6,767.4 879.6,753.5 885.6,740.5 891.5,727.8 897.5,717.1 903.5,707.5 909.5,698.9 921.4,682.8 933.4,665.6 945.3,654.5 957.2,644 969.2,635.8 981.1,628.2 993.1,622.1 1005,617.4 1017,613.5 1028.9,610.3 1040.9,607.4 1052.8,605 1064.8,602.8 1076.7,601.4 1088.7,600 1100.6,598.6 1112.5,597.1"/>
<rect x="810.4" y="602.9" width="7" height="7" fill="#000000"/><rect x="810.4" y="787.6" width="7" height="7" fill="#000000"/><rect x="810.4" y="927.1" width="7" height="7" fill="#000000"/><rect x="810.4" y="956.4" width="7" height="7" fill="#000000"/><rect x="816.4" y="942.9" width="7" height="7" fill="#000000"/><rect x="822.3" y="927.1" width="7" height="7" fill="#000000"/><rect x="828.3" y="907.5" width="7" height="7" fill="#000000"/><rect x="834.3" y="885" width="7" height="7" fill="#000000"/><rect x="840.3" y="859.1" width="7" height="7" fill="#000000"/><rect x="846.2" y="837.5" width="7" height="7" fill="#000000"/><rect x="852.2" y="815.3" width="7" height="7" fill="#000000"/><rect x="858.2" y="795.7" width="7" height="7" fill="#000000"/><rect x="864.1" y="778.6" width="7" height="7" fill="#000000"/><rect x="870.1" y="763.9" width="7" height="7" fill="#000000"/><rect x="876.1" y="750" width="7" height="7" fill="#000000"/><rect x="882.1" y="737" width="7" height="7" fill="#000000"/><rect x="888" y="724.3" width="7" height="7" fill="#000000"/><rect x="894" y="713.6" width="7" height="7" fill="#000000"/><rect x="900" y="704" width="7" height="7" fill="#000000"/><rect x="906" y="695.4" width="7" height="7" fill="#000000"/><rect x="917.9" y="679.3" width="7" height="7" fill="#000000"/><rect x="929.9" y="662.1" width="7" height="7" fill="#000000"/><rect x="941.8" y="651" width="7" height="7" fill="#000000"/><rect x="953.7" y="640.5" width="7" height="7" fill="#000000"/><rect x="965.7" y="632.3" width="7" height="7" fill="#000000"/><rect x="977.6" y="624.7" width="7" height="7" fill="#000000"/><rect x="989.6" y="618.6" width="7" height="7" fill="#000000"/><rect x="1001.5" y="613.9" width="7" height="7" fill="#000000"/><rect x="1013.5" y="610" width="7" height="7" fill="#000000"/><rect x="1025.4" y="606.8" width="7" height="7" fill="#000000"/><rect x="1037.4" y="603.9" width="7" height="7" fill="#000000"/><rect x="1049.3" y="601.5" width="7" height="7" fill="#000000"/><rect x="1061.3" y="599.3" width="7" height="7" fill="#000000"/><rect x="1073.2" y="597.9" width="7" height="7" fill="#000000"/><rect x="1085.2" y="596.5" width="7" height="7" fill="#000000"/><rect x="1097.1" y="595.1" width="7" height="7" fill="#000000"/><rect x="1109" y="593.6" width="7" height="7" fill="#000000"/>
<polyline fill="none" stroke="#0000ff" stroke-width="1.6" stroke-linejoin="round" points="813.9,599 825.8,598.6 837.8,598.5 849.7,598.3 861.7,598.2 873.6,598 885.6,597.9 897.5,597.8 909.5,597.6 921.4,597.5 933.4,597.4 945.3,597.2 957.2,597.1 969.2,596.9 981.1,596.8 993.1,596.7 1005,596.5 1017,596.4 1028.9,596.2 1040.9,596.1 1052.8,596 1064.8,595.8 1076.7,595.7 1088.7,595.4 1100.6,595.1 1112.5,594.8 1124.5,594.5 1136.4,594.2 1148.4,593.9 1160.3,593.8 1172.3,593.6 1184.2,593.6 1196.2,593.6 1208.1,593.6 1220.1,593.6 1232,593.6 1243.9,593.6 1255.9,593.6 1267.8,593.6 1279.8,593.5 1291.7,593.5 1303.7,593.5 1315.6,593.5 1327.6,593.5 1339.5,593.5 1351.5,593.5 1363.4,593.5 1375.4,593.5 1387.3,593.5"/>
<polygon points="813.9,594.7 818.2,599 813.9,603.3 809.6,599" fill="#ffffff" stroke="#0000ff" stroke-width="1.3"/><polygon points="825.8,594.3 830.2,598.6 825.8,602.9 821.5,598.6" fill="#ffffff" stroke="#0000ff" stroke-width="1.3"/><polygon points="837.8,594.1 842.1,598.5 837.8,602.8 833.4,598.5" fill="#ffffff" stroke="#0000ff" stroke-width="1.3"/><polygon points="849.7,594 854.1,598.3 849.7,602.7 845.4,598.3" fill="#ffffff" stroke="#0000ff" stroke-width="1.3"/><polygon points="861.7,593.8 866,598.2 861.7,602.5 857.3,598.2" fill="#ffffff" stroke="#0000ff" stroke-width="1.3"/><polygon points="873.6,593.7 878,598 873.6,602.4 869.3,598" fill="#ffffff" stroke="#0000ff" stroke-width="1.3"/><polygon points="885.6,593.6 889.9,597.9 885.6,602.2 881.2,597.9" fill="#ffffff" stroke="#0000ff" stroke-width="1.3"/><polygon points="897.5,593.4 901.9,597.8 897.5,602.1 893.2,597.8" fill="#ffffff" stroke="#0000ff" stroke-width="1.3"/><polygon points="909.5,593.3 913.8,597.6 909.5,602 905.1,597.6" fill="#ffffff" stroke="#0000ff" stroke-width="1.3"/><polygon points="921.4,593.2 925.7,597.5 921.4,601.8 917.1,597.5" fill="#ffffff" stroke="#0000ff" stroke-width="1.3"/><polygon points="933.4,593 937.7,597.4 933.4,601.7 929,597.4" fill="#ffffff" stroke="#0000ff" stroke-width="1.3"/><polygon points="945.3,592.9 949.6,597.2 945.3,601.6 941,597.2" fill="#ffffff" stroke="#0000ff" stroke-width="1.3"/><polygon points="957.2,592.7 961.6,597.1 957.2,601.4 952.9,597.1" fill="#ffffff" stroke="#0000ff" stroke-width="1.3"/><polygon points="969.2,592.6 973.5,596.9 969.2,601.3 964.8,596.9" fill="#ffffff" stroke="#0000ff" stroke-width="1.3"/><polygon points="981.1,592.5 985.5,596.8 981.1,601.1 976.8,596.8" fill="#ffffff" stroke="#0000ff" stroke-width="1.3"/><polygon points="993.1,592.3 997.4,596.7 993.1,601 988.7,596.7" fill="#ffffff" stroke="#0000ff" stroke-width="1.3"/><polygon points="1005,592.2 1009.4,596.5 1005,600.9 1000.7,596.5" fill="#ffffff" stroke="#0000ff" stroke-width="1.3"/><polygon points="1017,592 1021.3,596.4 1017,600.7 1012.6,596.4" fill="#ffffff" stroke="#0000ff" stroke-width="1.3"/><polygon points="1028.9,591.9 1033.3,596.2 1028.9,600.6 1024.6,596.2" fill="#ffffff" stroke="#0000ff" stroke-width="1.3"/><polygon points="1040.9,591.8 1045.2,596.1 1040.9,600.5 1036.5,596.1" fill="#ffffff" stroke="#0000ff" stroke-width="1.3"/><polygon points="1052.8,591.6 1057.2,596 1052.8,600.3 1048.5,596" fill="#ffffff" stroke="#0000ff" stroke-width="1.3"/><polygon points="1064.8,591.5 1069.1,595.8 1064.8,600.2 1060.4,595.8" fill="#ffffff" stroke="#0000ff" stroke-width="1.3"/><polygon points="1076.7,591.4 1081,595.7 1076.7,600 1072.4,595.7" fill="#ffffff" stroke="#0000ff" stroke-width="1.3"/><polygon points="1088.7,591.1 1093,595.4 1088.7,599.7 1084.3,595.4" fill="#ffffff" stroke="#0000ff" stroke-width="1.3"/><polygon points="1100.6,590.8 1104.9,595.1 1100.6,599.4 1096.3,595.1" fill="#ffffff" stroke="#0000ff" stroke-width="1.3"/><polygon points="1112.5,590.5 1116.9,594.8 1112.5,599.1 1108.2,594.8" fill="#ffffff" stroke="#0000ff" stroke-width="1.3"/><polygon points="1124.5,590.2 1128.8,594.5 1124.5,598.8 1120.1,594.5" fill="#ffffff" stroke="#0000ff" stroke-width="1.3"/><polygon points="1136.4,589.9 1140.8,594.2 1136.4,598.5 1132.1,594.2" fill="#ffffff" stroke="#0000ff" stroke-width="1.3"/><polygon points="1148.4,589.6 1152.7,593.9 1148.4,598.2 1144,593.9" fill="#ffffff" stroke="#0000ff" stroke-width="1.3"/><polygon points="1160.3,589.4 1164.7,593.8 1160.3,598.1 1156,593.8" fill="#ffffff" stroke="#0000ff" stroke-width="1.3"/><polygon points="1172.3,589.3 1176.6,593.6 1172.3,597.9 1167.9,593.6" fill="#ffffff" stroke="#0000ff" stroke-width="1.3"/><polygon points="1184.2,589.3 1188.6,593.6 1184.2,597.9 1179.9,593.6" fill="#ffffff" stroke="#0000ff" stroke-width="1.3"/><polygon points="1196.2,589.2 1200.5,593.6 1196.2,597.9 1191.8,593.6" fill="#ffffff" stroke="#0000ff" stroke-width="1.3"/><polygon points="1208.1,589.2 1212.4,593.6 1208.1,597.9 1203.8,593.6" fill="#ffffff" stroke="#0000ff" stroke-width="1.3"/><polygon points="1220.1,589.2 1224.4,593.6 1220.1,597.9 1215.7,593.6" fill="#ffffff" stroke="#0000ff" stroke-width="1.3"/><polygon points="1232,589.2 1236.3,593.6 1232,597.9 1227.7,593.6" fill="#ffffff" stroke="#0000ff" stroke-width="1.3"/><polygon points="1243.9,589.2 1248.3,593.6 1243.9,597.9 1239.6,593.6" fill="#ffffff" stroke="#0000ff" stroke-width="1.3"/><polygon points="1255.9,589.2 1260.2,593.6 1255.9,597.9 1251.6,593.6" fill="#ffffff" stroke="#0000ff" stroke-width="1.3"/><polygon points="1267.8,589.2 1272.2,593.6 1267.8,597.9 1263.5,593.6" fill="#ffffff" stroke="#0000ff" stroke-width="1.3"/><polygon points="1279.8,589.2 1284.1,593.5 1279.8,597.9 1275.4,593.5" fill="#ffffff" stroke="#0000ff" stroke-width="1.3"/><polygon points="1291.7,589.2 1296.1,593.5 1291.7,597.9 1287.4,593.5" fill="#ffffff" stroke="#0000ff" stroke-width="1.3"/><polygon points="1303.7,589.2 1308,593.5 1303.7,597.9 1299.3,593.5" fill="#ffffff" stroke="#0000ff" stroke-width="1.3"/><polygon points="1315.6,589.2 1320,593.5 1315.6,597.9 1311.3,593.5" fill="#ffffff" stroke="#0000ff" stroke-width="1.3"/><polygon points="1327.6,589.2 1331.9,593.5 1327.6,597.9 1323.2,593.5" fill="#ffffff" stroke="#0000ff" stroke-width="1.3"/><polygon points="1339.5,589.2 1343.9,593.5 1339.5,597.9 1335.2,593.5" fill="#ffffff" stroke="#0000ff" stroke-width="1.3"/><polygon points="1351.5,589.2 1355.8,593.5 1351.5,597.9 1347.1,593.5" fill="#ffffff" stroke="#0000ff" stroke-width="1.3"/><polygon points="1363.4,589.2 1367.7,593.5 1363.4,597.9 1359.1,593.5" fill="#ffffff" stroke="#0000ff" stroke-width="1.3"/><polygon points="1375.4,589.2 1379.7,593.5 1375.4,597.8 1371,593.5" fill="#ffffff" stroke="#0000ff" stroke-width="1.3"/><polygon points="1387.3,589.2 1391.6,593.5 1387.3,597.8 1383,593.5" fill="#ffffff" stroke="#0000ff" stroke-width="1.3"/>
<polyline fill="none" stroke="#ff0000" stroke-width="1.6" stroke-linejoin="round" points="813.9,592.6 813.9,721.1 813.9,840.5 813.9,884.5 819.9,874.3 825.8,861.8 831.8,848.5 837.8,835.6 843.8,817.8 849.7,804.5 855.7,788.5 861.7,775.4 867.6,764.2 873.6,754.2 879.6,745.7 885.6,737.8 891.5,730 897.5,722.1 903.5,715 909.5,709.5 921.4,695.9 933.4,681.6 945.3,668 957.2,657.8 969.2,648.6 981.1,639.8 993.1,632.7 1005,626.7 1017,621.7 1028.9,617.4 1040.9,613.8 1052.8,611.3 1064.8,608.8 1076.7,606.7 1088.7,605 1100.6,603.1 1112.5,601.3 1124.5,599.6 1136.4,598.4 1148.4,597.7 1160.3,597.2 1172.3,595 1184.2,594.3 1196.2,593.8 1208.1,593.8 1220.1,593.8 1232,593.8 1243.9,593.8 1255.9,593.8 1267.8,593.8 1279.8,593.8 1291.7,593.8 1303.7,593.8 1315.6,593.8 1327.6,593.8 1339.5,593.8 1351.5,593.8 1363.4,593.8 1375.4,593.8 1387.3,593.8"/>
<circle cx="813.9" cy="592.6" r="4.3" fill="#ff0000"/><circle cx="813.9" cy="721.1" r="4.3" fill="#ff0000"/><circle cx="813.9" cy="840.5" r="4.3" fill="#ff0000"/><circle cx="813.9" cy="884.5" r="4.3" fill="#ff0000"/><circle cx="819.9" cy="874.3" r="4.3" fill="#ff0000"/><circle cx="825.8" cy="861.8" r="4.3" fill="#ff0000"/><circle cx="831.8" cy="848.5" r="4.3" fill="#ff0000"/><circle cx="837.8" cy="835.6" r="4.3" fill="#ff0000"/><circle cx="843.8" cy="817.8" r="4.3" fill="#ff0000"/><circle cx="849.7" cy="804.5" r="4.3" fill="#ff0000"/><circle cx="855.7" cy="788.5" r="4.3" fill="#ff0000"/><circle cx="861.7" cy="775.4" r="4.3" fill="#ff0000"/><circle cx="867.6" cy="764.2" r="4.3" fill="#ff0000"/><circle cx="873.6" cy="754.2" r="4.3" fill="#ff0000"/><circle cx="879.6" cy="745.7" r="4.3" fill="#ff0000"/><circle cx="885.6" cy="737.8" r="4.3" fill="#ff0000"/><circle cx="891.5" cy="730" r="4.3" fill="#ff0000"/><circle cx="897.5" cy="722.1" r="4.3" fill="#ff0000"/><circle cx="903.5" cy="715" r="4.3" fill="#ff0000"/><circle cx="909.5" cy="709.5" r="4.3" fill="#ff0000"/><circle cx="921.4" cy="695.9" r="4.3" fill="#ff0000"/><circle cx="933.4" cy="681.6" r="4.3" fill="#ff0000"/><circle cx="945.3" cy="668" r="4.3" fill="#ff0000"/><circle cx="957.2" cy="657.8" r="4.3" fill="#ff0000"/><circle cx="969.2" cy="648.6" r="4.3" fill="#ff0000"/><circle cx="981.1" cy="639.8" r="4.3" fill="#ff0000"/><circle cx="993.1" cy="632.7" r="4.3" fill="#ff0000"/><circle cx="1005" cy="626.7" r="4.3" fill="#ff0000"/><circle cx="1017" cy="621.7" r="4.3" fill="#ff0000"/><circle cx="1028.9" cy="617.4" r="4.3" fill="#ff0000"/><circle cx="1040.9" cy="613.8" r="4.3" fill="#ff0000"/><circle cx="1052.8" cy="611.3" r="4.3" fill="#ff0000"/><circle cx="1064.8" cy="608.8" r="4.3" fill="#ff0000"/><circle cx="1076.7" cy="606.7" r="4.3" fill="#ff0000"/><circle cx="1088.7" cy="605" r="4.3" fill="#ff0000"/><circle cx="1100.6" cy="603.1" r="4.3" fill="#ff0000"/><circle cx="1112.5" cy="601.3" r="4.3" fill="#ff0000"/><circle cx="1124.5" cy="599.6" r="4.3" fill="#ff0000"/><circle cx="1136.4" cy="598.4" r="4.3" fill="#ff0000"/><circle cx="1148.4" cy="597.7" r="4.3" fill="#ff0000"/><circle cx="1160.3" cy="597.2" r="4.3" fill="#ff0000"/><circle cx="1172.3" cy="595" r="4.3" fill="#ff0000"/><circle cx="1184.2" cy="594.3" r="4.3" fill="#ff0000"/><circle cx="1196.2" cy="593.8" r="4.3" fill="#ff0000"/><circle cx="1208.1" cy="593.8" r="4.3" fill="#ff0000"/><circle cx="1220.1" cy="593.8" r="4.3" fill="#ff0000"/><circle cx="1232" cy="593.8" r="4.3" fill="#ff0000"/><circle cx="1243.9" cy="593.8" r="4.3" fill="#ff0000"/><circle cx="1255.9" cy="593.8" r="4.3" fill="#ff0000"/><circle cx="1267.8" cy="593.8" r="4.3" fill="#ff0000"/><circle cx="1279.8" cy="593.8" r="4.3" fill="#ff0000"/><circle cx="1291.7" cy="593.8" r="4.3" fill="#ff0000"/><circle cx="1303.7" cy="593.8" r="4.3" fill="#ff0000"/><circle cx="1315.6" cy="593.8" r="4.3" fill="#ff0000"/><circle cx="1327.6" cy="593.8" r="4.3" fill="#ff0000"/><circle cx="1339.5" cy="593.8" r="4.3" fill="#ff0000"/><circle cx="1351.5" cy="593.8" r="4.3" fill="#ff0000"/><circle cx="1363.4" cy="593.8" r="4.3" fill="#ff0000"/><circle cx="1375.4" cy="593.8" r="4.3" fill="#ff0000"/><circle cx="1387.3" cy="593.8" r="4.3" fill="#ff0000"/>
<polyline fill="none" stroke="#0000ff" stroke-width="1.6" stroke-linejoin="round" points="813.9,599 813.9,737.1 813.9,791.1 813.9,898.5 819.9,888.5 825.8,875.4 831.8,862.1 837.8,846.5 843.8,826.3 849.7,812.5 855.7,797.8 861.7,784.2 867.6,771.8 873.6,760.2 879.6,750.7 885.6,742.1 891.5,733.5 897.5,725.4 903.5,716.7 909.5,709 921.4,694.9 933.4,680.6 945.3,667 957.2,656.8 969.2,647.6 981.1,638.8 993.1,631.7 1005,625.7 1017,620.7 1028.9,616.4 1040.9,612.8 1052.8,610.3 1064.8,607.8 1076.7,605.7 1088.7,604 1100.6,602.1 1112.5,600.3 1124.5,598.6 1136.4,597.4 1148.4,596.7 1160.3,596.2 1172.3,595.3 1184.2,594.6 1196.2,594.1 1208.1,594.1 1220.1,594.1 1232,594.1 1243.9,594.1 1255.9,594.1 1267.8,594.1 1279.8,594.1 1291.7,594.1 1303.7,594.1 1315.6,594.1 1327.6,594.1 1339.5,594.1 1351.5,594.1 1363.4,594.1 1375.4,594.1 1387.3,594.1"/>
<polygon points="813.9,593.8 819.1,599 813.9,604.2 808.6,599" fill="#0000ff"/><polygon points="813.9,731.9 819.1,737.1 813.9,742.4 808.6,737.1" fill="#0000ff"/><polygon points="813.9,785.9 819.1,791.1 813.9,796.4 808.6,791.1" fill="#0000ff"/><polygon points="813.9,893.2 819.1,898.5 813.9,903.8 808.6,898.5" fill="#0000ff"/><polygon points="819.9,883.2 825.1,888.5 819.9,893.8 814.6,888.5" fill="#0000ff"/><polygon points="825.8,870.1 831.1,875.4 825.8,880.6 820.6,875.4" fill="#0000ff"/><polygon points="831.8,856.9 837.1,862.1 831.8,867.4 826.6,862.1" fill="#0000ff"/><polygon points="837.8,841.2 843,846.5 837.8,851.8 832.5,846.5" fill="#0000ff"/><polygon points="843.8,821 849,826.3 843.8,831.5 838.5,826.3" fill="#0000ff"/><polygon points="849.7,807.2 855,812.5 849.7,817.8 844.5,812.5" fill="#0000ff"/><polygon points="855.7,792.5 861,797.8 855.7,803 850.5,797.8" fill="#0000ff"/><polygon points="861.7,779 866.9,784.2 861.7,789.5 856.4,784.2" fill="#0000ff"/><polygon points="867.6,766.5 872.9,771.8 867.6,777 862.4,771.8" fill="#0000ff"/><polygon points="873.6,755 878.9,760.2 873.6,765.5 868.4,760.2" fill="#0000ff"/><polygon points="879.6,745.5 884.8,750.7 879.6,756 874.3,750.7" fill="#0000ff"/><polygon points="885.6,736.9 890.8,742.1 885.6,747.4 880.3,742.1" fill="#0000ff"/><polygon points="891.5,728.2 896.8,733.5 891.5,738.8 886.3,733.5" fill="#0000ff"/><polygon points="897.5,720.1 902.8,725.4 897.5,730.6 892.3,725.4" fill="#0000ff"/><polygon points="903.5,711.5 908.7,716.7 903.5,722 898.2,716.7" fill="#0000ff"/><polygon points="909.5,703.8 914.7,709 909.5,714.2 904.2,709" fill="#0000ff"/><polygon points="921.4,689.6 926.7,694.9 921.4,700.1 916.2,694.9" fill="#0000ff"/><polygon points="933.4,675.4 938.6,680.6 933.4,685.9 928.1,680.6" fill="#0000ff"/><polygon points="945.3,661.8 950.5,667 945.3,672.2 940,667" fill="#0000ff"/><polygon points="957.2,651.5 962.5,656.8 957.2,662 952,656.8" fill="#0000ff"/><polygon points="969.2,642.4 974.4,647.6 969.2,652.9 963.9,647.6" fill="#0000ff"/><polygon points="981.1,633.5 986.4,638.8 981.1,644 975.9,638.8" fill="#0000ff"/><polygon points="993.1,626.5 998.3,631.7 993.1,637 987.8,631.7" fill="#0000ff"/><polygon points="1005,620.5 1010.3,625.7 1005,631 999.8,625.7" fill="#0000ff"/><polygon points="1017,615.5 1022.2,620.7 1017,626 1011.7,620.7" fill="#0000ff"/><polygon points="1028.9,611.1 1034.2,616.4 1028.9,621.6 1023.7,616.4" fill="#0000ff"/><polygon points="1040.9,607.5 1046.1,612.8 1040.9,618 1035.6,612.8" fill="#0000ff"/><polygon points="1052.8,605 1058.1,610.3 1052.8,615.5 1047.6,610.3" fill="#0000ff"/><polygon points="1064.8,602.5 1070,607.8 1064.8,613 1059.5,607.8" fill="#0000ff"/><polygon points="1076.7,600.5 1082,605.7 1076.7,611 1071.5,605.7" fill="#0000ff"/><polygon points="1088.7,598.8 1093.9,604 1088.7,609.2 1083.4,604" fill="#0000ff"/><polygon points="1100.6,596.9 1105.8,602.1 1100.6,607.4 1095.3,602.1" fill="#0000ff"/><polygon points="1112.5,595 1117.8,600.3 1112.5,605.5 1107.3,600.3" fill="#0000ff"/><polygon points="1124.5,593.4 1129.7,598.6 1124.5,603.9 1119.2,598.6" fill="#0000ff"/><polygon points="1136.4,592.1 1141.7,597.4 1136.4,602.6 1131.2,597.4" fill="#0000ff"/><polygon points="1148.4,591.5 1153.6,596.7 1148.4,602 1143.1,596.7" fill="#0000ff"/><polygon points="1160.3,591 1165.6,596.2 1160.3,601.5 1155.1,596.2" fill="#0000ff"/><polygon points="1172.3,590 1177.5,595.3 1172.3,600.5 1167,595.3" fill="#0000ff"/><polygon points="1184.2,589.4 1189.5,594.6 1184.2,599.9 1179,594.6" fill="#0000ff"/><polygon points="1196.2,588.9 1201.4,594.1 1196.2,599.4 1190.9,594.1" fill="#0000ff"/><polygon points="1208.1,588.9 1213.4,594.1 1208.1,599.4 1202.9,594.1" fill="#0000ff"/><polygon points="1220.1,588.9 1225.3,594.1 1220.1,599.4 1214.8,594.1" fill="#0000ff"/><polygon points="1232,588.9 1237.3,594.1 1232,599.4 1226.8,594.1" fill="#0000ff"/><polygon points="1243.9,588.9 1249.2,594.1 1243.9,599.4 1238.7,594.1" fill="#0000ff"/><polygon points="1255.9,588.9 1261.1,594.1 1255.9,599.4 1250.6,594.1" fill="#0000ff"/><polygon points="1267.8,588.9 1273.1,594.1 1267.8,599.4 1262.6,594.1" fill="#0000ff"/><polygon points="1279.8,588.9 1285,594.1 1279.8,599.4 1274.5,594.1" fill="#0000ff"/><polygon points="1291.7,588.9 1297,594.1 1291.7,599.4 1286.5,594.1" fill="#0000ff"/><polygon points="1303.7,588.9 1308.9,594.1 1303.7,599.4 1298.4,594.1" fill="#0000ff"/><polygon points="1315.6,588.9 1320.9,594.1 1315.6,599.4 1310.4,594.1" fill="#0000ff"/><polygon points="1327.6,588.9 1332.8,594.1 1327.6,599.4 1322.3,594.1" fill="#0000ff"/><polygon points="1339.5,588.9 1344.8,594.1 1339.5,599.4 1334.3,594.1" fill="#0000ff"/><polygon points="1351.5,588.9 1356.7,594.1 1351.5,599.4 1346.2,594.1" fill="#0000ff"/><polygon points="1363.4,588.9 1368.7,594.1 1363.4,599.4 1358.2,594.1" fill="#0000ff"/><polygon points="1375.4,588.9 1380.6,594.1 1375.4,599.4 1370.1,594.1" fill="#0000ff"/><polygon points="1387.3,588.9 1392.5,594.1 1387.3,599.4 1382,594.1" fill="#0000ff"/>
</g>
<rect x="790" y="567.2" width="597.3" height="422.3" fill="none" stroke="#000" stroke-width="2.7"/>
<path d="M790 989.5V980.9M790 567.2V575.8M909.5 989.5V980.9M909.5 567.2V575.8M1028.9 989.5V980.9M1028.9 567.2V575.8M1148.4 989.5V980.9M1148.4 567.2V575.8M1267.8 989.5V980.9M1267.8 567.2V575.8M1387.3 989.5V980.9M1387.3 567.2V575.8M849.7 989.5V984.2M849.7 567.2V572.5M969.2 989.5V984.2M969.2 567.2V572.5M1088.7 989.5V984.2M1088.7 567.2V572.5M1208.1 989.5V984.2M1208.1 567.2V572.5M1327.6 989.5V984.2M1327.6 567.2V572.5M790 593.1H798.6M1387.3 593.1H1378.7M790 696.5H798.6M1387.3 696.5H1378.7M790 799.9H798.6M1387.3 799.9H1378.7M790 903.3H798.6M1387.3 903.3H1378.7M790 644.8H795.3M1387.3 644.8H1382M790 748.2H795.3M1387.3 748.2H1382M790 851.6H795.3M1387.3 851.6H1382M790 955H795.3M1387.3 955H1382" stroke="#000" stroke-width="2.4" fill="none" stroke-linecap="butt"/>
<text transform="translate(789 1015.3) scale(0.875 1)" font-size="23.3" text-anchor="middle">0</text>
<text transform="translate(908.5 1015.3) scale(0.875 1)" font-size="23.3" text-anchor="middle">10</text>
<text transform="translate(1027.9 1015.3) scale(0.875 1)" font-size="23.3" text-anchor="middle">20</text>
<text transform="translate(1147.4 1015.3) scale(0.875 1)" font-size="23.3" text-anchor="middle">30</text>
<text transform="translate(1266.8 1015.3) scale(0.875 1)" font-size="23.3" text-anchor="middle">40</text>
<text transform="translate(1386.3 1015.3) scale(0.875 1)" font-size="23.3" text-anchor="middle">50</text>
<text transform="translate(780.9 598.8) scale(0.875 1)" font-size="23.3" text-anchor="end">0</text>
<text transform="translate(780.9 702.2) scale(0.875 1)" font-size="23.3" text-anchor="end">-3</text>
<text transform="translate(780.9 805.6) scale(0.875 1)" font-size="23.3" text-anchor="end">-6</text>
<text transform="translate(780.9 909) scale(0.875 1)" font-size="23.3" text-anchor="end">-9</text>
<text transform="translate(1184.1 845.8) scale(0.960 1)" font-size="24.7" text-anchor="start" class="lt">LaCa122-B</text>
<text transform="translate(1162.9 875.8) scale(0.960 1)" font-size="24.7" text-anchor="start" class="lt">ZFC</text>
<text transform="translate(1229.9 875.8) scale(0.960 1)" font-size="24.7" text-anchor="start" class="lt">FC</text>
<text transform="translate(1287.7 875.8) scale(0.960 1)" font-size="24.7" text-anchor="start" class="lt">5 Oe</text>
<line x1="1156.1" y1="898.2" x2="1211.8" y2="898.2" stroke="#000000" stroke-width="2.1"/>
<rect x="1177.2" y="891.4" width="13.7" height="13.7" fill="#000000"/>
<line x1="1217.3" y1="898.2" x2="1272.9" y2="898.2" stroke="#000000" stroke-width="2.1"/>
<rect x="1239.2" y="892.2" width="12.1" height="12.1" fill="#ffffff" stroke="#000000" stroke-width="1.6"/>
<text transform="translate(1279 905.8) scale(0.960 1)" font-size="24.7" text-anchor="start" class="lt">pristine</text>
<line x1="1156.1" y1="928.4" x2="1211.8" y2="928.4" stroke="#ff0000" stroke-width="2.1"/>
<circle cx="1184" cy="928.4" r="8.5" fill="#ff0000"/>
<line x1="1217.3" y1="928.4" x2="1272.9" y2="928.4" stroke="#ff0000" stroke-width="2.1"/>
<circle cx="1245.2" cy="928.4" r="7.7" fill="#ffffff" stroke="#ff0000" stroke-width="1.6"/>
<text transform="translate(1279 936) scale(0.960 1)" font-size="24.7" text-anchor="start" class="lt">110 mA</text>
<line x1="1156.1" y1="958.3" x2="1211.8" y2="958.3" stroke="#0000ff" stroke-width="2.1"/>
<polygon points="1184,948.1 1194.2,958.3 1184,968.5 1173.8,958.3" fill="#0000ff"/>
<line x1="1217.3" y1="958.3" x2="1272.9" y2="958.3" stroke="#0000ff" stroke-width="2.1"/>
<polygon points="1245.2,949.2 1254.3,958.3 1245.2,967.4 1236.1,958.3" fill="#ffffff" stroke="#0000ff" stroke-width="1.6"/>
<text transform="translate(1279 965.9) scale(0.960 1)" font-size="24.7" text-anchor="start" class="lt">10 days</text>
<text transform="translate(717.0 574.4) scale(1.000 1)" font-size="50.0" text-anchor="start">d</text>
<text transform="translate(1095.3 1047.4) scale(0.905 1)" font-size="30.0" text-anchor="middle" word-spacing="1">T (K)</text>
<text transform="translate(748.2 761.7) rotate(-90) scale(0.918 1)" font-size="30.0" text-anchor="middle">M (<tspan class="n" style="stroke-width:0.6px">×</tspan>10<tspan font-size="17.0" class="n" dy="-16.5">-5</tspan><tspan dy="16.5"> emu)</tspan></text>
</g>
</svg>
</body></html>
